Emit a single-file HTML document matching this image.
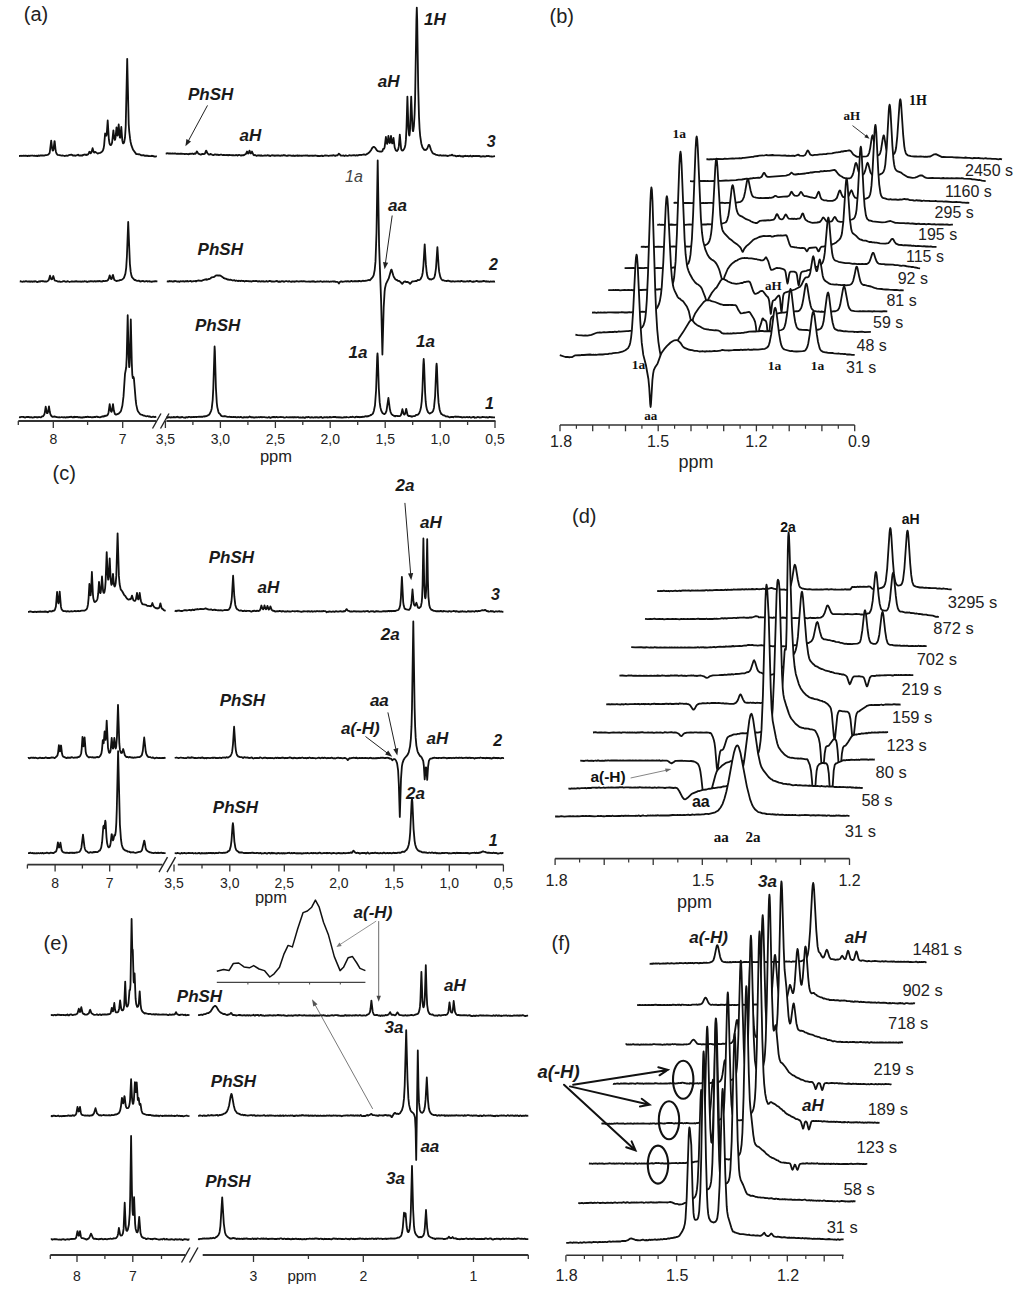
<!DOCTYPE html>
<html><head><meta charset="utf-8"><style>html,body{margin:0;padding:0;background:#fff;width:1024px;height:1292px;overflow:hidden}svg{display:block}</style></head>
<body><svg width="1024" height="1292" viewBox="0 0 1024 1292"><text x="23.8" y="20.5" font-family="Liberation Sans" font-size="20.0" font-weight="normal" font-style="normal" text-anchor="start" fill="#222">(a)</text>
<path d="M19.0,156.0L20.6,155.9 20.9,155.7 21.8,156.0 22.1,155.8 22.3,155.9 23.4,155.7 24.0,155.9 25.2,155.7 27.7,156.0 29.0,155.7 29.8,156.0 30.6,155.7 32.0,155.7 32.3,155.5 33.8,155.9 34.6,155.6 35.6,156.0 36.5,155.7 36.7,156.0 37.1,155.8 37.5,156.0 38.2,155.5 38.4,155.8 38.9,155.7 39.3,155.9 39.9,155.5 42.9,155.4 44.1,155.6 45.5,155.1 47.0,155.2 47.1,155.0 48.2,154.7 49.4,153.4 49.8,152.0 51.2,140.7 52.2,148.9 52.5,150.1 52.9,150.6 53.3,150.1 53.6,148.8 54.4,141.8 54.5,141.2 54.6,141.1 54.7,141.3 55.5,149.3 56.0,152.0 56.6,153.7 57.6,154.8 59.7,155.1 60.2,155.4 60.6,155.3 61.5,155.7 63.0,155.5 64.5,156.0 65.3,155.9 66.3,155.5 67.1,155.9 67.9,155.7 68.7,155.2 71.4,154.6 72.5,155.1 72.9,155.5 74.3,155.4 75.1,155.8 75.3,155.6 75.7,155.7 76.1,155.3 76.8,155.4 77.1,155.0 78.3,154.7 78.8,155.4 79.3,155.6 79.6,155.4 79.8,155.5 80.8,155.4 81.4,155.7 81.9,155.3 82.4,155.5 82.9,155.0 83.4,155.1 84.2,154.6 84.5,154.7 84.8,154.5 85.2,154.8 85.6,154.6 86.2,155.0 86.5,154.7 87.1,154.9 87.3,154.6 88.0,154.4 88.8,153.2 89.3,151.9 89.7,151.7 90.6,153.3 91.4,152.6 92.6,148.2 93.5,151.5 94.1,152.6 94.8,152.4 95.2,151.9 95.4,151.9 97.7,153.6 98.0,153.4 98.4,153.4 98.7,153.1 100.1,152.9 101.7,152.0 102.4,151.2 102.9,150.5 103.6,148.4 104.1,145.3 105.1,133.5 105.5,134.1 105.9,134.1 106.4,135.7 106.7,134.6 107.7,120.5 108.9,139.7 109.5,143.4 110.0,144.6 110.5,145.0 111.1,144.9 111.6,144.1 112.1,142.5 113.4,130.4 114.2,137.9 114.8,139.9 115.2,139.4 115.6,137.2 116.5,127.3 117.3,134.9 117.5,135.6 117.7,135.3 118.7,124.5 119.8,137.4 120.1,137.8 120.4,136.8 121.3,127.0 122.3,140.4 122.9,143.0 123.2,143.3 123.7,143.1 124.2,142.1 125.0,137.5 125.7,126.6 127.2,58.8 128.7,124.0 129.2,131.2 130.1,138.7 130.6,142.0 131.5,145.7 133.1,149.8 136.3,154.1 136.6,154.0 137.0,154.2 138.0,154.1 138.3,154.4 139.3,154.2 141.1,155.1 141.3,155.4 143.4,155.1 145.0,155.9 145.8,155.6 146.3,155.9 146.8,155.6 147.7,155.8 147.8,155.6 148.3,156.1 148.9,156.2 149.2,156.0 149.9,156.2 151.2,156.1 151.9,155.7 152.3,156.0 152.9,155.9 153.4,156.3 154.0,156.2 154.4,156.5 155.3,156.6 156.8,156.2" fill="none" stroke="#111" stroke-width="1.80" stroke-linejoin="round"/>
<path d="M165.7,153.3L166.8,153.5 167.9,153.2 168.4,153.5 170.2,153.4 171.3,153.7 172.6,153.3 173.2,153.7 175.0,153.4 176.7,153.9 177.9,153.6 179.9,153.8 180.3,153.6 180.9,153.8 181.4,153.6 183.0,153.9 184.0,153.8 184.8,154.1 186.1,153.8 186.9,153.9 187.2,154.2 188.0,154.0 188.4,154.3 189.0,153.9 189.5,154.1 189.8,153.6 191.2,153.9 192.2,153.5 193.2,154.1 193.9,153.7 194.5,153.8 194.7,153.5 195.2,153.8 195.5,153.7 196.3,152.6 196.7,151.5 197.0,151.5 198.3,153.6 200.8,154.7 202.3,153.9 203.8,154.2 204.9,153.7 206.1,150.7 206.4,150.8 207.5,153.4 209.1,154.7 210.7,153.9 211.4,154.4 211.9,154.4 212.2,154.9 213.4,155.1 215.0,154.4 216.2,154.6 216.8,154.9 217.4,154.6 218.1,154.8 218.2,154.7 218.9,155.1 220.6,154.7 221.8,154.7 222.8,155.2 223.7,154.9 226.1,155.1 227.1,154.8 227.5,155.2 228.2,155.4 229.1,154.8 230.2,155.2 231.5,155.1 231.9,155.4 232.4,155.2 233.0,155.4 233.3,155.1 234.3,155.4 235.1,155.4 235.9,154.9 236.5,155.2 236.9,155.1 237.4,155.6 239.1,154.8 240.6,155.5 241.3,155.5 241.7,155.2 242.4,155.4 242.8,155.1 243.2,155.4 243.9,155.0 244.1,155.1 244.8,154.5 245.8,154.2 247.0,151.5 248.0,153.5 248.3,153.6 248.7,153.0 249.5,150.6 250.6,153.4 250.9,153.5 251.4,152.9 252.0,151.5 253.5,155.0 254.3,155.3 255.1,154.9 256.7,155.9 257.8,155.3 258.4,155.5 258.8,155.3 259.6,155.6 260.0,155.4 260.2,155.7 260.6,155.4 260.7,155.6 261.3,155.5 261.6,155.7 261.8,155.5 262.8,155.8 263.7,155.7 264.0,155.5 265.0,155.6 265.2,155.3 266.7,155.6 267.8,155.2 268.4,155.6 269.0,155.5 269.3,155.8 270.1,155.7 270.4,156.0 271.9,155.2 272.7,155.5 274.2,155.5 274.6,155.8 276.0,155.5 276.4,155.7 276.7,155.4 278.2,155.5 278.6,155.3 280.2,155.9 281.5,155.4 282.5,155.6 283.5,155.2 283.8,155.4 284.0,155.1 284.8,155.5 285.3,155.3 287.0,156.0 287.8,155.5 289.1,155.5 289.8,155.3 292.0,155.9 292.6,155.6 293.0,155.8 293.4,155.5 293.9,155.9 294.3,155.7 294.8,156.0 295.5,155.6 295.6,155.8 296.6,155.5 297.3,155.8 297.6,155.5 298.1,155.9 298.7,155.6 299.1,155.9 299.4,155.5 299.7,155.7 300.5,155.6 300.9,155.9 301.5,155.7 302.0,155.9 302.8,155.6 303.2,155.7 303.6,155.5 304.4,155.7 305.4,155.5 305.7,155.7 307.2,155.4 308.2,155.8 309.2,155.6 309.9,155.9 310.3,155.7 311.6,155.6 312.1,155.9 312.8,155.6 313.1,155.8 315.5,155.5 316.9,155.9 317.1,155.7 317.6,156.1 318.3,155.9 318.7,156.1 319.1,155.9 319.2,156.1 320.3,156.0 321.3,155.7 322.1,155.9 322.3,155.7 322.5,156.1 323.0,156.2 324.5,155.5 324.8,155.7 325.8,155.5 326.8,155.7 327.6,155.6 328.7,156.0 329.7,155.7 332.9,155.5 333.4,155.2 335.2,155.9 335.6,155.9 336.0,155.4 336.2,155.6 336.7,155.3 337.5,155.3 338.9,153.7 340.8,155.5 342.6,155.7 343.6,155.5 344.4,156.0 345.8,155.3 346.3,155.7 347.3,155.8 348.6,155.6 349.2,155.2 350.2,155.3 351.1,155.7 352.1,155.4 354.1,155.2 355.6,155.6 356.4,155.2 357.9,155.5 358.9,154.9 359.9,154.8 360.1,155.0 360.5,154.9 361.4,155.0 363.9,154.3 365.7,154.8 366.3,154.5 366.6,154.1 367.0,154.1 367.2,153.7 368.2,153.4 368.5,152.9 369.0,152.7 369.7,151.9 371.0,150.2 372.2,148.0 373.4,146.8 374.1,146.9 375.3,147.9 376.8,150.3 378.0,151.2 380.0,151.7 380.3,151.5 380.6,151.6 381.8,151.5 382.4,151.1 383.2,148.9 384.1,148.7 384.6,147.3 385.9,136.9 386.7,142.9 387.2,143.9 387.6,142.6 388.4,135.9 389.2,141.7 389.7,143.0 390.0,142.7 390.2,141.7 391.0,135.9 391.8,142.0 392.2,143.4 392.5,143.4 392.6,143.2 393.5,137.9 394.7,147.5 395.8,150.3 396.4,150.8 397.1,151.0 398.1,149.6 398.8,146.4 399.8,134.7 401.1,148.6 401.4,149.7 402.0,150.5 403.0,150.3 404.1,149.0 404.8,147.4 405.4,144.7 405.9,139.9 406.5,127.9 407.4,96.6 408.4,126.9 409.0,134.8 409.3,135.5 409.5,135.2 410.0,130.7 411.2,96.6 412.5,128.5 412.8,130.7 413.0,131.1 413.2,131.0 413.9,126.2 414.6,114.2 415.1,98.8 416.4,20.0 416.8,7.6 417.2,20.4 418.2,86.8 419.0,116.8 419.6,129.0 420.2,136.2 421.3,143.4 422.5,147.5 424.3,149.9 425.3,150.0 425.8,149.7 426.3,149.8 427.3,148.5 428.7,144.8 429.1,144.8 429.6,145.5 431.1,150.1 432.5,152.9 433.5,153.7 435.4,154.4 436.0,154.9 436.8,154.8 438.9,155.5 440.8,155.2 441.6,155.7 443.6,155.4 444.7,155.6 445.0,155.4 448.0,156.0 449.6,155.4 451.1,155.4 451.6,154.8 452.1,154.7 453.1,155.6 454.8,155.7 456.3,156.3 457.7,155.8 458.6,156.0 459.9,155.7 461.0,156.4 461.7,156.2 462.3,156.6 462.9,156.2 463.2,156.5 463.5,156.5 464.1,156.0 464.4,156.2 465.3,155.7 466.0,156.1 468.0,155.9 468.8,156.4 470.2,155.7 470.6,155.7 471.2,156.3 472.0,156.5 472.7,156.0 473.3,156.0 473.6,155.8 475.1,156.2 475.9,155.8 477.4,156.2 477.7,155.9 478.0,156.1 479.0,155.8 480.5,156.6 481.0,156.4 481.4,156.6 482.5,156.4 482.9,156.1 484.6,156.5 485.3,156.3 485.7,156.5 486.9,155.8 487.6,156.2 489.0,156.0 489.6,156.4 490.8,156.4 491.3,156.6 491.6,156.4 492.3,156.6 495.0,156.2" fill="none" stroke="#111" stroke-width="1.80" stroke-linejoin="round"/>
<path d="M19.8,281.3L20.1,281.4 20.6,281.2 21.3,281.6 21.5,281.5 22.6,281.8 23.5,281.3 24.5,281.6 26.0,281.1 27.5,281.6 28.7,281.3 29.9,281.5 30.2,281.9 30.7,281.5 31.7,281.4 32.7,281.8 33.6,281.4 34.6,281.5 34.9,281.2 35.8,281.4 36.5,281.8 37.1,281.8 37.2,282.0 38.2,281.8 38.7,281.4 39.2,281.6 39.7,281.3 40.1,281.6 41.1,281.2 42.3,281.1 42.8,281.3 43.0,281.1 44.7,281.6 45.3,281.4 46.8,281.6 47.8,281.0 48.8,279.9 50.0,275.7 51.2,279.3 52.1,279.2 53.3,276.0 54.5,280.0 55.1,280.7 56.7,280.9 57.8,281.6 58.9,281.5 59.2,281.3 60.6,281.9 62.2,281.7 63.6,281.1 64.5,281.2 65.3,281.7 65.7,281.6 66.0,281.9 66.3,281.6 67.2,281.5 67.4,281.1 67.9,281.2 69.6,282.0 71.1,281.5 72.3,281.4 74.1,281.7 74.4,281.4 75.2,281.5 75.5,281.2 75.9,281.4 76.7,281.2 77.0,281.7 78.4,281.5 79.2,281.7 80.3,281.4 80.9,281.8 82.4,281.3 83.6,281.6 84.7,281.2 84.9,281.4 85.5,281.3 85.9,281.5 86.5,281.4 87.2,282.0 88.7,281.4 89.5,281.6 90.1,281.2 90.6,281.3 90.8,281.2 93.7,281.5 94.4,281.2 95.0,281.3 95.2,281.1 95.7,281.5 97.4,281.1 97.6,281.3 97.8,281.2 98.4,281.4 99.1,281.0 99.9,281.1 100.2,281.5 101.0,281.3 102.0,281.5 102.5,281.4 103.0,280.9 103.4,280.8 103.9,281.2 104.7,281.2 105.8,280.8 106.7,280.9 108.0,280.0 108.8,278.5 109.7,275.3 110.8,278.6 111.3,279.1 111.9,278.5 112.7,275.3 113.0,275.0 114.2,279.5 114.5,280.0 116.3,281.0 118.3,280.6 118.8,280.7 120.3,279.9 120.6,280.1 121.7,279.9 123.6,278.4 124.2,277.3 125.4,273.6 126.2,267.8 126.9,256.5 128.2,222.0 129.9,263.8 130.7,271.9 131.4,275.4 132.0,277.1 133.8,279.3 134.7,280.0 135.0,279.8 136.4,280.6 137.3,280.9 138.8,280.6 140.1,281.5 143.2,280.9 143.9,281.4 144.7,281.6 146.2,281.0 147.0,281.2 147.7,281.6 147.9,281.3 148.8,281.4 149.0,281.1 149.7,281.6 150.2,281.5 150.5,281.7 151.0,281.5 151.7,281.8 153.0,281.3 153.8,281.5 155.3,281.2 157.4,281.3" fill="none" stroke="#111" stroke-width="1.80" stroke-linejoin="round"/>
<path d="M166.8,281.3L168.5,281.5 169.3,281.0 169.7,281.3 170.0,281.1 170.9,281.4 171.7,281.2 172.3,281.5 173.2,281.6 174.1,281.1 174.8,281.3 175.2,281.0 175.6,281.2 176.2,281.2 176.8,281.6 178.3,281.4 179.5,281.9 179.9,281.5 180.9,281.1 181.3,281.4 183.2,281.2 184.3,281.6 185.6,281.1 186.0,281.3 187.5,281.0 188.5,281.5 190.0,281.0 191.2,281.2 191.5,281.5 192.9,281.4 193.5,281.1 194.6,281.2 195.2,281.0 195.5,281.3 196.3,281.0 196.5,281.2 197.0,280.8 198.0,280.5 201.6,280.9 202.5,280.3 204.7,279.7 205.0,279.4 205.8,279.6 206.2,279.3 206.5,279.7 206.8,279.4 207.7,279.6 208.7,279.0 209.4,279.0 210.4,278.5 211.5,277.4 213.6,277.2 214.8,276.5 215.5,275.7 215.9,275.7 216.3,275.3 217.0,275.5 217.5,275.3 217.9,275.6 218.6,275.5 219.0,275.7 219.3,275.4 220.6,275.7 223.5,277.7 223.7,278.1 223.9,277.9 224.2,278.3 224.4,278.1 225.0,278.7 225.7,278.6 227.4,279.5 227.9,279.3 229.2,279.8 230.5,279.6 232.7,280.5 234.2,280.1 235.5,280.9 236.4,280.5 238.1,281.2 238.7,280.7 240.6,281.1 241.1,280.7 241.6,280.9 242.1,280.8 242.6,281.0 243.9,281.0 244.6,281.5 246.0,280.8 247.8,281.1 248.1,281.0 249.0,281.4 250.2,281.1 250.6,281.4 251.7,281.6 252.1,281.2 254.2,281.0 255.0,281.2 255.5,280.9 256.2,280.9 257.7,281.5 257.9,281.2 258.4,281.5 259.3,281.2 260.4,281.6 261.9,281.2 262.2,281.5 263.0,281.3 263.4,281.5 263.7,281.1 264.1,281.5 265.1,281.6 266.6,281.0 267.3,281.5 268.1,281.6 268.7,281.1 269.3,281.2 269.8,280.8 270.5,281.2 270.9,281.2 271.3,281.6 272.1,281.4 272.6,281.7 272.8,281.5 274.3,281.7 276.2,281.2 276.3,281.0 276.6,280.9 277.1,281.3 277.7,281.2 278.1,281.8 278.6,281.6 279.2,281.8 279.6,281.5 280.1,281.9 282.0,281.1 283.3,281.3 283.9,281.8 286.1,281.0 288.1,281.6 288.8,281.2 289.6,281.2 290.2,281.6 291.4,281.8 291.7,281.5 292.2,281.7 292.7,281.6 292.9,281.3 293.4,281.7 294.0,281.5 294.5,281.8 294.8,281.5 295.1,281.7 296.6,281.2 298.9,281.7 299.5,281.4 301.8,281.2 302.5,281.5 303.7,281.1 306.0,281.7 307.3,281.6 307.8,281.7 309.3,281.5 310.1,281.8 310.3,281.6 311.6,281.3 312.1,281.6 312.8,281.3 313.0,281.5 313.4,281.2 314.3,281.6 314.5,281.5 314.9,281.9 315.6,281.9 317.7,281.3 318.2,281.6 319.3,281.7 320.1,281.2 322.6,281.8 324.0,281.3 324.5,281.6 325.5,281.7 326.4,281.4 326.8,281.6 328.6,281.5 329.4,281.8 330.5,281.5 330.8,281.7 331.9,281.6 332.3,281.3 333.1,281.5 334.1,281.3 335.0,281.5 335.4,281.9 337.0,281.8 338.0,282.3 338.9,283.5 339.6,282.3 340.7,281.5 341.9,281.5 342.3,281.8 345.1,281.3 345.4,281.4 346.1,281.2 346.6,281.5 348.0,281.2 349.1,281.6 350.2,281.5 351.1,280.9 351.7,280.9 352.6,281.5 354.2,281.1 354.8,281.3 355.1,281.0 355.7,281.3 356.2,281.2 356.5,281.4 357.2,281.1 357.7,281.4 358.0,281.2 358.6,281.3 359.2,280.8 361.0,281.4 363.2,280.7 363.7,281.0 364.1,280.8 364.7,281.0 365.3,280.7 365.5,280.9 365.9,280.9 366.2,280.6 367.7,280.4 368.2,280.0 369.0,280.2 369.2,280.0 369.8,280.3 372.7,277.1 373.7,275.1 374.7,270.0 375.5,261.4 376.5,232.6 377.7,160.4 379.1,245.6 381.1,300.7 382.4,354.6 383.7,307.1 384.6,291.6 385.0,288.2 386.0,283.9 388.7,278.4 391.0,270.2 391.4,269.6 391.7,269.9 393.3,275.6 394.2,277.6 395.3,279.3 396.5,280.1 397.0,280.0 397.9,280.8 399.3,281.0 399.7,281.2 400.1,281.8 400.7,282.0 401.0,282.7 402.2,283.9 403.7,282.1 404.5,281.6 405.3,281.4 406.0,282.0 406.3,281.9 407.0,282.1 407.5,281.9 408.4,282.4 408.6,282.3 410.1,283.9 412.3,281.4 413.8,281.4 415.3,281.0 416.3,281.2 417.8,280.0 418.8,280.2 419.6,280.0 420.7,278.8 421.4,277.5 422.0,276.0 422.7,272.7 423.4,265.8 424.7,244.4 425.9,264.4 426.7,272.5 427.2,275.4 428.1,278.1 429.5,279.3 430.2,279.1 431.4,279.6 432.9,278.7 433.6,278.6 434.4,277.1 435.0,275.1 436.0,268.1 437.4,247.1 438.6,265.8 439.2,271.9 440.3,276.9 441.1,278.7 442.1,280.0 442.8,280.3 443.5,280.2 444.6,280.8 446.1,280.8 446.7,281.1 447.5,280.7 448.2,280.6 450.2,281.4 450.4,281.2 451.1,281.6 451.4,281.4 452.2,281.5 452.7,281.2 454.6,281.7 455.6,281.3 457.2,281.4 458.0,281.2 459.4,281.3 459.9,281.6 461.4,280.9 462.9,281.5 464.0,281.3 465.5,281.7 467.3,281.2 468.9,281.5 469.6,281.0 470.4,281.0 471.1,281.4 472.5,281.8 473.0,281.6 473.5,281.8 473.9,281.5 474.5,281.7 474.8,281.3 475.4,281.4 476.8,280.9 478.4,281.7 478.6,281.5 479.1,281.8 479.7,281.5 480.6,281.4 481.2,281.7 481.5,281.5 482.2,281.4 482.5,281.1 483.0,281.4 483.7,280.8 486.0,281.7 486.3,281.3 486.7,281.7 488.0,281.3 489.5,281.8 490.1,281.7 490.5,281.3 491.8,281.6 493.3,281.3 494.1,281.7 495.0,281.5" fill="none" stroke="#111" stroke-width="1.80" stroke-linejoin="round"/>
<path d="M19.0,417.2L19.9,417.3 21.2,416.9 23.1,416.9 23.5,417.1 23.8,416.9 24.5,417.4 25.3,417.6 25.9,417.2 27.2,416.8 27.5,417.0 27.7,416.9 29.0,417.0 29.4,417.3 31.1,417.1 32.6,417.6 35.1,417.0 35.6,417.2 36.3,417.1 36.6,417.4 37.1,417.2 37.8,417.5 38.4,417.1 39.3,417.0 40.7,417.4 42.3,416.3 42.7,416.4 43.1,416.2 44.3,414.5 44.9,412.1 45.7,406.7 46.7,412.3 47.0,413.1 47.5,413.2 48.0,412.0 49.0,406.5 49.8,411.8 50.5,414.6 51.7,416.4 51.9,416.3 52.5,416.8 53.4,416.8 54.0,416.4 54.7,416.8 55.1,416.7 56.3,416.9 56.6,417.2 57.0,417.1 58.3,417.4 59.2,417.2 60.0,417.5 61.9,417.0 63.1,417.5 64.2,417.1 65.3,417.5 66.0,417.5 66.7,417.2 67.1,417.3 67.3,417.1 68.1,417.4 68.6,417.1 68.8,417.2 70.0,416.8 70.3,417.0 71.2,416.7 71.5,417.0 72.1,417.3 73.5,417.0 73.9,417.3 74.4,417.3 74.7,416.8 75.0,417.0 75.5,416.8 76.2,417.1 76.3,416.9 77.3,416.8 78.3,417.4 79.1,417.1 81.0,417.5 81.4,417.3 82.2,417.6 82.5,417.3 82.9,417.5 83.4,417.2 84.0,417.4 85.6,416.9 86.9,417.0 87.4,416.6 88.4,416.8 88.9,417.2 89.2,417.0 89.9,417.2 90.4,417.0 90.6,417.2 91.6,417.3 92.0,417.1 92.3,417.3 94.4,417.0 95.7,417.1 96.4,416.6 97.3,416.6 97.8,417.1 98.4,417.0 99.9,417.4 102.5,416.4 102.8,416.5 103.3,416.3 103.6,416.6 104.3,416.1 104.5,416.3 105.0,415.7 105.8,416.0 106.0,415.7 106.8,415.6 107.5,415.0 108.1,414.0 108.6,412.2 109.7,404.1 110.7,410.6 111.2,411.7 111.6,411.8 111.9,411.0 113.0,404.2 113.9,410.8 114.9,414.0 116.0,414.7 118.7,413.6 120.6,411.6 121.1,410.6 122.4,405.5 123.5,396.4 125.0,373.9 126.2,367.5 126.7,357.1 127.7,315.2 128.6,354.6 129.1,366.6 129.3,367.2 129.5,365.7 129.8,359.5 130.8,319.4 131.8,363.1 132.3,374.7 132.8,378.1 133.5,377.0 133.9,378.2 135.7,400.2 136.3,404.9 137.4,409.9 137.9,411.3 140.0,414.0 140.6,414.4 140.8,414.3 141.2,414.7 142.1,414.8 143.3,415.6 144.8,415.7 145.1,416.0 146.3,416.3 147.4,416.0 148.5,416.5 149.2,416.4 149.8,416.6 150.0,416.4 150.4,416.8 151.6,417.1 153.2,416.7 154.8,417.2 156.3,416.7" fill="none" stroke="#111" stroke-width="1.80" stroke-linejoin="round"/>
<path d="M166.4,417.5L167.3,417.4 167.6,417.7 168.2,417.2 168.6,417.4 169.1,417.2 170.9,417.5 171.3,417.2 172.8,417.3 173.5,417.0 176.0,417.3 176.5,416.8 177.1,416.9 177.5,416.7 178.1,417.3 178.6,417.1 179.6,417.3 179.8,417.5 182.4,417.0 184.0,417.7 184.3,417.5 185.3,417.8 186.3,417.1 187.8,417.5 188.4,416.8 189.7,416.9 190.6,417.3 192.1,417.0 192.8,417.2 193.5,416.9 194.5,417.1 194.8,416.8 195.2,417.0 195.9,416.8 196.3,417.2 197.0,416.9 198.5,416.9 199.1,416.6 200.2,416.9 200.5,416.7 201.1,416.8 201.7,416.6 202.5,416.9 204.0,416.2 204.7,416.6 205.2,416.3 205.6,416.4 205.9,416.0 206.7,416.2 207.1,415.7 207.9,415.5 208.2,415.0 208.9,414.8 209.7,413.9 211.0,411.1 211.7,408.7 212.7,399.8 213.3,388.1 214.6,346.5 214.9,351.2 215.9,387.6 216.8,403.0 217.3,407.1 218.4,411.8 219.1,413.3 219.8,413.8 221.1,415.6 222.0,416.1 222.9,416.3 224.4,416.1 224.6,416.3 225.0,416.2 227.5,416.8 228.9,416.8 229.1,416.7 229.8,416.9 230.3,416.8 230.7,417.1 231.1,416.9 232.3,417.2 233.8,416.9 234.6,417.2 235.1,417.0 236.8,417.3 238.3,417.0 239.3,417.3 240.7,416.9 241.6,417.1 242.2,417.7 243.1,417.7 243.7,417.2 244.6,417.1 245.1,417.3 246.6,417.1 247.5,417.5 247.8,417.1 248.1,417.4 249.6,416.5 251.3,417.4 252.0,417.1 253.9,417.5 254.3,417.3 254.6,417.6 256.0,417.2 257.4,417.4 258.9,417.0 259.3,417.4 260.4,417.1 260.7,416.8 262.0,417.4 262.5,417.1 264.8,417.1 265.2,417.4 266.1,417.4 267.4,417.7 268.9,417.0 269.7,417.6 269.9,417.5 270.5,417.9 271.5,417.3 271.7,417.4 272.4,417.0 273.0,417.3 273.3,417.0 274.5,417.0 274.9,417.4 275.6,417.3 276.4,416.8 277.8,417.4 279.2,417.1 281.2,417.0 281.3,417.2 283.1,417.2 284.2,417.6 286.0,417.3 286.4,417.0 287.9,417.4 290.2,417.1 290.8,417.3 291.9,417.1 292.7,417.4 292.9,417.2 293.6,417.5 294.1,417.2 294.6,417.4 295.1,417.1 296.6,417.4 297.3,417.1 298.2,417.1 299.1,417.7 300.4,417.3 301.9,417.7 302.7,417.2 303.2,417.5 303.7,417.3 304.6,417.9 305.2,417.8 306.2,417.0 307.2,417.3 308.3,416.9 309.7,417.5 310.6,417.4 311.0,417.6 311.5,417.2 312.0,417.2 312.6,417.3 313.0,417.7 313.8,417.7 314.1,417.4 315.1,417.2 315.6,417.5 316.2,417.1 316.3,417.3 317.3,417.2 318.1,417.7 319.0,417.4 319.3,417.5 320.2,417.1 320.5,417.3 321.2,416.9 321.7,417.5 322.7,417.9 323.2,417.5 323.6,417.6 324.2,417.1 325.3,417.3 326.3,417.1 327.2,417.4 327.5,417.2 327.8,417.5 328.0,417.3 329.0,417.3 329.2,417.1 329.8,417.0 331.5,417.4 332.9,417.0 334.4,417.0 334.7,416.8 335.0,417.0 335.8,417.0 336.2,417.3 338.1,417.1 338.9,417.5 340.2,417.2 341.0,417.6 341.5,417.5 341.7,417.7 342.8,417.7 344.3,417.1 344.5,417.2 344.8,417.1 345.1,417.4 346.0,417.1 346.3,417.3 346.6,417.0 348.6,417.5 350.0,417.1 350.2,416.9 351.8,417.1 352.8,416.7 354.1,417.3 355.2,417.1 355.3,417.2 355.8,416.8 356.4,416.9 356.9,416.6 357.3,417.0 359.3,417.0 360.0,417.3 360.5,417.0 360.8,417.2 361.5,416.8 361.9,417.1 362.6,416.7 364.3,416.8 365.0,416.4 365.9,416.2 366.6,416.5 368.9,416.0 370.1,415.5 370.6,415.0 371.1,415.1 372.9,413.6 373.9,410.8 375.0,405.3 376.1,390.0 377.2,356.9 377.5,353.4 377.8,357.1 378.8,388.0 379.7,402.4 380.4,407.4 381.2,410.5 382.4,412.9 384.0,414.0 384.6,414.0 385.4,413.4 386.5,410.8 388.4,397.9 389.8,408.6 390.5,411.8 391.7,414.5 392.3,414.7 392.7,415.2 393.4,415.3 393.9,415.9 394.2,415.8 394.9,416.3 395.3,415.9 395.6,416.2 395.9,415.9 397.1,415.9 397.4,416.2 397.9,415.9 398.4,416.2 399.8,416.2 400.7,415.3 401.4,413.7 402.4,409.2 403.6,413.7 404.1,414.5 404.6,414.5 405.3,413.1 406.2,408.8 407.5,414.8 407.8,415.3 408.6,416.0 409.6,415.9 410.8,416.1 411.2,416.6 411.6,416.5 411.8,416.7 412.0,416.5 412.5,416.5 413.0,416.1 414.4,416.2 415.0,416.0 416.4,414.8 417.9,414.8 418.6,413.9 419.3,413.0 420.3,410.3 421.0,407.3 421.7,401.6 422.4,390.5 423.3,364.9 423.7,359.0 424.1,364.5 425.1,392.4 425.7,401.7 426.2,406.0 426.9,409.4 428.0,412.1 428.8,413.0 429.9,413.6 432.1,412.3 433.1,410.9 434.0,407.7 435.1,396.1 436.3,366.6 436.6,363.6 436.9,366.6 437.9,392.7 438.6,402.9 439.6,409.5 440.5,412.4 441.3,414.0 441.6,414.2 441.9,414.1 443.3,415.4 444.4,415.3 445.6,416.4 447.9,416.5 449.3,417.3 449.9,417.4 451.2,416.8 452.9,417.0 453.3,417.3 453.8,416.9 455.1,416.5 455.7,416.9 456.5,416.6 456.7,416.8 457.6,416.6 457.9,416.9 459.0,416.7 460.1,417.2 461.2,417.0 461.6,417.1 461.9,417.5 462.8,417.4 463.4,417.1 464.3,417.1 465.2,417.4 466.7,417.0 468.8,417.3 469.6,416.9 470.6,417.6 471.1,417.6 472.5,417.2 473.0,416.9 474.0,417.0 474.5,417.8 475.0,417.5 475.3,417.7 476.0,417.5 476.3,417.6 477.6,417.0 478.8,417.1 479.5,417.5 481.4,417.3 482.5,416.9 483.9,417.2 484.9,417.1 485.5,417.4 486.4,417.3 486.7,417.1 487.9,417.6 489.7,416.9 491.4,417.3 491.6,417.1 493.2,417.4 495.0,417.3" fill="none" stroke="#111" stroke-width="1.80" stroke-linejoin="round"/>
<line x1="18.3" y1="421.0" x2="156.2" y2="421.0" stroke="#333" stroke-width="1.80"/>
<line x1="166.4" y1="421.0" x2="495.5" y2="421.0" stroke="#333" stroke-width="1.80"/>
<line x1="53.3" y1="421.0" x2="53.3" y2="428.0" stroke="#333" stroke-width="1.30"/>
<line x1="122.7" y1="421.0" x2="122.7" y2="428.0" stroke="#333" stroke-width="1.30"/>
<line x1="165.4" y1="421.0" x2="165.4" y2="428.0" stroke="#333" stroke-width="1.30"/>
<line x1="220.4" y1="421.0" x2="220.4" y2="428.0" stroke="#333" stroke-width="1.30"/>
<line x1="275.4" y1="421.0" x2="275.4" y2="428.0" stroke="#333" stroke-width="1.30"/>
<line x1="330.2" y1="421.0" x2="330.2" y2="428.0" stroke="#333" stroke-width="1.30"/>
<line x1="385.2" y1="421.0" x2="385.2" y2="428.0" stroke="#333" stroke-width="1.30"/>
<line x1="440.2" y1="421.0" x2="440.2" y2="428.0" stroke="#333" stroke-width="1.30"/>
<line x1="495.0" y1="421.0" x2="495.0" y2="428.0" stroke="#333" stroke-width="1.30"/>
<line x1="18.3" y1="421.0" x2="18.3" y2="425.0" stroke="#333" stroke-width="1.30"/>
<line x1="87.6" y1="421.0" x2="87.6" y2="425.0" stroke="#333" stroke-width="1.30"/>
<line x1="192.9" y1="421.0" x2="192.9" y2="425.0" stroke="#333" stroke-width="1.30"/>
<line x1="247.9" y1="421.0" x2="247.9" y2="425.0" stroke="#333" stroke-width="1.30"/>
<line x1="302.8" y1="421.0" x2="302.8" y2="425.0" stroke="#333" stroke-width="1.30"/>
<line x1="357.7" y1="421.0" x2="357.7" y2="425.0" stroke="#333" stroke-width="1.30"/>
<line x1="412.7" y1="421.0" x2="412.7" y2="425.0" stroke="#333" stroke-width="1.30"/>
<line x1="467.6" y1="421.0" x2="467.6" y2="425.0" stroke="#333" stroke-width="1.30"/>
<text x="53.3" y="444.0" font-family="Liberation Sans" font-size="14.0" font-weight="normal" font-style="normal" text-anchor="middle" fill="#222">8</text>
<text x="122.7" y="444.0" font-family="Liberation Sans" font-size="14.0" font-weight="normal" font-style="normal" text-anchor="middle" fill="#222">7</text>
<text x="165.4" y="444.0" font-family="Liberation Sans" font-size="14.0" font-weight="normal" font-style="normal" text-anchor="middle" fill="#222">3,5</text>
<text x="220.4" y="444.0" font-family="Liberation Sans" font-size="14.0" font-weight="normal" font-style="normal" text-anchor="middle" fill="#222">3,0</text>
<text x="275.4" y="444.0" font-family="Liberation Sans" font-size="14.0" font-weight="normal" font-style="normal" text-anchor="middle" fill="#222">2,5</text>
<text x="330.2" y="444.0" font-family="Liberation Sans" font-size="14.0" font-weight="normal" font-style="normal" text-anchor="middle" fill="#222">2,0</text>
<text x="385.2" y="444.0" font-family="Liberation Sans" font-size="14.0" font-weight="normal" font-style="normal" text-anchor="middle" fill="#222">1,5</text>
<text x="440.2" y="444.0" font-family="Liberation Sans" font-size="14.0" font-weight="normal" font-style="normal" text-anchor="middle" fill="#222">1,0</text>
<text x="495.0" y="444.0" font-family="Liberation Sans" font-size="14.0" font-weight="normal" font-style="normal" text-anchor="middle" fill="#222">0,5</text>
<line x1="152.5" y1="428.5" x2="161.0" y2="413.5" stroke="#222" stroke-width="1.40"/>
<line x1="160.5" y1="428.5" x2="169.0" y2="413.5" stroke="#222" stroke-width="1.40"/>
<text x="276.0" y="462.0" font-family="Liberation Sans" font-size="16.5" font-weight="normal" font-style="normal" text-anchor="middle" fill="#222">ppm</text>
<text x="424.0" y="25.0" font-family="Liberation Sans" font-size="17.0" font-weight="bold" font-style="italic" text-anchor="start" fill="#1a1a1a">1H</text>
<text x="377.7" y="86.5" font-family="Liberation Sans" font-size="17.0" font-weight="bold" font-style="italic" text-anchor="start" fill="#1a1a1a">aH</text>
<text x="188.0" y="100.0" font-family="Liberation Sans" font-size="17.0" font-weight="bold" font-style="italic" text-anchor="start" fill="#1a1a1a">PhSH</text>
<text x="239.5" y="141.0" font-family="Liberation Sans" font-size="17.0" font-weight="bold" font-style="italic" text-anchor="start" fill="#1a1a1a">aH</text>
<text x="486.7" y="146.5" font-family="Liberation Sans" font-size="16.0" font-weight="bold" font-style="italic" text-anchor="start" fill="#1a1a1a">3</text>
<line x1="207.5" y1="105.4" x2="188.3" y2="141.0" stroke="#222" stroke-width="1.00"/>
<path d="M185.4,146.3L186.4,138.9L191.0,141.4Z" fill="#222"/>
<text x="345.0" y="181.7" font-family="Liberation Sans" font-size="16.0" font-weight="normal" font-style="italic" text-anchor="start" fill="#444">1a</text>
<text x="388.0" y="211.0" font-family="Liberation Sans" font-size="17.0" font-weight="bold" font-style="italic" text-anchor="start" fill="#1a1a1a">aa</text>
<line x1="392.2" y1="215.5" x2="385.4" y2="263.4" stroke="#222" stroke-width="1.00"/>
<path d="M384.6,269.3L383.0,262.0L388.2,262.7Z" fill="#222"/>
<text x="197.6" y="255.4" font-family="Liberation Sans" font-size="17.0" font-weight="bold" font-style="italic" text-anchor="start" fill="#1a1a1a">PhSH</text>
<text x="489.0" y="269.5" font-family="Liberation Sans" font-size="16.0" font-weight="bold" font-style="italic" text-anchor="start" fill="#1a1a1a">2</text>
<text x="195.0" y="330.5" font-family="Liberation Sans" font-size="17.0" font-weight="bold" font-style="italic" text-anchor="start" fill="#1a1a1a">PhSH</text>
<text x="348.5" y="358.4" font-family="Liberation Sans" font-size="17.0" font-weight="bold" font-style="italic" text-anchor="start" fill="#1a1a1a">1a</text>
<text x="416.0" y="347.0" font-family="Liberation Sans" font-size="17.0" font-weight="bold" font-style="italic" text-anchor="start" fill="#1a1a1a">1a</text>
<text x="485.0" y="409.0" font-family="Liberation Sans" font-size="16.0" font-weight="bold" font-style="italic" text-anchor="start" fill="#1a1a1a">1</text>
<text x="52.5" y="480.2" font-family="Liberation Sans" font-size="20.0" font-weight="normal" font-style="normal" text-anchor="start" fill="#222">(c)</text>
<path d="M28.0,611.9L28.8,611.9 30.3,611.3 33.1,612.2 33.8,611.9 34.0,612.1 34.6,611.7 36.6,612.0 38.2,611.7 39.3,611.9 39.9,611.5 42.1,611.9 43.0,611.6 43.5,611.8 45.0,611.5 47.6,612.0 47.8,612.3 49.3,611.2 50.5,611.2 51.0,611.5 51.3,611.3 51.9,611.5 52.4,610.8 53.3,610.6 53.8,610.9 54.9,609.8 55.9,606.5 57.1,591.9 57.9,601.4 58.4,603.4 58.8,602.0 59.7,591.6 60.9,606.4 61.5,609.1 62.5,610.5 63.0,610.6 63.4,611.0 64.8,611.2 65.1,611.0 66.1,611.5 67.9,611.2 69.3,611.6 71.4,611.1 72.9,611.5 74.4,611.0 75.2,611.0 75.7,611.3 78.2,610.9 79.0,611.3 79.3,611.1 80.0,611.2 80.4,610.9 82.0,610.6 84.4,610.7 86.3,609.5 86.8,608.9 87.4,607.3 88.0,604.4 88.6,598.1 89.4,584.0 90.2,594.0 90.4,595.3 90.6,595.3 90.7,594.7 91.1,590.2 91.9,572.0 92.9,594.0 93.3,598.1 94.2,601.6 94.5,601.9 95.0,602.0 96.3,601.1 97.2,599.6 97.6,598.2 98.2,593.7 99.0,581.8 100.0,592.3 100.4,593.1 100.7,592.5 101.2,588.5 102.0,576.5 103.1,591.1 103.5,592.6 103.8,592.9 104.1,592.8 104.5,591.9 105.1,588.3 105.6,581.6 106.7,552.1 107.6,573.7 108.1,579.3 108.2,579.7 108.4,579.5 108.8,576.0 109.7,558.4 110.6,577.6 111.1,583.4 111.5,584.9 112.0,584.0 113.0,573.9 113.9,584.2 114.3,586.0 114.7,586.5 115.2,585.6 115.7,583.1 116.3,575.9 117.6,533.4 118.9,575.9 119.6,584.0 120.7,589.4 122.2,591.3 124.1,594.8 125.4,596.2 126.9,598.5 128.3,599.6 129.0,599.6 129.8,599.1 130.3,599.3 130.9,599.0 132.0,595.6 133.3,600.1 134.3,600.9 135.1,600.8 135.9,599.3 137.0,593.0 137.8,598.2 138.1,599.2 138.4,599.4 138.8,598.4 139.7,593.0 140.7,600.1 141.1,601.6 142.3,604.0 143.1,604.4 143.7,604.3 146.1,604.9 146.9,605.7 147.6,606.0 148.4,605.8 149.4,606.1 150.3,606.0 150.8,606.4 151.6,605.4 152.4,603.0 153.3,605.7 154.4,607.3 156.0,608.3 156.6,608.1 157.0,608.4 157.6,608.2 157.9,608.5 158.9,607.9 159.5,607.0 160.4,603.3 161.7,608.4 162.9,609.1 163.8,610.1 165.6,610.8" fill="none" stroke="#111" stroke-width="1.80" stroke-linejoin="round"/>
<path d="M174.7,610.6L176.1,611.3 177.2,610.6 177.7,610.8 178.4,610.5 178.7,610.7 179.2,610.4 179.8,610.9 181.6,611.0 181.9,610.8 182.4,611.0 184.1,610.2 184.7,610.4 185.5,610.2 187.1,610.5 189.4,609.9 190.3,610.3 190.7,610.1 191.3,610.3 191.8,609.8 192.2,609.9 192.8,609.5 193.3,610.1 193.8,609.9 194.3,610.1 194.8,609.5 197.0,609.3 197.2,609.0 197.5,609.3 198.4,609.4 200.5,608.9 203.6,609.2 205.1,608.5 206.0,608.4 206.4,608.8 206.8,608.8 207.6,609.3 208.4,609.3 208.8,609.6 209.6,609.6 211.1,609.3 212.7,610.2 214.4,609.6 215.2,610.0 215.4,609.8 216.0,610.2 216.6,610.0 217.8,610.4 218.2,610.2 220.0,610.4 220.8,610.2 222.3,610.6 224.6,610.0 226.1,610.2 226.5,610.0 227.5,610.1 228.7,609.6 229.5,608.7 230.3,607.0 231.4,601.8 231.9,596.5 233.1,575.7 234.3,596.2 235.3,604.9 236.3,608.1 237.3,609.3 237.6,609.3 238.6,610.2 239.5,610.6 240.9,610.3 242.3,611.0 242.9,610.9 243.3,611.2 244.7,610.7 245.1,610.7 245.4,611.1 246.7,611.0 246.9,610.7 247.3,610.9 249.4,610.9 251.4,611.7 252.9,610.9 253.5,611.0 253.7,610.7 254.1,610.9 254.8,610.7 255.3,611.2 256.1,611.2 256.8,610.7 258.5,611.0 259.5,610.6 260.3,609.5 261.4,605.5 262.3,608.3 263.2,609.3 263.8,608.3 264.5,605.4 265.4,608.6 265.9,609.3 266.6,608.7 267.4,605.9 268.8,609.6 269.7,608.7 270.4,606.3 271.6,609.6 272.1,610.2 273.3,610.9 273.7,610.7 274.5,611.3 275.0,611.2 275.2,611.5 276.5,611.4 277.2,611.1 278.3,611.3 279.5,610.9 280.6,611.1 281.4,611.5 281.9,611.3 282.1,611.5 283.0,611.0 284.5,611.6 285.6,611.3 286.6,611.6 287.6,611.2 289.1,611.6 289.8,611.4 290.7,611.6 292.8,611.0 294.4,611.5 295.1,611.2 295.5,611.4 297.0,611.0 297.7,611.4 298.0,611.2 299.3,611.3 301.5,611.8 302.0,611.6 302.6,611.7 303.0,611.3 303.3,611.5 304.1,611.1 304.3,611.4 305.1,611.4 307.0,611.3 307.7,611.6 308.1,611.1 308.4,611.4 309.2,611.2 309.6,611.5 310.8,611.6 311.5,611.1 312.3,611.3 312.9,611.8 314.1,611.2 315.1,611.5 316.2,611.4 317.0,610.9 317.3,611.2 318.5,611.4 319.2,611.1 320.4,611.4 321.9,611.1 322.4,611.3 323.7,611.0 324.1,611.2 325.4,611.1 326.7,612.2 327.2,611.8 327.4,611.9 328.4,611.6 328.6,611.8 329.7,611.4 331.4,611.8 333.1,611.4 334.4,611.8 334.8,611.8 335.2,611.4 335.7,611.4 335.9,611.2 337.4,611.7 338.0,611.5 338.6,611.7 340.4,611.1 341.4,611.5 341.6,611.4 343.3,611.6 344.0,611.0 344.6,611.3 345.2,611.1 346.6,609.1 347.9,610.7 349.4,611.1 350.3,611.6 351.5,611.5 351.7,611.3 352.2,611.6 353.4,611.3 353.5,611.1 356.4,611.5 358.1,611.3 358.6,611.5 359.4,611.5 359.6,611.7 361.3,611.5 361.7,611.7 364.0,611.2 364.7,611.6 366.2,611.1 366.8,611.2 367.2,611.0 367.9,611.3 368.2,611.2 368.6,611.6 369.7,611.8 370.8,611.2 372.6,611.3 372.8,611.1 374.3,611.9 374.6,611.9 374.8,611.6 375.6,611.5 376.1,611.1 376.7,611.4 377.0,611.2 377.3,611.5 378.2,611.2 379.1,611.7 381.6,611.7 383.3,611.2 383.5,611.3 383.8,611.1 384.4,611.3 385.0,611.1 385.7,611.5 386.4,611.1 386.8,611.4 387.3,611.1 387.8,611.3 388.3,611.0 389.2,611.0 389.6,611.3 390.8,610.9 391.6,611.3 391.9,611.0 392.9,611.2 393.2,610.9 393.5,611.1 394.1,610.8 394.6,611.1 395.0,610.8 395.5,611.0 396.0,610.6 398.3,610.0 399.4,608.2 400.2,605.3 400.9,597.8 401.9,576.8 403.2,602.1 403.7,605.6 404.6,608.5 405.3,609.1 405.6,609.0 406.3,609.4 408.8,609.9 409.4,609.6 410.4,608.0 411.4,603.4 412.5,589.5 413.4,600.4 414.0,604.6 414.9,605.8 416.4,602.8 417.8,607.1 418.4,607.9 419.2,608.0 420.6,606.8 421.0,605.8 421.7,602.4 422.1,597.6 422.6,584.5 423.4,538.4 424.2,582.7 424.9,596.8 425.3,598.3 425.6,597.7 426.2,589.5 427.2,539.2 427.9,580.2 428.4,596.3 429.3,605.3 430.0,607.8 431.3,609.9 431.6,609.7 432.3,609.8 432.5,610.3 432.8,610.1 433.1,610.5 433.8,610.8 434.8,610.8 436.4,611.4 436.9,611.1 437.5,611.3 437.9,611.1 438.4,611.3 439.0,611.1 439.8,611.4 440.4,611.0 440.9,610.9 441.6,611.1 442.1,611.5 442.7,611.3 443.0,611.5 443.6,611.0 444.5,611.1 445.5,611.4 447.0,611.3 447.5,611.7 447.9,611.7 448.4,611.6 448.8,611.1 449.9,611.2 450.5,611.5 451.8,611.5 453.3,611.0 454.2,611.0 455.2,611.5 455.5,611.4 455.7,611.6 456.6,611.1 458.1,611.8 458.7,611.6 459.3,611.9 459.8,611.9 460.2,611.4 461.0,611.3 461.7,611.6 462.7,611.2 463.6,611.6 465.2,611.5 466.2,611.9 467.2,611.6 467.7,611.2 468.7,611.2 469.1,611.6 469.7,611.3 469.9,611.5 471.4,611.3 471.6,611.5 472.0,611.3 473.1,611.2 474.4,611.8 475.7,611.0 476.3,611.0 477.2,611.5 478.5,610.9 479.2,611.1 480.0,611.0 482.3,610.1 483.8,610.4 484.3,610.3 484.7,610.0 485.4,610.0 486.6,611.0 487.2,611.0 487.8,611.4 488.4,611.2 488.7,611.6 490.4,611.3 490.8,611.0 491.3,611.3 491.9,611.2 492.2,611.5 493.0,611.1 494.2,612.0 495.6,611.4 496.6,611.3 497.4,611.6 499.2,611.1 500.1,611.6 501.6,611.5 502.2,611.8 503.4,611.6" fill="none" stroke="#111" stroke-width="1.80" stroke-linejoin="round"/>
<path d="M28.0,758.0L28.3,757.8 29.8,758.3 30.7,757.7 31.8,757.7 32.0,757.9 33.0,757.7 33.4,757.8 33.5,757.7 33.7,757.9 34.3,758.0 35.1,757.7 37.8,758.4 40.0,757.7 41.4,758.2 42.5,757.9 44.0,758.2 44.4,757.9 45.2,757.9 45.4,757.5 46.6,757.6 46.9,758.0 48.7,757.9 49.7,758.1 50.1,757.8 50.8,757.8 51.2,757.4 52.2,757.7 53.2,757.4 54.3,758.1 54.7,758.1 56.8,756.3 57.5,755.2 58.1,752.5 58.9,745.2 59.7,750.7 60.0,751.4 60.3,750.5 60.9,745.7 61.0,745.5 61.1,745.7 62.0,753.6 62.6,755.7 63.3,756.6 66.6,758.1 68.1,757.4 68.5,757.8 69.3,757.9 70.0,757.5 70.3,757.8 71.8,757.2 72.6,757.3 73.0,757.7 73.8,757.8 74.7,757.5 76.2,757.6 76.9,757.3 77.4,757.5 77.9,757.1 78.5,757.2 79.0,756.6 79.5,756.8 80.3,755.8 81.2,753.2 81.7,748.8 82.5,736.9 83.5,746.3 83.9,744.9 84.6,737.3 85.7,751.6 86.2,754.1 87.1,755.8 88.7,757.3 89.2,757.4 89.5,757.4 90.0,757.0 91.5,757.4 92.3,757.2 93.4,757.6 94.1,757.3 95.3,757.6 96.4,757.1 97.6,757.0 98.0,757.3 99.0,757.1 100.4,755.6 101.4,753.4 102.0,749.6 102.8,740.2 103.4,743.1 103.5,743.3 103.7,743.1 104.6,731.5 105.3,739.1 105.6,739.8 106.0,735.5 106.7,720.6 108.0,747.8 108.9,752.3 109.2,752.7 109.7,752.9 110.2,752.0 110.7,749.7 111.7,737.8 112.5,746.7 112.9,748.6 113.1,748.6 113.4,747.5 114.3,738.0 115.3,747.5 115.7,748.5 116.2,746.8 117.0,736.1 118.0,704.9 119.3,743.2 119.9,749.4 120.4,751.5 121.0,752.8 121.7,753.0 122.0,752.7 123.2,749.0 124.8,755.1 126.2,757.0 126.8,757.0 127.0,757.2 127.7,756.9 128.7,757.5 128.9,757.2 130.1,757.0 130.4,757.4 131.0,757.3 131.3,757.5 132.2,757.4 133.2,757.8 134.7,757.4 135.3,757.7 137.8,757.1 139.3,757.2 140.7,756.4 141.8,755.2 142.8,751.0 144.2,737.5 145.8,752.0 146.5,754.4 147.1,755.6 148.2,756.9 149.0,757.2 149.1,757.1 150.3,757.1 150.9,757.5 152.1,757.9 152.4,757.5 153.1,757.4 154.6,758.4 156.6,757.7 157.5,757.8 158.2,758.1 158.4,758.0 159.0,758.2 159.6,757.9 160.8,758.2 162.5,757.8 162.8,758.1 163.1,757.8 164.0,758.0 164.3,757.7 164.6,757.9 165.6,757.8" fill="none" stroke="#111" stroke-width="1.80" stroke-linejoin="round"/>
<path d="M174.7,758.0L176.5,757.5 178.6,758.1 180.9,757.5 182.1,757.8 183.6,757.9 183.9,758.2 185.2,758.2 185.7,758.0 186.0,758.2 186.6,758.1 187.5,757.4 188.4,757.5 188.9,757.9 189.4,757.7 190.0,757.9 190.4,757.6 190.9,757.8 191.5,757.2 192.0,757.5 193.5,757.7 194.4,758.2 195.2,757.8 196.8,758.2 198.2,757.9 198.6,757.6 200.1,758.0 202.6,757.5 203.5,758.1 203.7,758.0 204.4,758.3 205.0,757.9 205.4,758.2 205.8,758.0 206.5,758.3 206.9,757.9 207.3,758.0 207.9,757.8 210.1,758.2 212.8,757.7 213.1,758.0 213.5,757.7 214.6,757.6 214.9,757.9 215.2,757.7 215.6,758.0 216.4,757.9 216.8,758.2 217.1,758.0 218.1,758.2 219.8,757.7 221.3,758.1 222.6,757.5 223.1,757.7 224.5,757.5 225.6,757.8 226.4,757.2 227.8,757.6 229.0,757.0 229.2,756.7 230.3,756.1 230.8,755.5 231.7,753.5 232.2,751.4 233.0,744.1 234.1,726.7 235.4,746.3 235.9,750.6 236.5,753.5 237.1,755.2 238.1,756.4 240.1,757.2 241.6,757.1 243.0,758.0 243.6,757.5 244.4,757.1 245.9,757.7 247.4,757.5 247.9,757.8 248.1,757.6 248.9,758.0 250.5,757.9 251.2,757.5 251.7,757.5 252.2,757.7 252.4,758.1 253.5,758.5 255.0,757.9 255.7,758.1 256.9,757.8 258.9,758.2 260.1,757.3 262.2,758.3 263.0,758.2 263.2,757.9 264.5,757.7 264.7,757.9 265.1,757.6 265.3,757.8 265.9,757.7 266.1,758.0 266.9,757.9 267.4,758.3 267.9,758.0 269.6,758.1 270.1,757.8 271.4,758.2 271.9,757.9 273.9,758.3 275.9,757.7 276.4,758.1 276.7,757.8 277.9,757.6 278.3,758.0 279.7,757.8 280.7,758.2 282.0,757.7 282.5,757.6 282.7,757.8 282.9,757.5 284.4,758.3 285.3,757.9 286.4,758.1 287.1,757.8 287.4,758.1 287.6,757.8 288.7,757.9 288.9,757.6 289.1,757.7 289.7,757.3 290.9,757.7 291.3,758.0 291.7,757.8 292.5,758.3 293.2,758.3 294.0,757.7 295.2,758.2 296.1,758.0 297.0,758.4 297.9,758.0 298.3,758.2 298.8,757.8 299.4,758.0 299.8,757.7 300.3,758.0 301.4,757.9 302.3,757.5 303.8,758.1 304.8,758.1 305.2,757.8 306.7,758.3 307.4,757.9 307.6,758.1 308.5,758.0 309.4,757.5 311.1,758.2 312.8,757.8 313.7,758.2 315.0,758.2 315.8,758.5 318.8,757.7 320.6,758.3 322.2,757.6 323.3,758.2 324.5,757.7 327.0,758.3 327.6,757.9 330.1,758.1 331.6,757.6 333.5,758.3 334.9,758.1 335.2,758.5 336.3,758.2 336.7,757.8 337.4,757.9 338.1,757.6 339.8,758.2 340.7,757.8 342.7,758.3 344.6,757.9 345.6,758.2 346.7,758.7 347.8,760.1 349.3,758.3 349.8,758.1 350.4,758.3 352.2,757.8 352.8,758.0 353.4,757.7 355.5,758.2 356.0,757.8 356.2,758.0 356.3,757.7 357.8,758.3 359.6,757.9 360.7,758.2 362.2,757.8 363.7,758.2 365.3,757.9 366.4,758.1 367.3,758.0 368.3,758.3 369.8,757.8 370.3,758.0 370.8,757.7 372.2,758.4 373.5,758.1 375.2,758.4 375.6,758.4 376.0,758.0 376.3,758.3 378.0,758.0 379.8,758.2 381.0,757.7 382.0,757.9 382.9,757.6 384.4,758.1 385.4,757.8 385.7,758.1 385.9,757.8 386.9,757.8 387.1,757.6 387.4,757.9 387.9,757.8 388.6,758.2 388.9,758.0 389.5,758.6 391.0,758.6 392.3,760.3 393.3,759.4 393.9,759.2 394.8,759.2 396.0,760.5 397.1,763.3 398.1,770.3 398.8,783.8 399.8,816.9 401.0,778.7 401.9,766.3 402.5,763.1 403.6,759.9 404.8,758.0 406.5,756.2 407.8,754.4 408.8,752.1 410.1,746.1 410.9,738.3 411.5,726.4 412.0,707.8 413.3,621.4 414.6,707.3 415.1,725.8 415.7,737.9 416.4,745.6 417.5,751.2 418.1,752.8 420.0,756.0 420.4,756.3 420.7,756.2 421.2,757.1 421.5,757.1 423.2,760.9 423.8,765.3 424.7,779.4 425.8,767.4 426.1,767.4 426.4,769.3 427.2,779.9 428.1,766.5 428.9,760.9 429.7,759.3 430.7,758.6 431.2,758.7 432.0,758.3 432.2,758.4 433.1,757.8 433.4,758.0 434.3,757.6 435.0,757.9 435.6,757.8 436.0,758.0 436.4,757.8 437.9,758.1 438.4,758.0 438.6,758.2 438.8,757.9 439.5,757.8 441.5,758.1 441.9,757.9 443.9,757.6 444.7,757.9 445.5,757.8 446.4,758.3 446.7,758.1 446.9,758.4 448.4,757.8 449.8,758.0 450.8,757.8 451.9,758.3 453.1,757.7 454.2,758.2 456.3,757.6 457.8,758.0 458.4,758.0 459.2,757.6 460.7,757.9 461.6,757.7 462.7,758.1 466.2,757.6 467.9,758.0 469.8,757.6 470.4,758.0 472.9,757.8 474.7,758.6 474.9,758.3 476.1,757.9 476.5,758.2 477.3,758.1 477.5,757.8 478.5,757.8 479.0,758.1 479.3,757.8 479.8,757.9 480.5,757.5 482.0,758.0 484.0,757.9 485.6,758.3 485.8,758.0 486.6,758.0 486.8,757.8 487.2,758.1 487.5,757.9 488.3,758.2 488.7,757.9 489.5,758.3 490.1,758.0 490.5,758.4 491.0,758.1 491.3,758.5 492.4,758.3 492.8,758.0 493.0,758.1 493.9,757.6 494.7,758.0 495.2,757.9 495.6,758.1 496.3,757.8 496.7,758.1 497.3,758.0 497.4,758.2 498.3,757.8 500.6,758.3 501.9,757.8 502.8,757.8 503.4,758.2 504.0,758.1" fill="none" stroke="#111" stroke-width="1.80" stroke-linejoin="round"/>
<path d="M28.0,853.2L29.3,853.2 30.5,852.7 31.5,853.2 32.2,853.0 33.7,853.3 34.2,853.1 34.8,853.4 35.7,853.4 36.5,853.1 37.6,853.3 38.2,853.0 39.3,853.3 40.2,853.2 40.5,853.0 41.1,853.3 42.7,852.8 43.1,853.3 43.7,853.5 44.6,853.1 45.6,853.1 46.9,852.7 49.0,853.3 50.8,852.6 51.7,852.9 52.1,852.8 53.3,853.2 54.7,852.2 55.4,852.0 56.2,851.2 56.9,848.8 57.9,842.4 59.0,847.5 59.4,847.2 59.7,846.3 60.4,842.6 61.6,850.0 62.4,851.5 63.4,852.4 64.3,852.6 64.6,852.5 65.4,852.9 66.9,852.7 69.1,853.1 70.0,852.6 71.5,852.9 71.7,852.6 72.5,852.7 72.9,853.0 74.4,852.7 74.8,853.0 76.4,852.3 77.3,852.5 79.0,852.0 79.7,851.6 80.4,850.6 81.4,847.7 83.0,834.6 84.4,846.4 84.9,848.7 85.7,850.8 87.4,851.8 88.1,852.5 88.9,852.8 90.4,852.2 91.9,852.6 92.2,852.3 92.7,852.5 93.4,852.0 93.7,852.4 94.2,852.0 94.4,852.3 95.2,851.9 97.6,852.1 99.0,850.9 100.0,850.4 101.2,847.7 102.1,842.2 103.3,826.5 103.6,825.8 104.2,828.4 104.4,828.2 105.3,820.6 105.6,822.1 106.5,837.3 107.1,843.1 107.9,846.4 108.7,847.4 109.7,846.8 110.2,845.4 110.7,842.7 111.6,834.3 111.8,834.2 112.5,838.9 113.0,840.4 113.5,839.4 114.3,835.2 114.5,835.0 114.9,835.5 115.2,835.2 115.8,831.0 116.3,823.4 116.8,809.1 118.1,751.2 119.9,824.6 121.0,839.7 121.7,844.4 122.7,847.7 123.6,849.4 124.1,849.5 125.6,850.7 126.0,850.6 126.7,850.8 127.8,851.7 129.4,851.7 129.7,852.0 130.3,852.1 130.6,852.5 131.0,852.2 131.2,852.4 133.6,852.2 134.4,852.7 135.6,852.8 139.1,851.9 140.0,851.9 141.2,851.3 142.0,850.1 144.2,840.6 144.6,841.6 145.5,847.2 146.1,849.4 146.6,850.3 147.9,851.4 148.7,851.6 149.1,852.0 149.2,851.9 149.7,852.3 150.5,852.3 152.0,852.9 152.6,852.8 153.4,853.2 155.5,852.6 155.7,852.9 156.3,852.8 157.0,853.1 157.7,852.7 158.3,852.9 158.4,852.7 158.8,853.1 161.4,852.7 162.6,853.1 163.4,852.9 163.5,853.2 165.6,853.1" fill="none" stroke="#111" stroke-width="1.80" stroke-linejoin="round"/>
<path d="M174.7,853.2L176.8,853.3 177.5,852.9 178.4,853.2 179.4,853.3 180.2,853.7 181.8,852.9 182.4,853.4 184.5,852.9 186.1,853.5 187.1,853.1 188.0,853.2 188.8,852.9 190.0,853.2 190.8,853.0 191.3,853.2 192.7,852.9 193.7,853.5 195.3,853.0 195.6,853.3 197.4,853.4 199.1,852.8 199.8,853.4 200.8,853.5 201.2,853.2 201.5,853.3 201.9,853.1 202.1,853.3 202.6,853.1 202.9,853.4 204.2,853.2 205.0,853.5 205.5,853.2 206.2,853.3 206.6,853.0 207.1,853.3 208.8,852.9 209.7,853.2 210.6,852.9 211.4,853.0 211.9,853.3 213.1,852.8 214.6,853.4 216.0,852.9 218.3,853.1 219.1,852.5 220.5,852.9 221.4,852.8 222.4,853.0 224.0,852.6 224.8,852.8 227.4,852.1 228.2,851.2 229.0,850.9 229.7,850.1 230.8,846.0 231.5,840.6 232.5,826.2 232.9,823.2 233.3,826.1 234.4,841.6 235.4,847.8 236.1,849.7 236.6,850.4 238.1,851.4 238.8,852.4 239.2,852.2 239.6,852.6 239.8,852.3 240.7,852.6 241.0,852.3 241.3,852.6 242.0,852.4 243.6,853.0 244.0,852.9 244.7,853.2 245.3,853.0 245.5,853.2 246.2,852.9 246.9,853.2 247.9,852.9 248.2,853.1 249.0,852.9 249.4,853.0 249.8,852.8 250.4,853.0 252.7,852.7 254.0,853.2 254.6,853.0 254.8,853.2 256.1,853.2 256.7,852.9 257.6,852.8 259.1,853.3 259.8,853.2 260.0,853.0 260.7,853.0 261.5,853.6 262.1,853.4 263.6,853.3 264.8,852.8 267.0,853.7 268.2,852.9 269.2,852.8 270.0,853.1 270.4,853.5 271.2,853.0 271.5,853.2 271.9,852.8 272.6,853.4 273.2,853.2 273.4,853.3 273.9,853.0 274.2,853.2 274.9,853.1 275.1,853.4 275.7,853.3 276.1,853.6 276.7,853.5 277.0,853.6 277.4,853.2 278.4,853.0 279.0,853.3 279.3,853.2 279.5,853.5 281.1,853.1 281.3,853.3 281.7,853.2 282.3,853.5 282.8,853.1 283.4,853.3 283.8,853.1 284.3,853.5 284.9,853.1 286.0,853.4 287.4,853.0 287.7,853.2 288.3,852.8 289.0,852.9 289.2,852.7 289.7,853.1 290.9,853.3 291.4,852.9 292.9,853.3 293.5,852.9 294.1,853.1 294.6,852.9 295.0,853.2 296.1,853.5 296.9,853.1 297.5,853.3 297.7,853.2 298.1,853.5 298.8,853.2 299.1,853.4 299.9,853.2 300.3,853.4 301.0,853.1 301.4,853.5 301.9,853.5 302.6,853.5 303.2,853.2 303.7,853.1 303.9,853.4 305.4,853.0 306.1,853.3 306.6,853.1 306.9,853.2 307.5,852.9 309.1,853.5 311.4,852.8 312.9,853.4 313.9,852.9 314.3,853.2 315.0,853.0 316.8,853.3 317.3,853.2 317.7,853.4 319.5,852.7 320.5,852.9 321.0,853.4 321.1,853.3 322.1,853.4 323.4,853.2 323.8,853.0 324.2,853.2 324.6,853.0 325.8,853.2 326.2,853.0 326.6,853.3 327.2,853.0 327.8,853.3 328.2,853.0 328.8,853.2 329.6,852.8 331.1,853.5 333.7,852.9 336.0,853.5 338.9,852.9 340.1,853.4 340.9,853.2 342.6,853.4 343.7,852.8 345.2,853.3 345.8,853.1 347.0,853.2 348.1,852.7 348.9,853.2 350.4,852.5 350.9,852.9 351.1,852.7 351.8,852.9 353.5,850.6 354.9,852.3 355.6,852.8 356.9,853.0 357.8,852.7 358.3,853.0 358.8,853.0 359.5,853.5 359.8,853.2 360.3,853.5 361.0,853.1 361.5,853.2 361.8,852.9 362.5,853.1 363.1,852.9 363.9,853.1 364.2,852.9 365.0,853.0 365.7,853.5 365.9,853.3 366.2,853.5 367.2,852.7 367.4,852.8 367.7,852.5 369.1,853.6 369.9,853.5 370.5,853.1 370.8,853.2 372.3,852.9 373.8,853.2 375.2,852.7 376.6,853.2 377.4,853.0 379.0,853.3 380.7,853.0 382.2,853.4 383.8,852.6 385.6,853.3 387.5,852.8 388.5,853.3 389.8,852.8 391.7,853.4 393.2,852.7 394.2,853.1 395.1,852.9 396.6,853.2 398.0,852.6 398.8,852.6 399.1,852.8 400.0,852.6 400.3,852.8 401.2,852.5 401.9,851.8 402.7,851.6 404.4,851.8 405.8,850.3 406.5,850.0 407.8,847.8 408.8,844.5 409.6,839.3 410.2,832.5 411.6,802.1 412.0,798.0 412.4,802.0 413.6,829.3 414.6,840.8 415.2,844.4 416.2,847.8 417.5,849.9 418.3,850.6 418.6,850.5 419.4,851.3 420.5,851.4 422.4,852.4 423.3,852.5 423.9,852.2 425.1,852.7 426.0,852.4 427.2,853.0 427.9,852.8 428.4,852.9 429.3,852.5 430.8,853.0 431.6,852.5 432.0,852.7 432.5,852.5 433.1,852.9 433.3,852.8 433.7,853.1 435.2,852.7 436.7,853.3 437.2,853.0 437.7,853.3 439.1,853.1 440.8,853.4 441.6,853.0 441.8,853.2 442.7,852.9 444.4,853.2 444.7,852.9 445.9,852.8 447.2,852.9 448.7,853.5 449.4,853.1 450.4,853.4 451.4,853.4 453.3,852.9 454.0,853.1 454.6,852.9 455.6,853.3 457.1,852.7 457.5,853.0 458.0,852.8 458.3,853.0 459.1,852.9 459.5,853.1 459.9,852.8 460.4,853.1 460.8,852.9 462.3,853.2 463.5,853.0 463.9,853.1 466.0,852.9 466.9,853.2 467.2,853.0 469.8,853.5 470.7,853.1 472.8,852.8 474.0,852.9 474.5,852.7 475.2,853.0 476.0,853.0 476.4,852.6 477.8,853.1 478.4,853.0 479.1,852.6 479.5,852.8 479.9,852.5 480.6,852.6 480.9,852.2 481.6,852.2 482.2,851.6 483.1,851.3 483.6,851.7 484.9,851.8 485.5,852.2 485.8,852.1 486.0,852.4 487.7,852.9 488.3,852.6 488.7,852.8 489.2,852.7 490.0,853.0 490.2,852.8 491.0,852.8 491.9,853.2 492.6,853.2 492.9,852.8 493.3,852.7 494.9,853.2 496.0,852.9 497.3,853.5 498.1,853.4 498.4,853.6 500.4,853.0 501.9,853.3 502.5,852.9 503.4,853.0" fill="none" stroke="#111" stroke-width="1.80" stroke-linejoin="round"/>
<line x1="27.4" y1="864.6" x2="162.5" y2="864.6" stroke="#333" stroke-width="1.80"/>
<line x1="177.8" y1="864.6" x2="503.4" y2="864.6" stroke="#333" stroke-width="1.80"/>
<line x1="55.1" y1="864.6" x2="55.1" y2="871.6" stroke="#333" stroke-width="1.30"/>
<line x1="109.7" y1="864.6" x2="109.7" y2="871.6" stroke="#333" stroke-width="1.30"/>
<line x1="174.0" y1="864.6" x2="174.0" y2="871.6" stroke="#333" stroke-width="1.30"/>
<line x1="229.8" y1="864.6" x2="229.8" y2="871.6" stroke="#333" stroke-width="1.30"/>
<line x1="284.3" y1="864.6" x2="284.3" y2="871.6" stroke="#333" stroke-width="1.30"/>
<line x1="338.9" y1="864.6" x2="338.9" y2="871.6" stroke="#333" stroke-width="1.30"/>
<line x1="394.0" y1="864.6" x2="394.0" y2="871.6" stroke="#333" stroke-width="1.30"/>
<line x1="449.3" y1="864.6" x2="449.3" y2="871.6" stroke="#333" stroke-width="1.30"/>
<line x1="503.4" y1="864.6" x2="503.4" y2="871.6" stroke="#333" stroke-width="1.30"/>
<line x1="27.4" y1="864.6" x2="27.4" y2="868.6" stroke="#333" stroke-width="1.30"/>
<line x1="82.4" y1="864.6" x2="82.4" y2="868.6" stroke="#333" stroke-width="1.30"/>
<line x1="137.0" y1="864.6" x2="137.0" y2="868.6" stroke="#333" stroke-width="1.30"/>
<line x1="202.0" y1="864.6" x2="202.0" y2="868.6" stroke="#333" stroke-width="1.30"/>
<line x1="257.0" y1="864.6" x2="257.0" y2="868.6" stroke="#333" stroke-width="1.30"/>
<line x1="311.6" y1="864.6" x2="311.6" y2="868.6" stroke="#333" stroke-width="1.30"/>
<line x1="366.4" y1="864.6" x2="366.4" y2="868.6" stroke="#333" stroke-width="1.30"/>
<line x1="421.6" y1="864.6" x2="421.6" y2="868.6" stroke="#333" stroke-width="1.30"/>
<line x1="476.4" y1="864.6" x2="476.4" y2="868.6" stroke="#333" stroke-width="1.30"/>
<text x="55.1" y="888.0" font-family="Liberation Sans" font-size="14.0" font-weight="normal" font-style="normal" text-anchor="middle" fill="#222">8</text>
<text x="109.7" y="888.0" font-family="Liberation Sans" font-size="14.0" font-weight="normal" font-style="normal" text-anchor="middle" fill="#222">7</text>
<text x="174.0" y="888.0" font-family="Liberation Sans" font-size="14.0" font-weight="normal" font-style="normal" text-anchor="middle" fill="#222">3,5</text>
<text x="229.8" y="888.0" font-family="Liberation Sans" font-size="14.0" font-weight="normal" font-style="normal" text-anchor="middle" fill="#222">3,0</text>
<text x="284.3" y="888.0" font-family="Liberation Sans" font-size="14.0" font-weight="normal" font-style="normal" text-anchor="middle" fill="#222">2,5</text>
<text x="338.9" y="888.0" font-family="Liberation Sans" font-size="14.0" font-weight="normal" font-style="normal" text-anchor="middle" fill="#222">2,0</text>
<text x="394.0" y="888.0" font-family="Liberation Sans" font-size="14.0" font-weight="normal" font-style="normal" text-anchor="middle" fill="#222">1,5</text>
<text x="449.3" y="888.0" font-family="Liberation Sans" font-size="14.0" font-weight="normal" font-style="normal" text-anchor="middle" fill="#222">1,0</text>
<text x="503.4" y="888.0" font-family="Liberation Sans" font-size="14.0" font-weight="normal" font-style="normal" text-anchor="middle" fill="#222">0,5</text>
<line x1="159.0" y1="872.1" x2="167.5" y2="857.1" stroke="#222" stroke-width="1.40"/>
<line x1="167.0" y1="872.1" x2="175.5" y2="857.1" stroke="#222" stroke-width="1.40"/>
<text x="271.0" y="902.5" font-family="Liberation Sans" font-size="16.5" font-weight="normal" font-style="normal" text-anchor="middle" fill="#222">ppm</text>
<text x="208.7" y="562.5" font-family="Liberation Sans" font-size="17.0" font-weight="bold" font-style="italic" text-anchor="start" fill="#1a1a1a">PhSH</text>
<text x="257.6" y="593.0" font-family="Liberation Sans" font-size="17.0" font-weight="bold" font-style="italic" text-anchor="start" fill="#1a1a1a">aH</text>
<text x="395.5" y="491.4" font-family="Liberation Sans" font-size="17.0" font-weight="bold" font-style="italic" text-anchor="start" fill="#1a1a1a">2a</text>
<line x1="404.9" y1="502.9" x2="410.7" y2="574.3" stroke="#222" stroke-width="1.00"/>
<path d="M411.2,580.3L408.0,573.5L413.2,573.1Z" fill="#222"/>
<text x="420.0" y="528.2" font-family="Liberation Sans" font-size="17.0" font-weight="bold" font-style="italic" text-anchor="start" fill="#1a1a1a">aH</text>
<text x="491.0" y="599.5" font-family="Liberation Sans" font-size="16.0" font-weight="bold" font-style="italic" text-anchor="start" fill="#1a1a1a">3</text>
<text x="380.8" y="640.0" font-family="Liberation Sans" font-size="17.0" font-weight="bold" font-style="italic" text-anchor="start" fill="#1a1a1a">2a</text>
<text x="219.7" y="706.0" font-family="Liberation Sans" font-size="17.0" font-weight="bold" font-style="italic" text-anchor="start" fill="#1a1a1a">PhSH</text>
<text x="369.9" y="705.5" font-family="Liberation Sans" font-size="17.0" font-weight="bold" font-style="italic" text-anchor="start" fill="#1a1a1a">aa</text>
<line x1="387.9" y1="712.4" x2="396.0" y2="749.6" stroke="#222" stroke-width="1.00"/>
<path d="M397.3,755.5L393.3,749.2L398.3,748.1Z" fill="#222"/>
<text x="341.0" y="734.0" font-family="Liberation Sans" font-size="17.0" font-weight="bold" font-style="italic" text-anchor="start" fill="#1a1a1a">a(-H)</text>
<line x1="365.5" y1="736.5" x2="387.4" y2="753.2" stroke="#222" stroke-width="1.00"/>
<path d="M392.2,756.8L385.1,754.6L388.2,750.5Z" fill="#222"/>
<text x="426.5" y="744.0" font-family="Liberation Sans" font-size="17.0" font-weight="bold" font-style="italic" text-anchor="start" fill="#1a1a1a">aH</text>
<text x="493.3" y="745.5" font-family="Liberation Sans" font-size="16.0" font-weight="bold" font-style="italic" text-anchor="start" fill="#1a1a1a">2</text>
<text x="212.8" y="813.3" font-family="Liberation Sans" font-size="17.0" font-weight="bold" font-style="italic" text-anchor="start" fill="#1a1a1a">PhSH</text>
<text x="406.0" y="798.7" font-family="Liberation Sans" font-size="17.0" font-weight="bold" font-style="italic" text-anchor="start" fill="#1a1a1a">2a</text>
<text x="488.7" y="845.5" font-family="Liberation Sans" font-size="16.0" font-weight="bold" font-style="italic" text-anchor="start" fill="#1a1a1a">1</text>
<text x="43.6" y="950.3" font-family="Liberation Sans" font-size="20.0" font-weight="normal" font-style="normal" text-anchor="start" fill="#222">(e)</text>
<path d="M50.8,1015.1L52.2,1015.0 53.3,1015.4 54.3,1014.8 55.3,1014.9 55.8,1015.3 56.7,1015.2 57.2,1014.7 57.9,1014.8 58.2,1014.6 58.6,1014.9 58.9,1014.7 60.2,1015.1 61.1,1014.8 61.5,1015.0 61.7,1014.8 62.5,1015.0 63.1,1014.8 63.3,1015.1 64.1,1014.9 64.6,1015.2 65.2,1015.1 66.0,1015.3 66.3,1014.9 67.1,1014.9 67.5,1014.5 68.2,1015.3 68.5,1015.1 69.1,1015.3 69.8,1014.6 70.0,1014.8 71.0,1014.3 72.5,1015.1 73.7,1014.9 74.0,1014.6 75.3,1014.6 76.1,1014.3 76.3,1014.0 77.1,1013.8 77.5,1013.3 78.8,1008.7 79.6,1011.6 79.9,1012.0 80.3,1011.6 81.3,1007.1 82.5,1012.7 83.2,1013.6 84.1,1014.1 84.4,1014.0 84.9,1014.6 86.8,1014.7 88.2,1013.6 88.4,1013.7 89.2,1012.6 89.9,1010.1 90.2,1009.8 91.5,1013.2 93.9,1014.8 96.6,1014.6 96.9,1014.2 97.9,1014.9 98.4,1015.0 99.4,1014.5 100.4,1014.5 100.6,1014.9 100.9,1014.8 101.4,1015.1 102.1,1014.5 102.9,1014.3 103.8,1014.6 104.6,1014.4 104.7,1014.6 105.4,1014.3 106.9,1014.6 108.1,1014.1 108.5,1014.3 109.3,1014.1 109.5,1014.2 110.5,1013.4 110.8,1012.7 111.8,1007.8 112.6,1011.0 112.9,1011.4 113.2,1011.0 114.3,1003.0 115.0,1009.3 115.6,1011.8 116.1,1012.3 117.4,1012.4 118.3,1011.7 119.2,1008.4 120.1,1000.4 121.2,1008.6 121.8,1010.1 122.5,1010.4 123.1,1010.0 123.5,1009.3 124.2,1005.6 125.2,981.6 126.1,1003.2 126.4,1005.4 126.8,1006.4 127.2,1006.6 127.5,1006.3 128.1,1004.9 128.5,1003.0 129.5,990.4 129.6,990.0 129.9,990.2 130.1,989.8 130.5,984.3 131.6,918.9 132.2,947.1 132.4,950.5 132.7,949.5 132.8,950.6 133.6,980.3 133.8,982.5 134.0,982.0 134.6,973.5 135.6,998.7 136.2,1004.0 137.0,1006.6 137.2,1006.9 137.8,1006.8 138.2,1006.3 138.5,1005.1 138.9,1002.3 139.7,991.3 140.6,1004.5 141.2,1008.8 141.8,1010.5 142.6,1011.9 143.3,1012.2 143.8,1012.9 144.2,1012.9 144.8,1013.5 145.3,1013.1 148.2,1014.0 150.2,1013.8 151.3,1014.3 152.5,1014.4 153.7,1014.1 154.5,1014.5 155.3,1014.6 156.0,1014.1 157.7,1014.6 158.0,1014.3 158.5,1014.6 159.2,1014.4 159.5,1014.6 160.9,1014.7 163.0,1014.4 165.4,1014.7 165.9,1014.4 168.2,1015.2 169.0,1014.7 169.2,1014.9 169.7,1014.4 170.9,1014.8 172.8,1014.5 173.1,1014.7 174.3,1014.5 175.1,1014.0 176.0,1012.1 177.3,1014.4 178.6,1014.7 179.2,1015.2 180.1,1015.0 180.3,1014.7 181.8,1014.7 182.3,1014.5 183.4,1014.8 183.8,1015.2 185.4,1014.7 185.9,1015.3 187.1,1015.2 187.4,1014.9 188.0,1015.1 189.5,1014.9" fill="none" stroke="#111" stroke-width="1.80" stroke-linejoin="round"/>
<path d="M198.1,1014.8L199.2,1015.1 201.2,1014.7 202.0,1014.7 202.3,1015.0 204.2,1014.1 205.6,1014.1 207.0,1013.2 208.2,1013.2 210.6,1011.5 213.4,1007.1 214.5,1006.1 214.6,1006.3 215.4,1005.9 215.8,1006.4 216.2,1006.4 218.6,1010.5 219.9,1012.0 220.6,1012.3 221.1,1012.9 222.6,1013.5 223.3,1014.1 224.8,1013.9 225.5,1014.5 226.6,1014.8 227.0,1014.7 227.3,1015.0 228.1,1014.6 228.2,1014.8 228.9,1014.3 229.2,1014.4 230.0,1014.0 231.0,1012.9 231.4,1013.0 232.0,1014.1 233.0,1015.0 233.5,1014.9 236.8,1015.5 238.5,1015.0 239.5,1015.0 240.0,1015.4 240.7,1015.0 242.3,1015.6 242.6,1015.4 244.3,1015.1 245.9,1015.7 247.1,1015.2 248.5,1015.5 249.0,1015.1 249.9,1015.4 250.1,1015.3 250.7,1015.7 251.5,1015.3 252.0,1015.4 253.1,1015.0 253.6,1015.0 253.7,1014.8 254.4,1015.5 255.3,1015.5 255.9,1015.0 256.0,1015.2 258.1,1015.0 258.9,1015.7 259.6,1015.6 260.4,1014.9 260.8,1014.9 262.2,1015.6 263.0,1015.4 264.5,1015.9 265.5,1015.7 266.0,1015.3 266.6,1015.7 267.2,1015.5 267.5,1015.7 268.1,1015.3 268.5,1015.6 269.8,1015.2 272.3,1015.6 273.0,1015.3 273.5,1015.5 273.8,1015.1 275.6,1015.6 276.1,1015.3 276.8,1015.4 277.5,1014.9 278.1,1014.9 279.0,1015.4 279.9,1015.1 281.7,1015.5 282.2,1015.3 282.9,1015.4 283.2,1015.2 284.0,1015.5 284.4,1015.3 286.3,1015.9 287.1,1015.8 288.3,1015.3 290.0,1015.7 290.3,1015.5 290.9,1015.7 291.5,1015.3 292.7,1015.8 293.9,1015.3 295.8,1015.2 297.2,1015.7 297.5,1015.5 298.1,1015.5 298.7,1015.1 299.1,1015.4 299.7,1015.0 301.2,1015.5 301.8,1015.3 302.9,1015.6 304.2,1015.2 305.8,1015.7 306.4,1015.5 307.7,1015.6 309.3,1015.3 309.9,1015.6 310.5,1015.4 311.1,1015.7 311.6,1015.5 312.2,1015.8 312.6,1015.4 313.9,1015.5 314.3,1015.9 314.9,1015.9 315.3,1015.5 315.4,1015.7 316.4,1015.4 316.8,1015.6 317.2,1015.3 319.3,1015.7 319.9,1015.3 320.8,1015.2 322.0,1015.7 323.5,1015.2 324.8,1015.6 325.3,1015.5 326.2,1015.8 327.1,1015.9 327.7,1015.5 328.6,1015.6 328.9,1015.9 332.1,1015.2 333.4,1015.6 335.1,1015.1 335.8,1015.2 337.7,1015.1 338.1,1015.6 339.0,1015.4 339.3,1015.7 340.4,1015.8 341.1,1015.6 342.1,1015.9 342.9,1015.6 343.4,1015.8 344.7,1015.5 345.2,1015.0 346.6,1015.7 346.9,1015.3 347.2,1015.5 348.1,1015.3 348.6,1015.6 349.2,1015.4 349.6,1015.6 349.8,1015.4 351.1,1015.4 351.5,1015.7 352.3,1015.6 352.7,1015.3 353.1,1015.5 353.9,1015.3 354.8,1015.5 355.1,1015.2 355.5,1015.3 356.0,1015.1 358.1,1015.7 359.9,1015.0 360.3,1015.4 361.5,1015.6 361.8,1015.5 362.9,1015.7 363.6,1015.3 364.3,1015.3 365.6,1015.7 366.7,1015.2 367.1,1014.6 367.6,1014.6 367.9,1014.3 368.8,1014.1 369.9,1012.3 370.5,1009.0 371.4,1000.6 372.7,1011.7 373.7,1014.3 374.2,1014.8 375.0,1015.1 376.5,1014.9 377.3,1015.0 378.3,1015.6 379.8,1015.5 380.4,1016.0 381.5,1015.4 382.5,1015.8 382.8,1015.4 384.4,1015.7 385.5,1014.9 387.0,1015.3 388.7,1014.4 390.1,1012.1 391.4,1014.6 391.9,1014.9 392.2,1014.7 392.9,1014.7 395.1,1015.4 395.9,1014.8 397.2,1012.6 397.6,1012.4 398.8,1014.4 399.4,1015.0 400.1,1015.2 401.0,1015.1 402.5,1015.5 402.9,1015.3 404.4,1015.6 405.0,1015.2 405.6,1015.4 405.8,1015.2 406.7,1015.7 407.1,1015.4 407.7,1015.6 408.2,1015.3 408.6,1015.5 409.2,1015.3 409.5,1015.4 411.3,1014.9 412.0,1015.2 412.6,1015.1 413.3,1015.4 414.6,1015.0 415.0,1014.6 415.5,1014.7 416.1,1014.3 417.9,1013.8 418.7,1012.5 419.5,1009.8 420.0,1006.4 420.4,1000.7 421.4,971.9 422.5,1001.7 423.1,1006.5 423.5,1007.3 423.8,1006.8 424.3,1004.3 424.8,997.6 425.8,965.2 426.6,993.3 427.2,1005.1 428.0,1010.7 428.8,1012.6 429.9,1014.1 430.6,1014.2 431.5,1014.7 432.7,1014.5 433.6,1015.3 434.3,1015.5 435.4,1015.7 435.8,1015.5 436.3,1015.6 436.6,1015.5 437.2,1015.8 438.2,1015.4 438.4,1015.1 439.7,1015.2 439.9,1015.5 440.1,1015.3 440.9,1015.6 441.7,1015.2 443.5,1015.1 443.8,1014.9 445.0,1014.8 445.9,1015.0 447.0,1014.5 448.0,1013.0 448.4,1011.7 449.5,1002.3 450.7,1011.2 451.2,1012.5 452.0,1012.7 452.8,1010.3 453.7,1001.0 455.0,1011.9 456.1,1014.2 457.2,1015.2 458.7,1014.9 459.5,1015.3 459.8,1015.1 460.2,1015.4 460.8,1015.2 461.3,1015.4 464.2,1015.1 465.7,1015.3 465.9,1015.2 467.6,1015.6 469.3,1015.1 470.8,1015.9 470.9,1015.7 471.4,1016.0 471.6,1015.8 472.4,1016.2 473.5,1015.6 475.2,1016.0 475.6,1015.7 476.2,1015.8 476.8,1015.4 477.0,1015.7 478.3,1015.9 478.5,1015.6 479.0,1015.7 479.7,1015.3 480.3,1015.5 480.9,1015.2 481.6,1015.6 482.9,1015.3 483.3,1015.5 483.6,1015.3 484.0,1015.6 485.3,1015.6 486.6,1015.3 492.2,1015.9 493.7,1015.2 494.1,1015.6 495.2,1015.9 495.5,1015.5 496.3,1015.2 497.8,1015.9 498.7,1015.4 499.5,1015.5 500.2,1015.9 501.5,1015.7 501.8,1016.0 504.1,1015.3 504.5,1015.7 505.2,1015.7 505.9,1015.3 506.7,1015.4 507.4,1015.9 508.8,1015.5 509.7,1015.9 510.5,1015.6 510.9,1015.8 512.5,1015.8 514.1,1015.3 515.6,1015.7 517.2,1015.3 517.7,1015.6 518.0,1015.5 518.2,1015.7 519.0,1015.8 519.3,1015.5 520.5,1015.3 521.3,1015.7 522.8,1015.1 524.8,1016.0 526.0,1016.0 527.2,1015.6 528.1,1015.6" fill="none" stroke="#111" stroke-width="1.80" stroke-linejoin="round"/>
<path d="M50.8,1115.9L51.5,1116.0 51.9,1116.3 53.3,1115.7 53.8,1115.9 54.2,1115.7 55.1,1116.0 55.4,1115.9 55.7,1116.2 56.2,1116.1 56.8,1116.2 57.2,1115.8 57.7,1115.9 58.3,1115.6 59.3,1116.3 60.5,1116.2 60.9,1115.9 61.5,1116.3 63.1,1115.8 64.0,1116.1 64.8,1115.8 65.3,1116.0 65.8,1115.8 67.3,1115.8 68.3,1115.4 69.6,1115.9 70.3,1115.6 70.6,1115.9 71.1,1115.6 71.8,1115.9 72.7,1115.2 73.5,1115.4 74.2,1115.9 75.6,1114.8 76.3,1113.6 77.5,1107.0 78.6,1111.5 79.0,1111.4 80.0,1107.0 80.8,1112.2 81.5,1114.4 82.3,1115.1 82.7,1115.0 84.8,1115.7 85.2,1115.4 86.7,1115.7 87.8,1115.4 89.3,1115.9 90.0,1115.5 90.4,1115.7 90.8,1115.3 91.5,1115.5 91.9,1115.2 92.1,1115.3 92.6,1115.1 93.9,1113.4 95.5,1108.2 97.0,1113.4 99.2,1115.4 100.3,1115.1 100.5,1115.2 100.7,1115.1 101.0,1115.5 101.6,1115.3 101.8,1115.5 103.3,1115.0 105.4,1115.4 106.3,1115.2 106.7,1115.4 108.3,1115.4 108.9,1115.1 109.8,1115.2 110.2,1115.5 111.0,1115.3 111.6,1114.9 112.3,1115.2 113.6,1115.2 115.3,1114.4 115.9,1114.6 117.1,1114.2 119.2,1112.7 120.1,1110.7 120.9,1106.8 121.9,1098.0 122.1,1098.2 122.8,1102.6 123.2,1103.4 123.6,1102.0 124.4,1096.2 124.7,1096.9 125.6,1105.0 126.2,1107.3 126.9,1108.2 127.8,1108.2 128.5,1107.6 129.1,1106.4 129.7,1103.5 130.1,1099.6 131.1,1079.2 132.0,1097.5 132.3,1101.1 132.8,1103.7 133.0,1103.9 133.3,1103.6 133.9,1099.9 134.9,1082.2 135.8,1092.0 136.7,1082.3 137.8,1099.8 138.1,1100.2 138.7,1098.0 139.5,1104.3 139.9,1105.0 140.3,1103.9 140.5,1103.9 141.5,1110.5 142.3,1112.8 143.2,1113.7 146.9,1115.0 147.3,1114.8 147.8,1114.9 148.4,1114.8 148.6,1115.0 150.6,1115.0 151.6,1115.5 152.9,1115.4 153.6,1115.8 156.5,1115.5 157.1,1115.9 157.5,1115.6 158.0,1115.9 158.6,1115.7 159.0,1116.2 159.4,1115.8 160.5,1115.5 162.4,1116.1 162.6,1115.8 163.0,1116.0 164.5,1115.6 165.0,1115.9 165.7,1115.6 165.9,1115.8 166.4,1115.6 167.2,1115.9 168.6,1115.6 168.9,1115.9 169.2,1115.6 170.1,1115.8 171.0,1115.6 171.3,1115.8 171.6,1115.5 172.4,1115.9 173.7,1115.8 174.3,1116.1 174.5,1115.8 174.6,1116.0 176.2,1115.8 177.1,1115.4 178.4,1116.0 179.0,1115.7 180.6,1116.1 180.8,1115.8 181.7,1116.0 182.2,1115.9 183.3,1116.3 186.6,1115.5 187.4,1115.9 189.5,1116.1" fill="none" stroke="#111" stroke-width="1.80" stroke-linejoin="round"/>
<path d="M198.1,1115.8L199.0,1115.8 199.5,1115.4 200.0,1115.6 200.8,1115.5 202.5,1116.0 202.8,1115.7 204.1,1115.5 204.8,1115.9 204.9,1115.6 207.0,1115.8 208.2,1115.1 209.1,1115.7 209.5,1115.7 210.3,1115.3 210.6,1115.4 211.2,1115.0 211.9,1115.3 212.1,1115.1 212.9,1115.5 213.9,1115.3 215.3,1115.4 215.9,1115.1 217.2,1115.0 217.8,1115.6 218.7,1115.5 219.8,1114.9 220.1,1115.1 222.6,1114.5 223.9,1113.7 224.9,1113.4 226.0,1112.6 227.0,1111.4 228.1,1108.8 229.1,1105.4 230.6,1096.5 231.3,1093.9 231.6,1094.0 231.9,1095.0 233.7,1105.2 234.9,1109.9 237.2,1113.2 238.7,1113.6 240.7,1114.6 241.5,1114.8 242.4,1114.6 243.1,1114.8 243.3,1115.2 243.8,1115.3 244.2,1114.9 244.6,1115.0 244.8,1114.9 246.0,1115.5 246.8,1115.3 247.7,1115.7 250.9,1115.1 252.0,1115.2 252.4,1115.5 254.2,1115.1 255.6,1115.9 257.8,1115.5 259.0,1115.7 259.7,1115.6 259.9,1115.8 260.5,1115.6 262.6,1115.6 264.0,1115.2 264.7,1115.4 265.0,1115.8 265.8,1115.9 267.1,1115.5 268.6,1115.8 269.3,1115.4 270.8,1115.5 271.1,1115.3 272.3,1115.7 273.4,1115.6 274.8,1115.9 275.2,1115.7 275.8,1115.9 277.4,1115.5 278.3,1115.9 280.3,1115.5 281.8,1115.8 283.0,1115.4 283.3,1115.4 283.9,1116.0 285.8,1115.3 286.2,1115.6 287.3,1115.8 288.3,1115.5 289.5,1115.8 290.1,1115.5 292.1,1115.6 292.3,1115.4 293.8,1116.1 294.6,1115.7 295.0,1116.0 295.3,1115.7 296.0,1115.7 296.5,1115.4 297.8,1115.9 299.7,1115.5 300.6,1115.7 300.9,1115.5 301.4,1115.6 302.1,1115.1 302.4,1115.3 303.0,1115.2 304.1,1115.6 304.7,1115.6 305.0,1115.3 305.9,1115.5 307.0,1115.3 307.9,1115.7 308.2,1115.5 308.5,1115.8 308.8,1115.4 309.5,1115.9 309.9,1115.6 310.2,1115.8 311.0,1115.4 311.6,1115.8 312.3,1115.6 312.5,1115.8 312.8,1115.5 313.9,1115.8 315.1,1115.4 316.6,1116.0 317.2,1115.6 317.8,1115.9 318.5,1115.7 320.0,1115.9 320.6,1115.5 321.9,1116.0 323.1,1115.7 323.8,1115.9 324.3,1115.7 325.6,1115.8 327.1,1115.5 327.3,1115.7 328.3,1115.6 328.7,1115.8 329.4,1115.4 330.9,1115.8 331.4,1115.6 331.9,1115.9 333.6,1115.4 334.3,1115.7 335.4,1115.7 335.7,1115.5 336.5,1115.6 336.7,1115.8 337.5,1115.7 337.7,1115.9 338.1,1115.6 338.4,1115.7 339.3,1115.6 339.6,1115.8 340.7,1115.7 341.8,1116.3 343.4,1115.6 344.0,1115.7 344.6,1115.5 345.2,1115.7 346.2,1115.3 346.8,1115.3 347.4,1115.6 347.9,1115.4 349.7,1115.6 351.0,1115.2 351.6,1115.5 352.3,1115.4 352.5,1115.5 353.1,1115.2 353.7,1115.7 354.0,1115.6 354.2,1115.8 355.1,1115.5 356.2,1115.4 356.8,1115.7 357.2,1115.5 357.3,1115.7 357.9,1115.3 358.6,1115.7 359.4,1115.8 359.9,1115.6 360.4,1115.0 360.9,1115.3 361.1,1115.2 361.7,1116.0 362.4,1116.1 364.0,1115.8 364.2,1116.0 364.4,1115.8 365.5,1116.0 366.9,1115.1 367.4,1115.4 367.6,1115.2 367.8,1115.5 367.9,1115.3 368.4,1115.5 368.9,1115.1 369.1,1115.2 371.4,1113.9 373.0,1115.2 374.3,1115.1 375.7,1115.5 376.3,1115.3 377.9,1115.9 378.4,1115.4 378.6,1115.7 379.6,1115.1 379.9,1115.4 382.1,1115.4 382.5,1115.6 383.4,1115.4 383.6,1115.6 384.0,1115.2 384.2,1115.4 384.8,1115.1 385.9,1115.0 386.6,1115.2 387.0,1115.6 387.3,1115.4 387.9,1115.6 388.6,1115.2 389.8,1115.7 390.5,1115.5 391.6,1117.2 391.8,1117.2 393.7,1114.0 394.7,1113.0 395.3,1113.0 396.3,1113.9 397.8,1113.7 398.0,1113.9 398.7,1114.0 400.0,1113.2 402.0,1110.1 403.1,1106.0 404.0,1098.4 404.7,1085.6 406.2,1030.2 407.5,1079.4 408.4,1098.4 409.1,1104.9 410.1,1109.1 410.7,1110.7 411.5,1111.8 413.2,1113.1 414.1,1114.4 415.0,1117.5 415.6,1128.9 416.2,1159.9 417.8,1050.4 418.5,1088.1 419.0,1102.4 419.8,1109.7 420.5,1111.7 421.3,1112.5 422.2,1112.8 423.3,1111.8 424.2,1109.8 424.9,1106.5 425.6,1099.4 426.8,1077.5 428.0,1100.3 428.8,1108.3 429.6,1111.3 430.7,1113.2 431.6,1114.1 433.5,1115.0 434.9,1115.1 435.2,1114.9 436.3,1115.2 436.7,1115.5 437.3,1115.5 437.4,1115.7 438.5,1115.2 438.8,1115.4 438.9,1115.1 440.0,1115.8 441.5,1115.1 442.4,1115.4 443.7,1115.4 444.0,1115.2 444.6,1115.7 444.8,1115.5 445.0,1115.7 445.2,1115.4 445.8,1115.8 446.5,1115.3 447.0,1115.6 447.7,1115.5 448.3,1115.9 449.3,1115.4 450.1,1115.4 450.8,1115.8 451.6,1115.4 451.9,1115.6 452.3,1115.4 453.1,1115.7 454.2,1115.3 455.6,1115.5 456.2,1115.2 458.1,1115.7 458.8,1115.4 460.6,1115.6 461.1,1115.4 462.2,1115.4 463.1,1115.8 463.9,1115.5 464.1,1115.7 464.5,1115.2 465.0,1115.3 465.3,1115.6 465.6,1115.5 466.0,1115.8 467.2,1115.2 468.4,1115.1 470.5,1115.7 471.8,1115.5 472.6,1115.9 474.0,1115.3 474.8,1115.6 475.2,1115.5 475.5,1115.7 476.3,1115.4 476.7,1115.6 477.2,1115.6 477.5,1115.9 478.9,1116.0 479.1,1115.7 479.3,1116.0 479.6,1115.6 480.6,1115.6 480.8,1115.4 481.4,1116.1 481.8,1116.0 482.0,1116.2 483.3,1115.7 483.5,1115.3 483.8,1115.5 484.3,1115.3 485.1,1115.9 486.8,1115.6 487.5,1115.7 488.0,1115.4 489.5,1115.7 490.5,1115.4 492.0,1115.9 492.2,1115.7 493.1,1115.9 493.3,1116.1 493.6,1115.9 493.8,1116.2 494.6,1115.9 495.1,1116.2 495.3,1115.8 495.8,1116.0 496.6,1115.6 497.5,1115.7 497.9,1116.1 499.4,1115.6 500.3,1115.7 501.4,1115.4 502.7,1115.7 503.9,1115.3 506.1,1116.0 507.6,1115.2 509.4,1115.9 510.9,1115.4 511.5,1115.7 512.6,1115.4 514.0,1116.0 515.0,1115.5 515.2,1115.7 515.5,1115.5 516.1,1115.8 517.3,1115.4 518.5,1116.0 519.1,1115.9 519.2,1116.1 519.9,1115.6 520.7,1115.5 521.5,1116.0 522.1,1116.0 523.0,1115.6 524.0,1115.9 524.3,1115.6 524.7,1115.9 525.5,1115.4 526.0,1115.4 526.6,1115.9 528.3,1115.6" fill="none" stroke="#111" stroke-width="1.80" stroke-linejoin="round"/>
<path d="M50.8,1239.3L51.6,1239.1 52.8,1239.7 53.0,1239.3 53.7,1239.2 54.3,1239.1 54.6,1239.4 54.8,1239.1 55.6,1239.1 55.7,1239.3 56.0,1239.1 58.4,1239.6 59.4,1239.6 59.7,1239.4 61.3,1239.8 62.1,1239.3 63.1,1239.2 64.1,1239.4 64.9,1239.8 65.6,1239.8 66.4,1239.3 67.3,1239.4 67.6,1239.1 69.2,1239.7 69.5,1239.4 70.7,1239.0 75.0,1238.8 75.8,1238.2 76.3,1237.1 77.4,1231.3 77.6,1231.2 78.4,1235.3 78.8,1235.8 79.1,1235.3 80.0,1231.2 80.9,1236.5 81.4,1237.8 82.0,1238.2 82.8,1238.1 84.4,1238.8 84.9,1238.7 86.5,1239.6 88.8,1238.4 89.8,1236.6 90.9,1233.7 91.3,1234.0 92.9,1237.8 93.9,1238.9 95.5,1238.7 96.0,1239.0 98.1,1239.1 98.4,1239.4 99.1,1239.1 99.3,1239.3 99.9,1239.0 100.2,1239.2 100.8,1238.8 101.4,1238.9 101.7,1238.6 101.9,1238.9 103.1,1239.4 105.1,1238.9 107.0,1239.3 108.4,1238.9 109.8,1238.9 110.4,1238.5 111.9,1239.0 113.6,1238.4 113.8,1238.6 114.3,1238.3 115.1,1238.4 116.0,1238.1 116.9,1237.2 117.6,1235.8 118.1,1233.7 118.9,1227.8 120.1,1234.6 120.7,1235.6 122.0,1235.4 122.9,1233.4 123.6,1228.9 124.7,1202.7 125.7,1226.1 126.3,1230.2 126.7,1230.9 127.2,1230.8 127.9,1229.3 128.9,1224.5 129.7,1213.7 130.2,1196.3 131.1,1135.9 131.9,1189.5 132.5,1210.6 132.9,1214.8 133.1,1215.1 133.3,1213.9 134.1,1197.1 135.1,1223.6 135.6,1228.7 136.6,1232.1 137.4,1232.3 138.0,1230.8 139.2,1216.9 140.5,1233.0 141.5,1236.3 141.9,1236.9 142.8,1237.4 143.2,1237.9 144.1,1238.2 144.9,1238.1 146.0,1239.0 146.6,1238.8 146.8,1239.0 147.5,1238.5 148.1,1238.7 148.4,1238.5 150.2,1239.0 151.0,1238.9 152.5,1239.3 152.8,1239.0 153.8,1238.9 154.0,1238.6 155.0,1238.6 156.4,1239.2 156.8,1239.0 158.2,1239.5 158.6,1239.6 158.8,1239.4 159.8,1239.7 160.7,1239.2 161.6,1239.2 162.2,1239.5 162.8,1239.0 164.0,1238.7 164.9,1239.5 165.3,1239.3 165.9,1239.4 166.4,1239.0 166.8,1239.4 167.4,1239.2 168.0,1239.6 170.6,1239.5 171.1,1239.2 172.8,1239.4 173.2,1239.7 174.1,1239.6 174.3,1239.9 175.2,1239.2 176.7,1239.5 177.3,1239.3 178.0,1239.6 179.8,1239.2 180.5,1239.6 180.8,1239.4 181.2,1239.6 181.6,1239.4 182.0,1239.5 182.4,1240.1 184.5,1239.2 186.7,1239.4 187.6,1239.9 188.0,1239.7 188.4,1239.8 189.0,1239.3 189.5,1239.4" fill="none" stroke="#111" stroke-width="1.80" stroke-linejoin="round"/>
<path d="M198.1,1238.9L199.2,1239.3 199.8,1238.9 201.9,1238.9 202.7,1238.5 202.9,1238.7 204.4,1238.3 205.2,1238.6 207.0,1238.5 208.5,1238.7 208.7,1238.5 208.9,1238.7 210.4,1238.2 210.6,1238.4 211.1,1238.2 211.7,1238.4 212.6,1238.2 213.3,1237.7 214.5,1238.3 215.1,1238.0 216.0,1237.0 216.1,1237.2 217.4,1236.2 218.5,1235.0 219.3,1233.2 219.7,1231.4 220.4,1226.2 222.2,1197.4 223.8,1223.5 225.0,1232.5 225.9,1235.0 227.2,1236.5 228.9,1237.9 229.3,1237.9 230.0,1238.5 230.6,1238.4 231.1,1238.8 231.4,1238.4 232.4,1238.4 232.7,1238.0 232.9,1238.2 234.0,1238.0 234.3,1238.3 235.9,1238.5 236.3,1239.0 237.2,1238.9 237.9,1238.5 238.6,1238.8 239.6,1238.7 240.0,1239.0 240.1,1238.8 240.9,1238.9 241.3,1238.7 242.9,1239.0 243.5,1238.9 243.9,1238.5 245.3,1238.8 245.9,1238.4 246.4,1238.4 247.4,1238.9 247.7,1238.7 248.9,1239.0 249.4,1238.8 249.9,1239.0 250.4,1238.8 250.8,1239.1 251.9,1238.9 252.3,1238.5 253.4,1238.7 253.7,1239.1 255.0,1238.5 255.8,1239.1 256.5,1239.0 257.4,1238.3 260.1,1239.0 261.4,1238.4 261.9,1238.8 263.3,1238.5 263.7,1238.8 264.1,1238.7 264.6,1238.9 266.4,1238.5 267.9,1239.1 268.1,1238.9 268.9,1239.0 269.2,1238.7 269.6,1238.9 271.6,1238.7 271.9,1238.9 272.8,1238.6 274.3,1239.0 275.9,1238.8 276.5,1239.1 278.0,1238.7 279.1,1239.0 280.0,1238.4 280.6,1238.4 281.2,1238.4 283.0,1239.2 283.8,1238.7 284.9,1238.7 285.6,1239.1 285.8,1238.9 286.4,1239.1 287.1,1238.8 287.3,1239.0 287.6,1238.7 288.1,1238.9 288.4,1238.7 288.6,1239.0 289.6,1238.9 291.0,1239.4 292.7,1238.7 293.0,1239.1 293.8,1239.0 294.2,1239.2 294.6,1238.8 296.0,1238.6 297.2,1239.2 298.4,1238.8 299.5,1239.3 300.5,1238.8 302.0,1239.3 302.8,1239.1 303.1,1239.4 303.5,1239.1 304.5,1239.0 305.2,1239.4 306.3,1239.0 306.5,1239.2 306.8,1238.8 307.2,1238.8 308.8,1238.9 309.8,1238.5 310.9,1238.9 312.1,1238.8 312.4,1238.6 314.4,1238.8 314.9,1238.4 315.6,1238.6 315.9,1238.3 319.2,1239.0 320.0,1238.9 320.4,1238.6 321.3,1238.6 321.8,1239.0 322.2,1238.9 323.1,1239.3 323.2,1239.1 323.9,1239.2 324.6,1238.7 325.0,1239.0 326.1,1239.0 326.4,1238.8 327.8,1239.1 328.3,1238.9 328.8,1239.0 329.5,1238.9 331.3,1239.4 332.4,1238.9 332.6,1238.6 333.9,1238.4 334.8,1238.8 335.1,1238.6 335.8,1238.8 336.3,1238.6 337.2,1239.0 338.1,1238.8 338.5,1238.9 338.7,1238.7 339.7,1238.9 340.1,1238.6 340.3,1238.9 340.8,1238.8 341.6,1239.1 342.2,1238.8 344.4,1239.2 345.9,1238.5 347.4,1239.2 348.2,1238.9 348.5,1239.2 349.0,1239.0 349.1,1239.3 349.6,1239.4 351.2,1238.5 352.9,1239.2 353.4,1238.8 353.9,1239.2 354.3,1239.0 354.9,1239.3 355.6,1238.9 356.2,1238.8 356.3,1239.0 356.9,1238.8 357.2,1239.0 357.9,1238.7 358.4,1238.9 358.7,1238.7 359.3,1238.8 360.0,1238.3 361.5,1238.8 362.7,1238.6 363.9,1238.8 364.3,1239.1 365.2,1239.0 365.6,1238.7 366.5,1238.9 366.7,1238.7 367.1,1239.0 368.0,1238.8 368.9,1238.9 369.1,1238.7 370.9,1238.9 372.2,1238.4 372.4,1238.6 373.1,1238.6 373.8,1239.1 375.3,1238.6 375.5,1238.9 375.8,1238.6 376.4,1239.0 377.0,1238.6 377.3,1238.7 377.9,1238.4 379.8,1238.8 381.0,1238.5 381.9,1238.8 382.5,1239.2 383.2,1238.9 384.6,1238.9 384.8,1238.7 385.3,1238.9 385.6,1238.6 386.4,1239.1 386.8,1238.7 387.1,1238.9 387.5,1238.7 388.3,1238.8 388.6,1238.6 390.1,1238.7 390.3,1238.5 391.2,1238.4 393.7,1238.6 394.3,1238.3 394.6,1238.6 396.8,1238.1 397.4,1237.7 397.7,1237.9 397.9,1237.7 398.9,1237.7 400.9,1236.1 401.5,1234.8 402.1,1232.6 402.8,1227.6 404.0,1212.7 404.8,1216.4 405.4,1213.5 405.5,1213.3 405.6,1213.4 406.7,1227.0 407.6,1231.5 408.0,1232.1 408.5,1232.1 409.1,1230.8 409.6,1228.7 410.3,1221.8 410.8,1211.9 412.0,1166.0 413.1,1209.0 414.0,1226.2 414.5,1230.2 415.2,1233.0 416.2,1234.9 418.4,1237.2 419.0,1237.4 419.8,1236.9 420.4,1236.8 421.0,1237.3 421.7,1237.2 423.1,1235.9 423.7,1234.8 424.3,1232.4 424.8,1228.2 426.0,1210.0 427.2,1228.2 428.2,1234.7 428.8,1236.0 430.6,1237.4 431.7,1237.7 432.3,1238.1 432.6,1238.0 432.9,1238.4 434.3,1238.5 435.0,1239.1 435.5,1239.0 436.1,1238.5 437.2,1238.7 438.1,1238.4 439.4,1238.7 439.8,1238.5 440.1,1238.7 440.9,1238.5 441.3,1238.7 442.1,1238.5 443.7,1239.1 444.4,1238.8 445.3,1239.0 446.9,1238.4 447.5,1238.5 449.0,1236.6 449.3,1237.3 449.7,1237.5 450.2,1238.3 450.8,1238.0 451.2,1238.2 452.1,1237.7 452.6,1237.0 453.8,1238.4 455.3,1238.3 455.7,1238.6 455.9,1238.3 456.9,1239.0 457.1,1238.8 458.6,1239.2 459.1,1239.0 459.6,1239.3 460.6,1239.1 461.1,1238.7 462.1,1239.1 463.0,1238.8 464.4,1239.0 466.4,1238.4 467.7,1239.0 468.3,1238.9 468.6,1239.1 470.2,1238.6 471.2,1239.0 472.0,1239.0 473.5,1238.7 473.9,1238.8 474.6,1238.5 476.0,1239.1 477.3,1238.9 477.9,1239.2 478.4,1239.0 478.6,1239.2 479.1,1238.9 479.2,1239.1 479.4,1238.9 479.9,1239.0 480.1,1238.8 480.7,1239.0 481.2,1238.7 481.6,1239.1 482.2,1238.9 483.5,1239.2 483.6,1239.0 484.4,1239.0 485.0,1238.5 486.1,1238.4 487.6,1239.0 488.7,1238.9 490.1,1238.4 491.5,1238.7 491.7,1239.1 493.0,1239.6 494.7,1238.8 495.3,1239.1 495.8,1238.8 496.2,1238.9 496.4,1238.6 497.0,1238.6 498.3,1239.0 499.0,1238.7 499.6,1239.1 499.8,1238.9 500.2,1239.3 500.5,1239.3 500.9,1239.0 501.3,1239.1 501.7,1238.8 502.0,1238.9 502.8,1238.4 503.1,1238.7 503.4,1238.6 504.3,1239.1 506.1,1238.5 506.6,1238.8 507.7,1238.9 508.8,1238.6 510.2,1238.9 511.5,1238.9 511.8,1239.2 512.9,1238.9 513.3,1239.1 513.8,1238.7 514.5,1238.8 514.8,1238.6 515.3,1239.0 516.5,1238.7 516.7,1238.9 517.4,1238.4 518.2,1238.4 520.6,1238.9 521.8,1238.6 523.2,1239.0 524.5,1238.6 525.9,1239.1 528.3,1239.1" fill="none" stroke="#111" stroke-width="1.80" stroke-linejoin="round"/>
<line x1="50.3" y1="1255.0" x2="185.4" y2="1255.0" stroke="#333" stroke-width="1.80"/>
<line x1="202.7" y1="1255.0" x2="528.3" y2="1255.0" stroke="#333" stroke-width="1.80"/>
<line x1="77.0" y1="1255.0" x2="77.0" y2="1262.0" stroke="#333" stroke-width="1.30"/>
<line x1="132.8" y1="1255.0" x2="132.8" y2="1262.0" stroke="#333" stroke-width="1.30"/>
<line x1="253.5" y1="1255.0" x2="253.5" y2="1262.0" stroke="#333" stroke-width="1.30"/>
<line x1="363.3" y1="1255.0" x2="363.3" y2="1262.0" stroke="#333" stroke-width="1.30"/>
<line x1="473.5" y1="1255.0" x2="473.5" y2="1262.0" stroke="#333" stroke-width="1.30"/>
<line x1="50.3" y1="1255.0" x2="50.3" y2="1259.0" stroke="#333" stroke-width="1.30"/>
<line x1="104.9" y1="1255.0" x2="104.9" y2="1259.0" stroke="#333" stroke-width="1.30"/>
<line x1="161.5" y1="1255.0" x2="161.5" y2="1259.0" stroke="#333" stroke-width="1.30"/>
<line x1="308.4" y1="1255.0" x2="308.4" y2="1259.0" stroke="#333" stroke-width="1.30"/>
<line x1="417.9" y1="1255.0" x2="417.9" y2="1259.0" stroke="#333" stroke-width="1.30"/>
<line x1="528.3" y1="1255.0" x2="528.3" y2="1259.0" stroke="#333" stroke-width="1.30"/>
<text x="77.0" y="1281.0" font-family="Liberation Sans" font-size="14.0" font-weight="normal" font-style="normal" text-anchor="middle" fill="#222">8</text>
<text x="132.8" y="1281.0" font-family="Liberation Sans" font-size="14.0" font-weight="normal" font-style="normal" text-anchor="middle" fill="#222">7</text>
<text x="253.5" y="1281.0" font-family="Liberation Sans" font-size="14.0" font-weight="normal" font-style="normal" text-anchor="middle" fill="#222">3</text>
<text x="363.3" y="1281.0" font-family="Liberation Sans" font-size="14.0" font-weight="normal" font-style="normal" text-anchor="middle" fill="#222">2</text>
<text x="473.5" y="1281.0" font-family="Liberation Sans" font-size="14.0" font-weight="normal" font-style="normal" text-anchor="middle" fill="#222">1</text>
<line x1="181.5" y1="1262.5" x2="190.0" y2="1247.5" stroke="#222" stroke-width="1.40"/>
<line x1="189.5" y1="1262.5" x2="198.0" y2="1247.5" stroke="#222" stroke-width="1.40"/>
<text x="302.0" y="1281.0" font-family="Liberation Sans" font-size="15.0" font-weight="normal" font-style="normal" text-anchor="middle" fill="#222">ppm</text>
<path d="M216.8,971.2 L223.6,969.5 L229.0,970.6 L233.3,963.5 L238.7,963.0 L244.0,966.9 L249.4,967.8 L253.7,965.6 L259.1,969.0 L264.4,970.6 L269.8,977.0 L274.1,973.8 L279.5,967.3 L283.8,954.4 L288.1,945.4 L292.4,946.9 L297.7,928.7 L303.1,912.6 L307.4,911.0 L311.7,907.2 L315.4,900.1 L319.2,907.2 L323.5,922.2 L328.5,935.1 L334.3,956.6 L340.1,970.6 L343.5,967.3 L348.2,957.7 L352.5,956.6 L356.8,963.0 L360.0,968.4 L365.4,970.6" fill="none" stroke="#111" stroke-width="1.5" stroke-linejoin="round"/>
<line x1="216.8" y1="982.4" x2="365.4" y2="982.4" stroke="#444" stroke-width="1.10"/>
<line x1="247.9" y1="982.4" x2="247.9" y2="984.5" stroke="#444" stroke-width="1.00"/>
<line x1="278.9" y1="982.4" x2="278.9" y2="984.5" stroke="#444" stroke-width="1.00"/>
<line x1="309.6" y1="982.4" x2="309.6" y2="984.5" stroke="#444" stroke-width="1.00"/>
<line x1="340.3" y1="982.4" x2="340.3" y2="984.5" stroke="#444" stroke-width="1.00"/>
<text x="176.8" y="1001.6" font-family="Liberation Sans" font-size="17.0" font-weight="bold" font-style="italic" text-anchor="start" fill="#1a1a1a">PhSH</text>
<text x="353.6" y="918.0" font-family="Liberation Sans" font-size="17.0" font-weight="bold" font-style="italic" text-anchor="start" fill="#1a1a1a">a(-H)</text>
<text x="444.0" y="990.6" font-family="Liberation Sans" font-size="17.0" font-weight="bold" font-style="italic" text-anchor="start" fill="#1a1a1a">aH</text>
<line x1="376.2" y1="921.1" x2="339.8" y2="944.7" stroke="#777" stroke-width="0.80"/>
<path d="M336.4,946.9L339.5,942.5L341.7,945.9Z" fill="#777"/>
<line x1="378.7" y1="921.1" x2="378.7" y2="996.7" stroke="#444" stroke-width="0.80"/>
<path d="M378.7,1001.7L376.5,995.7L380.9,995.7Z" fill="#444"/>
<line x1="372.7" y1="1108.9" x2="314.9" y2="1004.5" stroke="#555" stroke-width="0.80"/>
<path d="M312.0,999.3L317.5,1004.3L313.3,1006.6Z" fill="#555"/>
<text x="210.8" y="1086.7" font-family="Liberation Sans" font-size="17.0" font-weight="bold" font-style="italic" text-anchor="start" fill="#1a1a1a">PhSH</text>
<text x="384.6" y="1032.7" font-family="Liberation Sans" font-size="17.0" font-weight="bold" font-style="italic" text-anchor="start" fill="#1a1a1a">3a</text>
<text x="420.4" y="1152.0" font-family="Liberation Sans" font-size="17.0" font-weight="bold" font-style="italic" text-anchor="start" fill="#1a1a1a">aa</text>
<text x="205.2" y="1186.5" font-family="Liberation Sans" font-size="17.0" font-weight="bold" font-style="italic" text-anchor="start" fill="#1a1a1a">PhSH</text>
<text x="386.1" y="1183.8" font-family="Liberation Sans" font-size="17.0" font-weight="bold" font-style="italic" text-anchor="start" fill="#1a1a1a">3a</text>
<text x="549.5" y="22.8" font-family="Liberation Sans" font-size="20.0" font-weight="normal" font-style="normal" text-anchor="start" fill="#222">(b)</text>
<path d="M706.4,159.3L712.6,159.4 739.5,158.1 741.2,158.3 742.7,157.8 766.1,155.0 794.7,156.0 798.1,154.6 799.8,155.6 803.6,155.8 805.4,154.6 807.8,150.4 810.2,154.5 811.5,155.2 832.0,153.3 848.9,150.3 851.0,151.2 853.3,154.5 856.3,156.5 857.7,156.8 866.2,156.3 867.9,155.5 869.2,152.8 872.5,135.3 873.2,137.0 875.5,151.3 877.1,154.9 877.8,155.4 878.7,155.1 880.2,153.0 883.6,135.3 884.3,136.8 886.2,148.8 887.3,153.0 888.5,154.9 891.7,155.4 893.3,154.7 894.6,153.2 896.1,147.8 897.3,136.3 899.5,104.0 900.3,99.3 901.1,104.0 904.3,146.3 905.7,152.8 906.5,154.3 907.8,155.3 910.9,156.1 917.7,156.7 927.2,156.8 930.3,156.5 934.2,154.3 935.9,154.1 942.1,157.1 952.2,157.1 964.1,157.8 965.4,157.5 972.4,158.3 978.4,158.0 983.5,158.6 985.8,158.2 987.1,158.6 995.6,158.8 998.6,159.3 1000.1,158.9 1002.0,159.4L1002.0,422.0L706.4,422.0Z" fill="#fff" stroke="none"/>
<path d="M706.4,159.3L707.4,159.1 708.8,159.5 711.1,159.2 712.6,159.4 713.1,159.2 716.2,159.2 717.7,159.0 723.0,159.1 724.6,158.7 727.2,158.9 732.8,158.4 734.3,158.6 735.4,158.4 738.4,158.4 739.5,158.1 741.2,158.3 742.7,157.8 744.2,157.9 751.8,156.8 753.2,156.8 754.4,156.4 758.1,156.0 759.1,155.7 764.6,155.4 766.1,155.0 768.1,155.3 772.6,155.0 774.5,155.3 779.3,155.3 782.0,155.7 785.2,155.5 786.9,155.8 788.4,155.6 790.2,155.9 793.1,155.7 794.7,156.0 798.1,154.6 799.8,155.6 803.6,155.8 804.7,155.3 805.4,154.6 807.3,150.8 807.8,150.4 808.5,151.1 810.2,154.5 811.5,155.2 812.6,155.3 814.6,154.8 817.0,154.9 819.9,154.4 822.0,154.4 823.5,154.1 826.0,154.1 827.5,153.6 832.0,153.3 833.8,152.8 836.5,152.4 838.0,152.4 838.4,152.1 839.9,152.1 841.6,151.4 842.8,151.5 845.3,150.9 846.4,151.0 848.9,150.3 849.8,150.5 851.0,151.2 853.3,154.5 856.3,156.5 857.7,156.8 866.2,156.3 867.3,156.0 867.9,155.5 869.2,152.8 870.2,148.1 871.7,138.0 872.1,136.1 872.5,135.3 872.8,135.6 873.2,137.0 875.5,151.3 876.4,153.8 877.1,154.9 877.8,155.4 878.7,155.1 879.7,154.1 880.2,153.0 881.0,150.0 882.8,138.4 883.6,135.3 883.9,135.5 884.3,136.8 886.2,148.8 887.3,153.0 888.5,154.9 889.8,155.4 890.2,155.2 891.7,155.4 893.3,154.7 894.6,153.2 895.4,151.2 896.1,147.8 897.3,136.3 899.5,104.0 899.9,100.4 900.3,99.3 900.7,100.5 901.1,104.0 903.2,135.2 904.3,146.3 904.8,149.4 905.7,152.8 906.5,154.3 907.8,155.3 910.9,156.1 914.5,156.5 916.2,156.4 917.7,156.7 920.8,156.5 922.1,156.7 923.5,156.6 924.0,156.8 925.8,156.6 927.2,156.8 927.7,156.6 930.3,156.5 934.2,154.3 935.9,154.1 942.1,157.1 943.2,156.9 946.7,157.2 952.2,157.1 953.8,157.4 954.3,157.3 956.2,157.5 957.3,157.3 964.1,157.8 965.4,157.5 967.7,157.9 969.5,157.8 972.4,158.3 973.9,158.0 977.1,158.2 978.4,158.0 980.9,158.4 982.3,158.3 983.5,158.6 985.8,158.2 987.1,158.6 990.4,158.6 992.0,158.9 995.6,158.8 998.6,159.3 1000.1,158.9 1002.0,159.4" fill="none" stroke="#111" stroke-width="1.80" stroke-linejoin="round"/>
<path d="M690.0,181.2L728.3,180.7 746.7,178.7 748.7,178.9 753.1,178.0 759.9,177.8 761.8,176.5 764.1,172.8 766.6,176.3 769.4,176.9 785.9,175.6 789.1,174.7 791.6,172.6 793.7,174.4 795.6,174.5 805.3,173.5 810.6,172.4 819.3,171.8 820.9,171.2 829.5,170.9 834.4,169.9 835.6,170.6 838.4,174.3 843.2,177.6 846.0,178.4 849.7,178.3 851.0,177.7 852.4,175.6 855.2,164.4 856.0,162.9 856.8,164.3 858.5,171.4 859.6,173.8 860.7,174.7 862.4,175.1 864.2,173.3 867.5,162.8 868.3,164.0 870.5,172.4 871.9,174.6 873.1,175.2 875.6,175.3 879.6,174.6 882.3,173.2 883.5,171.7 884.5,169.0 885.3,164.6 886.7,148.5 888.8,110.4 889.6,104.7 890.5,111.4 893.4,158.9 894.7,167.3 896.4,170.5 901.2,172.7 907.6,177.0 912.5,177.8 915.0,177.6 919.9,175.5 921.6,175.4 924.4,177.1 928.2,178.1 961.8,178.2 964.0,178.7 970.7,178.9 978.8,180.2 979.8,180.0 985.7,181.1L985.7,422.0L690.0,422.0Z" fill="#fff" stroke="none"/>
<path d="M690.0,181.2L692.3,181.3 694.7,181.0 696.2,181.3 698.1,181.4 700.9,180.9 702.4,181.1 702.9,180.9 705.1,181.0 706.3,181.2 707.4,180.9 709.0,181.2 714.4,180.8 715.9,181.0 717.5,180.7 720.8,180.8 726.0,180.5 728.3,180.7 731.1,180.3 736.0,180.2 738.6,179.6 741.9,179.5 746.7,178.7 748.7,178.9 750.5,178.5 752.3,178.4 753.1,178.0 754.6,178.1 758.5,177.7 759.9,177.8 760.9,177.3 761.8,176.5 763.5,173.2 764.1,172.8 764.5,173.0 765.8,175.4 766.6,176.3 767.8,176.8 769.4,176.9 785.9,175.6 789.1,174.7 790.3,173.8 791.2,172.7 791.6,172.6 793.7,174.4 795.6,174.5 798.6,174.0 799.2,174.1 805.3,173.5 806.5,173.2 808.9,173.0 810.6,172.4 812.0,172.5 815.3,171.9 819.3,171.8 820.9,171.2 822.4,171.4 824.6,171.0 826.0,171.2 827.7,170.8 829.5,170.9 834.4,169.9 835.6,170.6 838.4,174.3 840.2,175.8 841.7,176.5 843.2,177.6 846.0,178.4 849.7,178.3 851.0,177.7 852.4,175.6 853.5,172.2 855.2,164.4 855.6,163.2 856.0,162.9 856.5,163.5 856.8,164.3 858.5,171.4 859.6,173.8 860.7,174.7 861.7,175.1 862.4,175.1 863.5,174.3 864.2,173.3 865.3,170.4 866.9,164.0 867.5,162.8 867.9,163.1 868.3,164.0 870.5,172.4 871.9,174.6 873.1,175.2 875.6,175.3 879.6,174.6 882.3,173.2 883.5,171.7 884.5,169.0 885.3,164.6 886.7,148.5 888.8,110.4 889.2,106.2 889.6,104.7 890.0,106.1 890.5,111.4 892.4,145.6 893.4,158.9 894.1,164.4 894.7,167.3 895.3,169.0 896.4,170.5 897.8,171.4 901.2,172.7 902.7,173.9 907.6,177.0 912.5,177.8 915.0,177.6 917.1,176.9 919.9,175.5 921.6,175.4 922.2,175.5 924.4,177.1 926.4,177.8 928.2,178.1 932.7,177.9 934.0,178.2 939.4,178.1 940.9,178.3 943.3,178.0 944.9,178.3 947.0,178.1 950.5,178.3 951.2,178.1 954.3,178.3 956.5,178.1 960.6,178.4 961.8,178.2 964.0,178.7 970.7,178.9 972.2,179.4 974.2,179.4 978.8,180.2 979.8,180.0 982.0,180.7 985.7,181.1" fill="none" stroke="#111" stroke-width="1.80" stroke-linejoin="round"/>
<path d="M673.6,203.0L734.9,202.9 740.6,201.8 742.6,200.0 744.0,196.8 746.9,181.5 747.8,179.2 748.7,181.1 751.9,194.9 753.6,197.0 756.1,197.7 768.7,198.0 772.8,197.4 775.2,195.8 778.7,197.1 787.5,196.5 789.1,195.7 791.1,192.0 791.7,191.7 793.4,194.5 794.8,195.7 798.1,195.5 801.0,191.9 803.3,195.2 804.5,196.1 814.5,198.1 816.3,197.0 818.6,191.7 820.6,197.5 821.7,199.3 824.5,200.4 832.5,200.8 835.0,199.8 836.9,197.9 839.7,190.5 840.3,190.9 842.8,196.7 845.7,197.5 847.5,197.3 848.3,196.5 851.4,190.3 852.1,191.2 853.6,195.5 855.1,197.7 857.8,198.5 863.2,199.0 867.9,197.9 869.1,196.9 870.1,194.5 871.5,185.4 874.5,132.4 875.4,124.8 876.3,132.5 879.2,184.3 880.5,193.6 882.3,197.5 887.1,199.2 890.4,199.2 891.9,199.7 901.6,199.7 904.5,198.8 906.0,199.4 908.2,199.4 910.0,200.2 914.0,200.5 916.5,200.2 922.2,201.0 923.8,200.5 935.5,200.9 943.6,201.7 945.8,201.5 969.3,202.8L969.3,422.0L673.6,422.0Z" fill="#fff" stroke="none"/>
<path d="M673.6,203.0L675.2,202.7 678.6,203.0 682.1,202.8 683.0,203.0 686.3,202.8 687.4,203.0 688.9,202.8 692.1,203.1 693.1,202.9 695.1,203.1 698.7,202.8 701.4,203.1 703.3,202.8 704.8,203.1 705.9,202.8 707.2,203.1 707.9,202.9 711.6,202.8 713.1,203.1 715.5,202.7 716.2,203.0 717.7,202.8 719.0,203.1 722.0,202.7 724.9,203.1 726.5,202.8 734.9,202.9 740.6,201.8 742.0,200.8 742.6,200.0 744.0,196.8 745.1,191.9 746.9,181.5 747.4,179.7 747.8,179.2 748.2,179.5 748.7,181.1 750.6,190.4 751.9,194.9 752.7,196.3 753.6,197.0 756.1,197.7 759.2,198.1 760.6,197.8 762.3,198.1 766.0,197.8 768.7,198.0 769.4,197.7 770.9,197.8 772.8,197.4 775.2,195.8 775.6,195.8 777.3,196.8 778.7,197.1 783.5,196.6 787.5,196.5 789.1,195.7 789.9,194.6 791.1,192.0 791.7,191.7 793.4,194.5 794.8,195.7 797.0,195.8 798.1,195.5 799.0,194.8 800.7,191.9 801.0,191.9 801.8,192.6 803.3,195.2 804.5,196.1 806.2,196.2 810.7,197.4 812.2,197.5 814.5,198.1 815.4,197.9 816.3,197.0 817.9,192.7 818.6,191.7 819.1,192.3 820.6,197.5 821.7,199.3 823.8,200.3 824.5,200.4 826.2,200.4 827.7,200.8 832.5,200.8 835.0,199.8 836.9,197.9 839.0,191.6 839.7,190.5 840.0,190.5 840.3,190.9 841.8,195.0 842.8,196.7 843.6,197.2 845.7,197.5 846.0,197.3 847.5,197.3 848.3,196.5 849.3,194.7 850.7,191.2 851.4,190.3 852.1,191.2 853.6,195.5 855.1,197.7 857.8,198.5 861.3,198.7 863.2,199.0 865.3,198.8 867.9,197.9 869.1,196.9 870.1,194.5 870.8,191.1 871.5,185.4 872.6,169.9 874.5,132.4 874.9,127.2 875.4,124.8 875.8,126.5 876.3,132.5 878.3,171.7 879.2,184.3 880.5,193.6 881.2,195.8 882.3,197.5 883.5,198.2 884.9,198.4 887.1,199.2 889.3,199.5 890.4,199.2 891.9,199.7 895.8,199.5 898.0,199.9 900.1,199.5 901.6,199.7 904.5,198.8 906.0,199.4 907.1,199.2 908.2,199.4 910.0,200.2 912.2,200.1 914.0,200.5 915.1,200.6 916.5,200.2 917.8,200.5 919.7,200.5 922.2,201.0 923.8,200.5 925.0,200.8 928.6,200.8 930.0,201.0 935.0,201.1 935.5,200.9 937.3,201.3 942.3,201.4 943.6,201.7 945.8,201.5 952.8,202.1 957.1,202.0 957.7,202.2 960.0,202.2 962.5,202.6 964.4,202.6 966.4,202.9 967.1,202.7 969.3,202.8" fill="none" stroke="#111" stroke-width="1.80" stroke-linejoin="round"/>
<path d="M657.2,224.6L711.6,224.4 713.3,223.9 722.4,223.5 725.5,222.5 727.3,219.6 728.4,215.5 731.6,189.0 732.6,185.1 733.7,189.2 736.2,207.7 737.9,213.5 739.8,215.6 746.2,219.2 749.8,220.5 753.3,222.4 757.0,223.0 760.0,220.8 764.6,220.3 769.7,220.3 773.7,219.6 775.0,218.2 776.9,214.1 777.5,214.5 779.4,218.4 780.4,219.1 781.8,219.3 783.3,218.6 785.8,214.4 788.8,218.6 796.2,219.1 800.0,218.3 802.7,213.4 805.6,219.8 808.1,221.5 812.6,222.8 819.7,222.0 823.3,217.4 826.2,221.1 827.8,221.6 831.5,221.4 834.8,216.9 837.6,220.9 840.4,221.8 845.2,221.6 851.9,219.5 853.9,218.4 854.9,217.0 856.6,209.3 857.9,193.0 859.9,154.1 860.8,146.7 861.7,154.4 864.6,206.1 865.9,215.3 867.8,219.4 869.1,220.5 872.6,221.4 882.0,222.3 885.5,222.1 890.5,221.0 895.4,222.9 900.2,223.2 907.9,223.2 910.3,223.7 919.0,223.7 926.1,224.3 928.5,223.9 935.8,224.6 938.0,224.3 952.9,224.7L952.9,422.0L657.2,422.0Z" fill="#fff" stroke="none"/>
<path d="M657.2,224.6L658.1,224.8 659.2,224.5 660.7,224.8 661.9,224.6 663.0,224.8 665.8,224.6 667.7,224.9 671.2,224.5 675.0,224.8 678.3,224.4 682.3,224.8 683.5,224.5 685.0,224.8 689.6,224.4 692.1,224.7 693.5,224.4 698.9,224.6 700.0,224.3 701.0,224.6 704.4,224.3 706.2,224.5 707.7,224.2 711.6,224.4 713.3,223.9 716.9,224.0 718.5,223.6 720.0,223.7 722.4,223.5 725.5,222.5 726.4,221.6 727.3,219.6 728.4,215.5 729.4,208.8 731.6,189.0 732.1,186.1 732.6,185.1 733.1,186.0 733.7,189.2 736.2,207.7 737.0,211.2 737.9,213.5 738.7,214.6 739.8,215.6 742.7,216.9 746.2,219.2 749.8,220.5 750.7,221.2 753.3,222.4 755.3,223.0 757.0,223.0 760.0,220.8 764.6,220.3 765.6,220.5 768.4,220.1 769.7,220.3 773.7,219.6 775.0,218.2 776.3,214.9 776.9,214.1 777.5,214.5 779.4,218.4 780.4,219.1 781.8,219.3 782.6,219.1 783.3,218.6 785.2,215.0 785.8,214.4 786.5,215.1 787.8,217.7 788.8,218.6 790.9,218.9 791.9,218.7 793.4,219.0 794.1,218.7 796.2,219.1 797.6,218.6 799.0,218.6 800.0,218.3 800.7,217.4 802.2,213.8 802.7,213.4 803.3,214.0 804.4,217.5 805.6,219.8 808.1,221.5 810.7,222.4 812.6,222.8 817.0,222.5 819.7,222.0 821.3,220.4 822.8,217.8 823.3,217.4 823.8,217.7 826.2,221.1 826.7,221.4 827.8,221.6 830.0,221.7 831.5,221.4 832.3,220.7 833.8,217.9 834.8,216.9 835.5,217.5 836.7,219.8 837.6,220.9 838.2,221.3 840.4,221.8 845.2,221.6 851.9,219.5 852.9,219.1 853.9,218.4 854.9,217.0 855.9,213.8 856.6,209.3 857.9,193.0 859.9,154.1 860.4,148.2 860.8,146.7 861.2,148.3 861.7,154.4 863.6,192.0 864.6,206.1 865.9,215.3 866.6,217.5 867.2,218.8 867.8,219.4 869.1,220.5 870.5,220.6 872.6,221.4 882.0,222.3 885.5,222.1 888.3,221.3 890.5,221.0 895.4,222.9 897.0,222.8 900.2,223.2 904.1,223.1 905.6,223.4 907.9,223.2 910.3,223.7 912.3,223.5 916.4,224.0 919.0,223.7 920.2,224.1 924.4,223.9 926.1,224.3 928.5,223.9 931.8,224.4 934.5,224.2 935.8,224.6 938.0,224.3 938.6,224.5 943.0,224.4 944.5,224.7 947.1,224.5 949.3,224.8 951.5,224.6 952.9,224.7" fill="none" stroke="#111" stroke-width="1.80" stroke-linejoin="round"/>
<path d="M640.8,246.7L646.0,247.0 647.2,246.6 648.6,246.9 653.2,246.5 654.9,246.9 694.7,246.3 705.2,245.2 708.3,243.0 710.3,237.9 711.8,227.7 715.3,167.1 716.4,158.6 717.4,166.6 720.3,215.2 721.2,223.8 722.3,229.5 724.2,233.1 729.2,238.4 739.6,246.6 742.7,251.9 744.2,248.9 746.4,246.1 753.0,240.1 759.2,237.0 763.8,235.9 766.1,236.2 770.1,235.8 772.7,236.7 774.9,235.8 786.0,235.1 787.3,237.2 789.6,244.4 790.8,246.7 800.6,248.1 804.5,248.2 806.9,251.3 809.2,248.0 815.5,247.3 816.6,247.9 818.6,251.4 821.3,246.8 831.9,244.7 836.2,242.4 840.4,238.1 842.0,233.0 843.4,220.8 845.7,184.9 846.6,178.5 847.6,185.4 849.9,219.3 851.2,229.1 852.8,233.2 858.3,238.2 860.2,239.5 864.3,240.7 865.8,240.7 869.2,242.0 870.9,241.8 872.3,242.4 885.3,243.7 888.4,243.1 891.6,239.1 892.5,238.8 896.0,243.6 898.8,244.8 910.5,245.3 915.1,246.0 917.9,245.8 936.5,246.8L936.5,422.0L640.8,422.0Z" fill="#fff" stroke="none"/>
<path d="M640.8,246.7L641.9,246.9 643.1,246.7 646.0,247.0 647.2,246.6 648.6,246.9 653.2,246.5 654.9,246.9 658.1,246.6 662.2,246.8 664.6,246.6 666.1,246.8 667.5,246.8 669.0,246.5 670.5,246.7 673.7,246.5 675.4,246.7 676.3,246.5 677.8,246.7 679.4,246.5 681.5,246.7 682.3,246.5 683.8,246.6 684.6,246.4 689.3,246.6 690.7,246.3 694.7,246.3 695.2,246.1 696.7,246.2 697.5,245.9 701.2,245.8 705.2,245.2 707.4,243.9 708.3,243.0 709.4,241.0 710.3,237.9 711.1,233.6 711.8,227.7 713.0,211.2 715.3,167.1 715.8,161.0 716.1,159.1 716.4,158.6 716.9,160.9 717.4,166.6 720.3,215.2 721.2,223.8 722.3,229.5 723.0,231.3 724.2,233.1 729.2,238.4 731.8,240.3 733.3,241.7 736.9,244.2 739.6,246.6 740.9,248.3 742.3,251.5 742.7,251.9 743.1,251.5 744.2,248.9 746.4,246.1 748.1,244.8 753.0,240.1 754.8,238.9 755.8,238.7 759.2,237.0 763.8,235.9 766.1,236.2 769.5,236.0 770.1,235.8 771.6,236.6 772.7,236.7 774.9,235.8 775.5,235.9 778.2,235.5 779.1,235.6 780.6,235.3 782.5,235.6 786.0,235.1 786.5,235.5 787.3,237.2 789.6,244.4 790.8,246.7 793.9,247.1 795.0,247.4 796.4,247.4 796.9,247.6 799.1,247.8 800.6,248.1 802.1,247.9 804.5,248.2 805.1,248.7 806.4,250.9 806.9,251.3 807.4,250.9 808.4,248.9 809.2,248.0 815.5,247.3 816.0,247.4 816.6,247.9 818.1,251.0 818.6,251.4 819.1,250.8 820.1,248.3 821.3,246.8 822.0,246.6 823.3,246.6 827.3,245.5 828.7,245.4 831.9,244.7 833.3,243.8 834.3,243.6 836.2,242.4 839.3,239.6 840.4,238.1 841.4,235.7 842.0,233.0 843.4,220.8 845.7,184.9 846.2,179.9 846.6,178.5 847.1,180.3 847.6,185.4 849.9,219.3 851.2,229.1 851.9,231.6 852.8,233.2 855.9,235.6 858.3,238.2 860.2,239.5 861.2,239.6 862.7,240.4 864.3,240.7 865.8,240.7 869.2,242.0 870.9,241.8 872.3,242.4 873.8,242.3 875.0,242.7 876.5,242.7 880.1,243.3 885.3,243.7 888.4,243.1 889.6,241.9 891.6,239.1 892.5,238.8 893.2,239.3 894.7,242.0 896.0,243.6 898.8,244.8 902.1,245.0 903.1,245.3 904.6,245.2 909.1,245.5 910.5,245.3 912.0,245.8 913.6,245.6 915.1,246.0 916.8,246.1 917.9,245.8 922.8,246.3 923.9,246.1 925.9,246.5 927.4,246.3 929.2,246.6 930.8,246.3 932.4,246.8 936.5,246.8" fill="none" stroke="#111" stroke-width="1.80" stroke-linejoin="round"/>
<path d="M624.6,268.2L634.2,268.0 635.8,268.4 646.4,267.9 650.6,268.3 657.3,267.9 663.9,268.2 665.5,267.8 671.8,267.8 682.7,266.6 686.7,265.1 688.4,263.4 689.6,259.9 690.5,254.7 691.9,239.0 695.5,150.2 696.7,136.5 697.8,148.1 700.9,218.6 703.1,240.9 705.2,249.1 707.4,254.5 709.3,257.5 715.2,262.1 717.8,266.3 719.8,271.5 722.6,281.9 727.7,269.0 731.5,264.2 735.8,260.8 740.5,258.7 744.7,257.9 751.5,258.4 763.0,260.3 765.9,257.3 768.2,261.1 771.1,269.8 772.9,269.6 776.9,267.8 782.5,268.8 784.6,269.9 785.7,272.8 787.5,283.6 789.8,272.3 790.8,271.6 794.1,271.7 795.8,272.4 797.0,275.2 798.7,285.6 800.5,274.7 801.7,272.0 808.9,270.1 817.3,266.7 821.1,264.5 822.9,261.9 824.8,252.7 827.3,223.4 828.3,217.5 829.2,221.9 832.2,253.3 833.5,258.4 835.3,260.6 838.5,261.8 845.4,263.2 849.2,263.2 857.5,264.2 866.9,264.0 869.3,262.0 872.0,254.4 873.1,252.8 874.2,254.4 876.7,261.6 878.6,263.6 884.9,264.5 893.0,264.6 901.4,265.8 903.7,265.7 920.1,268.3L920.1,422.0L624.6,422.0Z" fill="#fff" stroke="none"/>
<path d="M624.6,268.2L634.2,268.0 635.8,268.4 638.1,268.0 644.0,268.2 645.1,267.9 646.4,267.9 650.6,268.3 652.5,268.0 655.9,268.2 657.3,267.9 661.9,268.1 662.4,267.9 663.9,268.2 665.5,267.8 671.8,267.8 673.4,267.5 676.2,267.4 682.7,266.6 684.7,265.7 685.6,265.6 686.7,265.1 688.4,263.4 689.6,259.9 690.5,254.7 691.9,239.0 693.1,214.8 695.5,150.2 696.1,140.0 696.4,137.3 696.7,136.5 697.2,139.1 697.8,148.1 700.9,218.6 702.0,232.7 703.1,240.9 705.2,249.1 707.4,254.5 709.3,257.5 711.5,259.5 713.6,260.6 715.2,262.1 716.5,263.9 717.8,266.3 719.0,269.0 719.8,271.5 722.6,281.9 722.9,281.7 724.4,276.9 727.7,269.0 729.5,266.4 731.5,264.2 733.2,262.7 735.8,260.8 736.9,260.6 738.4,259.5 740.5,258.7 742.4,258.1 743.6,258.2 744.7,257.9 745.6,258.1 747.4,258.0 748.5,258.3 751.5,258.4 755.4,259.2 756.8,259.2 757.9,259.7 759.8,259.8 761.0,260.3 763.0,260.3 764.2,259.5 765.3,257.9 765.9,257.3 766.5,257.8 768.2,261.1 770.2,267.9 771.1,269.8 771.5,269.9 772.9,269.6 776.9,267.8 778.2,268.1 779.7,268.1 782.5,268.8 784.6,269.9 785.2,270.9 785.7,272.8 787.0,281.7 787.5,283.6 788.0,282.0 789.1,274.7 789.8,272.3 790.3,271.8 790.8,271.6 794.1,271.7 795.8,272.4 796.4,273.1 797.0,275.2 798.2,283.8 798.7,285.6 799.1,284.3 800.5,274.7 801.1,272.8 801.7,272.0 802.4,271.7 806.3,270.9 808.0,270.2 808.9,270.1 814.3,267.7 817.3,266.7 821.1,264.5 822.0,263.5 822.9,261.9 823.9,258.5 824.8,252.7 827.3,223.4 827.8,219.1 828.3,217.5 828.7,218.3 829.2,221.9 831.1,244.1 832.2,253.3 832.8,256.3 833.5,258.4 834.2,259.6 835.3,260.6 836.7,261.0 838.5,261.8 845.4,263.2 849.2,263.2 852.7,263.8 854.2,263.6 857.5,264.2 859.0,263.9 859.4,264.1 862.4,263.9 864.0,264.2 865.7,263.8 866.9,264.0 868.1,263.3 869.3,262.0 870.1,260.2 872.0,254.4 872.6,253.1 873.1,252.8 873.6,253.1 874.2,254.4 875.6,258.9 876.7,261.6 877.5,262.8 878.6,263.6 881.4,264.1 884.2,264.2 884.9,264.5 893.0,264.6 895.1,265.1 897.8,265.1 899.2,265.5 901.4,265.8 902.6,265.6 903.7,265.7 906.0,266.0 906.5,266.3 907.7,266.3 908.7,266.7 909.8,266.6 911.3,267.0 913.3,267.0 914.8,267.5 916.3,267.6 918.0,268.2 920.1,268.3" fill="none" stroke="#111" stroke-width="1.80" stroke-linejoin="round"/>
<path d="M608.2,290.1L614.4,290.2 615.8,289.8 620.1,290.3 628.4,289.9 633.3,290.3 634.1,289.9 638.5,290.2 640.0,289.8 651.5,289.9 660.9,289.4 662.4,288.9 663.5,289.1 669.6,287.3 672.3,284.7 673.5,281.2 674.2,277.0 675.6,261.4 679.3,166.1 680.5,151.7 681.6,164.7 684.6,239.2 685.6,254.2 686.8,264.2 688.4,270.6 692.6,279.0 695.2,282.5 698.5,284.8 701.8,288.5 705.1,296.8 706.8,303.0 708.5,298.8 711.9,292.7 716.6,287.5 720.6,280.7 722.5,278.9 724.3,279.3 727.9,281.5 731.9,283.1 736.3,283.9 742.5,283.0 744.1,282.0 748.9,281.4 749.8,282.0 750.5,283.4 753.1,291.0 754.5,293.6 756.2,293.7 760.6,291.1 762.0,290.8 763.2,291.5 767.8,297.0 769.2,301.2 770.7,313.9 772.8,301.1 774.9,299.9 777.7,296.3 778.9,295.4 779.3,295.7 780.0,298.3 781.5,312.1 783.0,297.3 783.9,293.6 785.8,292.3 794.8,289.5 800.1,286.7 804.9,278.2 805.9,277.4 807.7,277.3 808.6,276.7 810.2,273.0 812.5,258.7 813.3,256.2 816.4,271.1 817.0,270.9 817.4,270.0 819.1,261.1 819.8,259.5 820.5,261.7 822.7,275.7 823.7,278.9 825.4,281.0 828.4,283.1 830.6,284.1 834.7,284.7 837.0,284.5 845.8,285.3 850.0,284.8 851.0,284.3 852.1,283.2 853.1,281.0 855.9,268.2 856.7,266.6 857.5,268.2 860.5,281.7 861.5,283.6 862.7,284.7 871.0,286.5 876.9,288.6 883.4,289.4 903.7,290.3L903.7,422.0L608.2,422.0Z" fill="#fff" stroke="none"/>
<path d="M608.2,290.1L612.2,290.2 613.8,290.0 614.4,290.2 615.8,289.8 616.6,290.1 618.1,289.9 620.1,290.3 624.8,289.9 626.3,290.2 628.4,289.9 630.8,290.2 631.8,290.0 633.3,290.3 634.1,289.9 638.5,290.2 640.0,289.8 641.0,290.0 648.7,289.7 651.5,289.9 655.2,289.6 656.0,289.4 657.9,289.5 659.4,289.2 660.9,289.4 662.4,288.9 663.5,289.1 665.0,288.6 667.3,288.2 667.9,287.8 669.6,287.3 670.8,286.5 672.3,284.7 673.5,281.2 674.2,277.0 675.6,261.4 676.9,234.3 679.3,166.1 679.9,155.4 680.5,151.7 681.0,154.7 681.6,164.7 684.6,239.2 685.6,254.2 686.8,264.2 687.5,267.7 688.4,270.6 689.7,273.7 692.6,279.0 695.2,282.5 697.0,284.0 698.5,284.8 700.6,286.7 701.8,288.5 705.1,296.8 706.8,303.0 707.0,303.0 707.2,302.6 708.5,298.8 711.9,292.7 715.1,288.8 716.6,287.5 720.6,280.7 722.5,278.9 724.3,279.3 725.7,280.2 726.3,280.3 727.9,281.5 731.9,283.1 736.3,283.9 739.5,283.4 740.9,283.0 742.5,283.0 744.1,282.0 745.1,282.2 746.7,281.7 748.9,281.4 749.8,282.0 750.5,283.4 753.1,291.0 754.5,293.6 755.5,293.9 756.2,293.7 758.0,292.9 760.6,291.1 762.0,290.8 763.2,291.5 766.3,295.6 767.8,297.0 768.7,298.9 769.2,301.2 770.7,313.9 771.1,312.5 772.2,303.2 772.8,301.1 773.2,300.5 774.9,299.9 777.7,296.3 778.9,295.4 779.3,295.7 780.0,298.3 781.1,310.1 781.5,312.1 781.9,309.7 783.0,297.3 783.3,295.4 783.9,293.6 784.5,293.0 785.8,292.3 794.8,289.5 800.1,286.7 801.5,284.8 803.5,280.5 804.9,278.2 805.9,277.4 807.7,277.3 808.6,276.7 809.3,275.6 810.2,273.0 812.5,258.7 812.9,256.9 813.3,256.2 813.9,257.8 815.5,268.1 816.4,271.1 816.8,271.2 817.0,270.9 817.4,270.0 819.1,261.1 819.5,259.8 819.8,259.5 820.5,261.7 822.7,275.7 823.7,278.9 824.1,279.7 825.4,281.0 828.4,283.1 830.6,284.1 834.7,284.7 837.0,284.5 838.5,284.9 840.0,284.8 841.1,285.1 844.4,285.0 845.8,285.3 850.0,284.8 851.0,284.3 852.1,283.2 853.1,281.0 854.4,275.8 855.9,268.2 856.2,267.1 856.7,266.6 857.1,267.1 857.5,268.2 859.3,277.1 860.5,281.7 861.5,283.6 862.7,284.7 863.4,285.0 864.9,285.0 866.9,285.7 871.0,286.5 874.4,287.9 876.3,288.3 876.9,288.6 881.7,289.0 883.4,289.4 885.8,289.5 886.7,289.3 889.4,289.7 892.9,289.8 893.6,290.0 896.5,289.9 899.6,290.3 901.0,290.1 903.7,290.3" fill="none" stroke="#111" stroke-width="1.80" stroke-linejoin="round"/>
<path d="M592.0,312.5L596.6,312.9 598.1,312.4 602.4,312.7 604.5,312.3 606.4,312.7 619.0,312.5 621.7,312.1 624.7,312.5 634.6,312.3 637.4,311.7 638.9,312.1 644.6,311.8 646.1,311.3 648.6,311.5 655.3,310.0 657.1,308.0 659.0,304.0 659.9,300.8 661.8,286.3 663.3,262.3 665.7,207.5 666.3,198.9 666.9,196.2 668.0,206.8 671.0,266.8 673.0,285.6 674.7,290.9 677.7,297.0 683.1,301.3 687.0,306.8 688.8,311.1 691.6,323.0 695.3,313.2 703.7,302.0 706.2,300.1 709.9,300.3 723.2,305.0 732.2,304.8 735.2,305.1 736.8,306.6 738.4,310.1 740.4,313.1 742.8,313.2 748.9,311.9 750.6,313.5 753.9,318.9 755.1,321.9 757.5,340.2 759.4,328.2 762.3,318.9 762.9,318.4 764.2,320.1 765.6,320.7 766.8,324.7 768.5,340.1 770.3,322.0 771.5,317.2 775.0,314.7 778.0,313.3 782.6,312.5 797.0,311.3 799.5,310.5 801.2,308.1 802.2,304.8 805.3,286.3 806.2,283.7 807.2,285.9 810.6,305.5 812.0,309.2 813.8,310.8 817.4,311.6 827.8,311.7 835.3,311.3 837.7,310.2 839.1,308.2 840.2,304.8 843.0,289.2 844.0,286.4 845.1,288.8 848.2,305.4 849.2,308.1 850.8,310.3 854.6,311.1 858.5,311.3 887.3,311.4L887.3,422.0L592.0,422.0Z" fill="#fff" stroke="none"/>
<path d="M592.0,312.5L592.9,312.6 594.2,312.4 596.6,312.9 598.1,312.4 599.4,312.7 600.1,312.5 602.4,312.7 604.5,312.3 606.4,312.7 607.7,312.4 610.7,312.4 615.2,312.5 617.5,312.3 619.0,312.5 619.7,312.3 621.1,312.4 621.7,312.1 624.7,312.5 627.1,312.5 629.4,312.1 630.7,312.4 632.7,312.1 634.6,312.3 635.9,312.2 637.4,311.7 638.9,312.1 642.6,311.7 644.6,311.8 646.1,311.3 648.6,311.5 651.1,310.7 652.6,310.8 655.3,310.0 657.1,308.0 659.0,304.0 659.9,300.8 661.0,294.1 661.8,286.3 663.3,262.3 665.7,207.5 666.3,198.9 666.6,196.8 666.9,196.2 667.4,198.6 668.0,206.8 671.0,266.8 671.9,277.8 673.0,285.6 673.7,288.3 674.7,290.9 677.7,297.0 678.7,298.1 679.6,298.5 681.1,299.9 683.1,301.3 687.0,306.8 688.8,311.1 691.1,321.8 691.6,323.0 692.0,322.4 693.3,317.7 695.3,313.2 698.7,308.3 703.7,302.0 706.2,300.1 709.9,300.3 711.4,301.1 715.0,302.0 720.8,304.4 721.6,304.4 723.2,305.0 727.1,304.8 728.6,305.0 730.0,304.8 730.5,305.0 732.2,304.8 733.7,305.2 735.2,305.1 736.0,305.6 736.8,306.6 738.4,310.1 740.4,313.1 740.9,313.3 742.8,313.2 744.3,312.7 744.6,312.8 748.9,311.9 749.8,312.3 750.6,313.5 753.9,318.9 755.1,321.9 755.9,326.4 757.0,337.4 757.5,340.2 758.0,338.5 759.4,328.2 760.9,323.9 762.3,318.9 762.6,318.4 762.9,318.4 764.2,320.1 765.6,320.7 766.3,322.1 766.8,324.7 768.0,337.6 768.5,340.1 768.9,337.9 770.3,322.0 770.8,319.1 771.5,317.2 775.0,314.7 778.0,313.3 780.2,312.8 781.1,312.9 782.6,312.5 783.9,312.6 786.5,312.1 790.2,312.0 792.4,311.5 793.6,311.7 796.4,311.2 797.0,311.3 798.6,311.0 799.5,310.5 801.2,308.1 802.2,304.8 803.4,298.6 805.3,286.3 805.8,284.4 806.2,283.7 806.7,284.2 807.2,285.9 809.3,299.2 810.6,305.5 811.3,307.8 812.0,309.2 813.8,310.8 817.4,311.6 818.7,311.4 820.2,311.8 821.6,311.5 823.3,311.8 825.5,311.5 827.8,311.7 829.3,311.4 832.6,311.5 834.1,311.1 835.3,311.3 837.7,310.2 839.1,308.2 840.2,304.8 843.0,289.2 843.5,287.3 844.0,286.4 844.4,286.7 845.1,288.8 848.2,305.4 849.2,308.1 850.8,310.3 851.7,310.7 854.6,311.1 858.5,311.3 860.0,311.2 861.4,311.4 863.0,311.1 866.9,311.4 868.4,311.1 872.6,311.5 874.1,311.2 875.5,311.4 878.4,311.3 881.9,311.5 884.0,311.2 887.3,311.4" fill="none" stroke="#111" stroke-width="1.80" stroke-linejoin="round"/>
<path d="M575.4,334.6L577.5,335.2 587.4,335.6 591.4,334.8 597.5,332.6 611.4,332.2 614.6,331.7 617.0,332.0 618.7,331.3 620.3,331.7 634.2,330.5 639.7,328.8 642.2,327.2 643.5,325.2 645.3,317.8 646.8,300.3 650.3,203.0 651.4,187.3 652.5,201.1 655.3,291.8 657.2,329.3 659.8,351.1 664.4,374.0 665.9,378.0 666.7,377.8 667.8,375.5 671.5,360.8 677.7,340.8 678.9,338.2 689.7,321.3 691.1,320.0 692.3,320.1 694.7,323.2 696.9,324.9 704.3,328.8 710.0,330.0 718.7,330.7 723.0,333.5 731.8,333.7 733.3,333.2 740.2,333.1 753.7,331.3 762.7,331.0 764.5,331.4 768.5,331.0 771.8,331.3 775.7,330.7 777.4,331.0 781.4,330.0 783.8,328.3 785.5,323.6 789.4,293.2 790.5,288.9 791.6,293.0 795.2,321.9 796.5,326.6 798.5,329.2 808.6,330.3 815.0,330.2 819.0,329.5 821.3,328.0 822.6,325.4 823.6,321.3 826.8,296.8 827.6,293.1 828.1,292.5 829.1,296.3 832.6,322.5 833.7,326.6 835.1,329.1 838.3,330.6 844.1,331.4 852.8,331.6 854.8,332.0 861.9,331.6 864.8,332.1 870.9,331.9L870.9,422.0L575.4,422.0Z" fill="#fff" stroke="none"/>
<path d="M575.4,334.6L577.5,335.2 581.6,335.4 583.5,335.7 585.3,335.4 587.4,335.6 591.4,334.8 596.1,333.0 597.5,332.6 598.4,332.7 599.9,332.4 601.2,332.6 604.1,332.2 605.9,332.4 610.0,332.0 611.4,332.2 612.2,331.9 613.7,332.0 614.6,331.7 617.0,332.0 618.7,331.3 620.3,331.7 626.7,331.1 628.5,331.2 629.5,330.9 634.2,330.5 638.1,329.5 639.7,328.8 642.2,327.2 643.5,325.2 644.6,321.8 645.3,317.8 646.0,311.6 646.8,300.3 648.0,273.5 650.3,203.0 650.9,191.2 651.4,187.3 651.9,190.0 652.5,201.1 655.3,291.8 656.1,311.1 657.2,329.3 658.4,341.8 659.8,351.1 664.4,374.0 665.5,377.6 665.9,378.0 666.7,377.8 667.8,375.5 671.5,360.8 676.3,344.4 677.7,340.8 678.9,338.2 683.1,332.1 689.7,321.3 691.1,320.0 691.8,319.9 692.3,320.1 694.7,323.2 696.9,324.9 699.1,326.2 699.5,326.2 702.4,328.0 704.3,328.8 707.0,329.4 708.5,329.5 710.0,330.0 710.6,329.8 714.6,330.3 715.5,330.2 718.7,330.7 719.9,331.3 722.1,333.2 723.0,333.5 725.7,333.6 727.7,333.3 729.1,333.6 730.6,333.5 731.8,333.7 733.3,333.2 735.6,333.4 737.3,333.1 740.2,333.1 741.7,332.8 743.3,332.8 745.1,332.3 746.1,332.3 749.2,331.6 753.7,331.3 756.2,331.5 756.8,331.3 758.3,331.4 760.6,331.0 762.7,331.0 764.5,331.4 765.6,331.1 767.0,331.3 768.5,331.0 771.8,331.3 772.8,331.0 774.3,331.0 775.7,330.7 777.4,331.0 781.4,330.0 782.9,329.3 783.8,328.3 784.7,326.3 785.5,323.6 786.9,315.0 789.4,293.2 789.9,290.3 790.5,288.9 791.0,289.7 791.6,293.0 794.1,315.0 795.2,321.9 796.5,326.6 797.2,327.8 798.5,329.2 799.1,329.5 802.5,329.9 807.4,330.0 808.6,330.3 810.4,330.3 811.3,330.1 815.0,330.2 819.0,329.5 820.6,328.7 821.3,328.0 822.6,325.4 823.6,321.3 826.8,296.8 827.6,293.1 828.1,292.5 828.6,293.6 829.1,296.3 831.6,316.5 832.6,322.5 833.7,326.6 834.3,328.1 835.1,329.1 838.3,330.6 839.8,330.5 844.1,331.4 845.3,331.2 848.7,331.6 852.8,331.6 854.8,332.0 855.6,331.8 857.5,332.0 861.9,331.6 864.8,332.1 870.9,331.9" fill="none" stroke="#111" stroke-width="1.80" stroke-linejoin="round"/>
<path d="M559.8,355.2L565.4,357.0 567.8,356.8 569.3,357.3 571.9,357.1 574.9,355.4 590.0,354.5 596.4,354.8 599.3,354.3 607.8,354.2 622.3,351.7 625.4,350.2 628.1,348.1 629.5,345.4 630.3,342.4 631.9,329.9 635.4,265.1 636.5,254.6 637.1,257.2 637.7,265.4 640.2,319.9 641.7,342.4 643.3,354.9 645.9,365.0 648.4,379.0 650.6,407.0 652.4,380.1 653.8,370.2 657.5,363.7 661.8,352.5 666.8,346.2 670.6,342.5 674.4,340.3 676.9,340.2 679.2,341.6 682.5,346.0 684.6,347.9 689.4,349.8 699.3,351.5 702.6,351.1 704.1,351.5 711.4,351.3 714.4,350.8 716.7,351.2 720.4,350.7 722.3,349.8 728.7,350.5 734.4,349.9 746.2,349.9 748.3,349.4 749.8,349.8 758.0,349.7 764.9,348.8 768.1,346.5 769.6,342.6 771.2,334.2 774.1,311.1 775.2,307.8 776.4,311.9 780.5,342.1 782.3,347.5 784.4,349.5 790.4,351.1 796.5,351.5 802.7,351.2 805.4,350.3 807.3,346.9 808.3,343.2 812.0,316.2 813.3,311.6 814.5,315.6 818.0,341.7 819.6,348.1 821.2,350.8 823.1,351.9 828.0,352.9 854.7,354.9L854.7,422.0L559.8,422.0Z" fill="#fff" stroke="none"/>
<path d="M559.8,355.2L565.4,357.0 567.8,356.8 569.3,357.3 569.8,357.1 571.9,357.1 573.0,356.6 574.9,355.4 579.5,355.2 580.0,355.3 581.7,354.9 583.9,355.0 590.0,354.5 592.3,354.8 593.3,354.6 594.5,354.8 595.6,354.7 596.4,354.8 599.3,354.3 602.7,354.5 605.3,354.2 607.8,354.2 609.3,353.7 611.5,353.7 613.2,353.2 618.5,352.6 622.3,351.7 625.4,350.2 628.1,348.1 629.5,345.4 630.3,342.4 631.1,337.6 631.9,329.9 633.2,310.0 635.4,265.1 636.0,257.3 636.5,254.6 636.8,255.2 637.1,257.2 637.7,265.4 640.2,319.9 641.7,342.4 643.3,354.9 645.9,365.0 648.4,379.0 649.2,387.3 650.2,403.9 650.6,407.0 651.0,403.8 652.4,380.1 653.1,373.9 653.8,370.2 655.3,366.9 657.5,363.7 660.7,354.9 661.8,352.5 664.2,349.2 666.8,346.2 670.6,342.5 672.6,341.2 674.4,340.3 676.2,340.1 676.9,340.2 678.2,340.8 679.2,341.6 680.6,343.0 682.5,346.0 683.5,347.1 684.6,347.9 689.4,349.8 689.9,349.7 690.5,350.0 692.1,350.1 694.5,350.8 697.0,350.9 699.3,351.5 701.5,351.4 702.6,351.1 704.1,351.5 705.6,351.5 707.1,351.2 707.4,351.4 708.6,351.3 709.4,351.1 711.4,351.3 714.4,350.8 715.9,351.2 716.7,351.2 720.4,350.7 722.3,349.8 724.9,350.4 727.6,350.3 728.7,350.5 732.8,350.2 734.4,349.9 736.1,350.0 737.8,349.8 739.6,350.0 741.1,349.7 742.3,350.0 745.2,349.6 746.2,349.9 748.3,349.4 749.8,349.8 751.5,349.7 752.0,349.8 753.4,349.5 758.0,349.7 764.9,348.8 766.9,347.7 768.1,346.5 768.8,345.1 769.6,342.6 771.2,334.2 774.1,311.1 774.6,308.8 775.2,307.8 775.8,308.9 776.4,311.9 779.0,333.2 780.5,342.1 781.4,345.4 782.3,347.5 783.1,348.5 784.4,349.5 790.4,351.1 791.9,350.9 793.5,351.3 796.5,351.5 802.7,351.2 804.4,350.9 805.4,350.3 806.4,348.8 807.3,346.9 808.3,343.2 809.7,334.6 812.0,316.2 812.7,312.7 813.3,311.6 813.9,312.6 814.5,315.6 816.9,334.7 818.0,341.7 819.6,348.1 820.2,349.5 821.2,350.8 823.1,351.9 825.3,352.4 827.0,352.5 828.0,352.9 832.8,353.0 834.0,353.4 837.4,353.7 838.9,353.5 840.5,353.9 842.5,353.8 844.0,354.2 844.9,353.9 846.7,354.5 849.6,354.4 852.0,354.8 854.7,354.9" fill="none" stroke="#111" stroke-width="1.80" stroke-linejoin="round"/>
<line x1="560.0" y1="425.0" x2="854.7" y2="425.0" stroke="#333" stroke-width="1.60"/>
<line x1="560.0" y1="425.0" x2="560.0" y2="431.3" stroke="#333" stroke-width="1.30"/>
<line x1="592.7" y1="425.0" x2="592.7" y2="431.3" stroke="#333" stroke-width="1.30"/>
<line x1="625.5" y1="425.0" x2="625.5" y2="431.3" stroke="#333" stroke-width="1.30"/>
<line x1="658.2" y1="425.0" x2="658.2" y2="431.3" stroke="#333" stroke-width="1.30"/>
<line x1="691.0" y1="425.0" x2="691.0" y2="431.3" stroke="#333" stroke-width="1.30"/>
<line x1="723.7" y1="425.0" x2="723.7" y2="431.3" stroke="#333" stroke-width="1.30"/>
<line x1="756.4" y1="425.0" x2="756.4" y2="431.3" stroke="#333" stroke-width="1.30"/>
<line x1="789.2" y1="425.0" x2="789.2" y2="431.3" stroke="#333" stroke-width="1.30"/>
<line x1="821.9" y1="425.0" x2="821.9" y2="431.3" stroke="#333" stroke-width="1.30"/>
<line x1="854.7" y1="425.0" x2="854.7" y2="431.3" stroke="#333" stroke-width="1.30"/>
<line x1="576.4" y1="425.0" x2="576.4" y2="428.8" stroke="#333" stroke-width="1.20"/>
<line x1="609.1" y1="425.0" x2="609.1" y2="428.8" stroke="#333" stroke-width="1.20"/>
<line x1="641.9" y1="425.0" x2="641.9" y2="428.8" stroke="#333" stroke-width="1.20"/>
<line x1="674.6" y1="425.0" x2="674.6" y2="428.8" stroke="#333" stroke-width="1.20"/>
<line x1="707.3" y1="425.0" x2="707.3" y2="428.8" stroke="#333" stroke-width="1.20"/>
<line x1="740.1" y1="425.0" x2="740.1" y2="428.8" stroke="#333" stroke-width="1.20"/>
<line x1="772.8" y1="425.0" x2="772.8" y2="428.8" stroke="#333" stroke-width="1.20"/>
<line x1="805.5" y1="425.0" x2="805.5" y2="428.8" stroke="#333" stroke-width="1.20"/>
<line x1="838.3" y1="425.0" x2="838.3" y2="428.8" stroke="#333" stroke-width="1.20"/>
<text x="561.0" y="446.5" font-family="Liberation Sans" font-size="16.0" font-weight="normal" font-style="normal" text-anchor="middle" fill="#222">1.8</text>
<text x="658.0" y="446.5" font-family="Liberation Sans" font-size="16.0" font-weight="normal" font-style="normal" text-anchor="middle" fill="#222">1.5</text>
<text x="756.3" y="446.5" font-family="Liberation Sans" font-size="16.0" font-weight="normal" font-style="normal" text-anchor="middle" fill="#222">1.2</text>
<text x="859.0" y="446.5" font-family="Liberation Sans" font-size="16.0" font-weight="normal" font-style="normal" text-anchor="middle" fill="#222">0.9</text>
<text x="696.0" y="467.5" font-family="Liberation Sans" font-size="18.0" font-weight="normal" font-style="normal" text-anchor="middle" fill="#222">ppm</text>
<text x="846.0" y="373.0" font-family="Liberation Sans" font-size="16.0" font-weight="normal" font-style="normal" text-anchor="start" fill="#222">31 s</text>
<text x="856.6" y="350.5" font-family="Liberation Sans" font-size="16.0" font-weight="normal" font-style="normal" text-anchor="start" fill="#222">48 s</text>
<text x="873.0" y="328.0" font-family="Liberation Sans" font-size="16.0" font-weight="normal" font-style="normal" text-anchor="start" fill="#222">59 s</text>
<text x="886.4" y="305.5" font-family="Liberation Sans" font-size="16.0" font-weight="normal" font-style="normal" text-anchor="start" fill="#222">81 s</text>
<text x="897.7" y="284.0" font-family="Liberation Sans" font-size="16.0" font-weight="normal" font-style="normal" text-anchor="start" fill="#222">92 s</text>
<text x="906.0" y="262.0" font-family="Liberation Sans" font-size="16.0" font-weight="normal" font-style="normal" text-anchor="start" fill="#222">115 s</text>
<text x="918.0" y="240.0" font-family="Liberation Sans" font-size="16.0" font-weight="normal" font-style="normal" text-anchor="start" fill="#222">195 s</text>
<text x="934.6" y="218.0" font-family="Liberation Sans" font-size="16.0" font-weight="normal" font-style="normal" text-anchor="start" fill="#222">295 s</text>
<text x="945.0" y="197.0" font-family="Liberation Sans" font-size="16.0" font-weight="normal" font-style="normal" text-anchor="start" fill="#222">1160 s</text>
<text x="965.0" y="175.5" font-family="Liberation Sans" font-size="16.0" font-weight="normal" font-style="normal" text-anchor="start" fill="#222">2450 s</text>
<text x="672.5" y="138.0" font-family="Liberation Serif" font-size="13.5" font-weight="bold" font-style="normal" text-anchor="start" fill="#111">1a</text>
<text x="843.5" y="119.5" font-family="Liberation Serif" font-size="13.0" font-weight="bold" font-style="normal" text-anchor="start" fill="#111">aH</text>
<text x="909.0" y="104.8" font-family="Liberation Serif" font-size="14.0" font-weight="bold" font-style="normal" text-anchor="start" fill="#111">1H</text>
<text x="765.0" y="289.5" font-family="Liberation Serif" font-size="13.0" font-weight="bold" font-style="normal" text-anchor="start" fill="#111">aH</text>
<text x="767.8" y="370.0" font-family="Liberation Serif" font-size="13.5" font-weight="bold" font-style="normal" text-anchor="start" fill="#111">1a</text>
<text x="810.8" y="370.0" font-family="Liberation Serif" font-size="13.5" font-weight="bold" font-style="normal" text-anchor="start" fill="#111">1a</text>
<text x="631.7" y="368.5" font-family="Liberation Serif" font-size="13.5" font-weight="bold" font-style="normal" text-anchor="start" fill="#111">1a</text>
<text x="644.3" y="419.5" font-family="Liberation Serif" font-size="13.0" font-weight="bold" font-style="normal" text-anchor="start" fill="#111">aa</text>
<line x1="852.5" y1="125.6" x2="866.3" y2="136.3" stroke="#222" stroke-width="0.90"/>
<path d="M869.5,138.8L864.3,137.3L866.8,134.2Z" fill="#222"/>
<text x="572.0" y="522.5" font-family="Liberation Sans" font-size="20.0" font-weight="normal" font-style="normal" text-anchor="start" fill="#222">(d)</text>
<path d="M657.2,591.0L662.1,591.2 663.8,590.7 665.5,591.2 668.5,590.8 669.8,591.3 670.9,590.8 675.5,590.7 677.0,591.1 679.7,590.7 680.5,591.0 683.1,590.4 699.1,590.7 706.2,590.1 707.7,590.6 716.9,589.9 724.0,590.1 725.4,589.7 726.6,590.1 727.5,589.6 732.1,589.9 733.2,589.5 746.3,589.1 747.3,589.5 752.1,589.0 755.1,589.4 756.6,588.8 759.5,589.3 763.1,588.7 767.9,588.8 771.4,587.8 776.3,589.2 786.4,589.9 789.2,588.2 790.9,585.0 794.0,567.1 794.8,564.8 795.8,567.2 799.1,585.3 800.4,587.5 802.7,588.7 812.2,589.6 816.8,589.3 822.9,589.6 827.1,589.2 828.6,589.7 831.3,589.2 834.1,589.6 850.1,589.5 852.5,586.8 853.5,587.2 857.7,586.7 866.7,586.9 868.6,586.5 870.1,586.6 872.1,588.7 873.4,589.1 879.5,588.5 883.9,586.5 885.0,584.2 885.8,580.9 887.2,568.3 889.5,533.1 890.3,528.0 891.3,535.3 893.9,573.4 895.1,581.1 896.5,584.4 898.3,585.7 900.7,585.2 901.8,583.9 903.1,579.5 904.4,568.5 906.7,535.2 907.5,530.6 908.4,536.4 911.2,574.9 912.3,582.0 913.6,585.3 916.1,586.6 919.9,587.5 922.4,587.3 924.2,587.8 925.8,587.6 951.7,589.3L951.7,856.0L657.2,856.0Z" fill="#fff" stroke="none"/>
<path d="M657.2,591.0L659.6,591.2 660.9,591.0 662.1,591.2 663.8,590.7 665.5,591.2 666.1,591.0 667.6,591.1 668.5,590.8 669.8,591.3 670.9,590.8 672.7,591.1 675.5,590.7 677.0,591.1 679.7,590.7 680.5,591.0 683.1,590.4 684.1,590.7 685.1,590.5 686.9,590.7 688.4,590.5 689.4,590.5 690.2,590.8 691.7,590.5 694.9,590.7 695.4,590.5 696.9,590.7 697.6,590.4 699.1,590.7 702.6,590.3 704.4,590.5 706.2,590.1 707.1,590.2 707.7,590.6 709.4,590.2 712.8,590.4 713.3,590.1 716.9,589.9 719.2,590.1 721.1,589.8 724.0,590.1 725.4,589.7 726.6,590.1 727.5,589.6 730.0,589.9 731.4,589.7 732.1,589.9 733.2,589.5 736.5,589.6 737.7,589.3 741.0,589.5 742.6,589.2 743.0,589.4 744.1,589.5 746.3,589.1 747.3,589.5 748.8,589.1 750.3,589.3 752.1,589.0 755.1,589.4 756.6,588.8 759.5,589.3 759.9,589.1 761.3,589.1 763.1,588.7 764.3,588.8 764.6,589.0 767.9,588.8 771.4,587.8 774.3,588.8 774.9,588.8 775.3,589.1 776.3,589.2 778.4,589.2 779.3,589.5 780.3,589.4 781.9,589.7 784.5,589.5 785.3,589.9 786.4,589.9 787.5,589.4 789.2,588.2 790.1,587.0 790.9,585.0 792.1,579.2 794.0,567.1 794.4,565.5 794.8,564.8 795.3,565.4 795.8,567.2 797.9,580.0 799.1,585.3 799.8,586.9 800.4,587.5 802.7,588.7 803.3,588.7 805.0,589.2 805.7,589.0 807.1,589.4 809.7,589.1 812.2,589.6 816.8,589.3 818.0,589.7 821.4,589.3 822.9,589.6 824.0,589.4 827.1,589.2 828.6,589.7 829.9,589.3 831.3,589.2 834.1,589.6 835.3,589.4 835.8,589.6 841.1,589.6 841.8,589.3 843.8,589.6 845.2,589.2 845.9,589.5 847.5,589.3 850.1,589.5 850.9,588.8 852.0,587.0 852.5,586.8 853.5,587.2 854.6,586.9 856.2,587.1 857.7,586.7 858.6,587.0 860.0,586.7 862.0,586.9 863.4,586.7 866.7,586.9 868.6,586.5 870.1,586.6 872.1,588.7 873.4,589.1 876.3,588.5 879.5,588.5 880.7,588.0 881.6,587.9 883.4,586.9 883.9,586.5 885.0,584.2 885.8,580.9 887.2,568.3 889.5,533.1 889.9,529.4 890.3,528.0 890.7,529.2 891.3,535.3 892.9,561.1 893.9,573.4 895.1,581.1 895.8,583.2 896.5,584.4 897.3,585.2 898.3,585.7 900.7,585.2 901.8,583.9 902.5,582.1 903.1,579.5 904.4,568.5 906.7,535.2 907.1,531.7 907.5,530.6 907.9,531.7 908.4,536.4 910.2,563.6 911.2,574.9 912.3,582.0 913.6,585.3 914.2,585.8 916.1,586.6 919.9,587.5 922.4,587.3 924.2,587.8 925.8,587.6 927.3,587.8 928.2,587.8 928.5,588.0 929.4,587.8 931.1,588.2 935.8,588.1 937.3,588.6 939.4,588.3 941.6,588.8 943.8,588.5 945.3,588.9 946.8,588.8 947.8,589.2 950.0,589.4 951.7,589.3" fill="none" stroke="#111" stroke-width="1.80" stroke-linejoin="round"/>
<path d="M645.0,618.9L713.3,619.0 720.3,618.7 722.0,618.2 726.3,618.5 743.8,617.4 748.4,617.8 749.8,617.3 752.0,617.5 755.9,616.2 759.5,617.4 771.9,617.8 773.4,617.5 780.9,617.8 782.8,617.5 788.5,618.1 790.7,617.7 797.3,618.2 798.8,617.8 801.9,618.2 805.5,617.8 807.4,618.3 810.6,617.7 815.3,618.1 820.6,617.6 823.3,615.7 824.5,613.4 826.8,606.2 827.5,605.5 828.8,606.9 831.1,612.4 833.2,614.2 852.3,614.3 856.2,613.8 860.6,614.5 864.7,614.4 869.4,613.0 871.4,608.6 872.7,600.9 875.1,575.4 875.9,571.9 876.8,576.0 879.7,603.9 880.9,608.6 882.3,610.2 884.2,610.6 886.7,610.5 887.6,609.5 888.6,607.0 889.9,599.9 892.2,576.6 893.1,572.7 894.0,576.8 896.8,603.6 897.8,608.1 899.4,611.1 905.4,612.6 909.6,612.5 918.5,614.0 926.5,614.6 938.8,617.2L938.8,856.0L645.0,856.0Z" fill="#fff" stroke="none"/>
<path d="M645.0,618.9L647.8,619.2 650.6,618.8 652.0,619.2 654.5,618.7 656.0,619.1 659.9,618.8 660.9,619.1 662.4,618.8 664.1,619.3 667.5,618.8 670.2,619.2 672.8,618.8 674.0,619.2 675.6,618.8 679.7,619.3 681.2,618.8 682.9,619.1 683.4,619.0 686.2,619.1 687.6,618.8 689.1,619.1 690.7,619.0 691.2,619.2 691.5,619.0 693.7,618.9 694.0,619.1 694.7,619.0 695.1,619.2 698.1,618.7 699.6,619.0 700.5,618.8 700.7,619.0 702.7,618.9 705.6,619.0 706.2,618.7 707.7,619.2 709.2,618.9 710.4,619.0 711.8,618.8 713.3,619.0 714.2,618.7 715.9,618.8 716.3,618.6 717.8,618.8 720.3,618.7 722.0,618.2 723.6,618.5 724.9,618.2 726.3,618.5 728.3,618.1 732.1,618.1 733.6,617.8 734.8,617.8 736.3,618.1 737.8,617.7 738.6,617.9 739.5,617.7 742.5,617.7 743.8,617.4 746.2,617.8 747.1,617.6 748.4,617.8 749.8,617.3 752.0,617.5 755.9,616.2 758.2,616.7 758.8,617.3 759.5,617.4 760.4,617.2 761.9,617.4 764.4,617.3 766.3,617.6 769.7,617.5 770.2,617.7 771.7,617.6 771.9,617.8 773.1,617.8 773.4,617.5 775.0,617.7 776.1,617.6 777.0,617.9 778.6,617.7 780.9,617.8 782.8,617.5 786.5,618.0 787.0,617.8 788.0,617.9 788.5,618.1 790.7,617.7 792.8,618.1 795.0,617.8 797.3,618.2 798.8,617.8 800.3,617.8 801.9,618.2 805.5,617.8 807.4,618.3 810.6,617.7 811.4,618.0 813.9,617.8 815.3,618.1 817.8,617.6 818.4,617.8 820.6,617.6 822.5,616.5 823.3,615.7 824.5,613.4 826.8,606.2 827.5,605.5 828.1,605.7 828.8,606.9 831.1,612.4 832.4,613.8 833.2,614.2 840.0,614.1 843.7,614.4 845.6,614.0 846.0,614.2 847.9,614.0 848.3,614.2 852.3,614.3 856.2,613.8 857.7,614.2 859.2,614.1 860.6,614.5 862.1,614.4 862.9,614.6 864.7,614.4 866.8,613.9 867.5,613.4 869.0,613.3 869.4,613.0 870.7,610.7 871.4,608.6 872.7,600.9 875.1,575.4 875.6,572.4 875.9,571.9 876.3,572.8 876.8,576.0 878.6,595.3 879.7,603.9 880.9,608.6 881.4,609.4 882.3,610.2 884.2,610.6 886.7,610.5 887.6,609.5 888.6,607.0 889.9,599.9 892.2,576.6 892.6,574.0 893.1,572.7 893.5,573.6 894.0,576.8 895.8,595.7 896.8,603.6 897.8,608.1 898.7,610.1 899.4,611.1 900.6,611.6 902.1,611.7 905.4,612.6 906.9,612.4 908.0,612.7 909.6,612.5 910.6,613.0 913.6,613.1 915.2,613.6 916.9,613.5 918.5,614.0 919.4,613.9 922.9,614.5 926.5,614.6 927.7,615.2 932.8,615.7 936.0,616.8 937.3,616.7 938.8,617.2" fill="none" stroke="#111" stroke-width="1.80" stroke-linejoin="round"/>
<path d="M631.2,647.2L645.9,647.2 649.5,647.6 651.3,647.3 653.4,647.6 654.8,647.1 656.3,647.6 660.3,647.3 662.9,647.7 664.5,647.3 668.6,647.7 669.5,647.3 676.1,647.7 681.0,647.3 683.4,647.7 684.9,647.3 696.0,647.6 697.8,647.2 699.3,647.7 701.2,647.2 706.9,647.6 714.1,646.9 715.5,647.4 720.1,646.6 730.9,646.5 733.1,646.0 741.5,646.1 746.2,645.6 747.7,645.0 750.0,645.2 752.3,644.8 757.6,645.6 761.5,645.1 765.1,645.9 769.9,645.8 773.2,646.4 774.9,646.0 776.5,646.6 778.0,646.2 784.9,646.4 789.7,645.7 793.4,645.7 808.6,643.0 811.4,641.3 813.5,637.1 816.2,624.1 817.3,622.0 818.0,623.0 821.3,636.3 821.9,637.7 823.5,639.1 838.8,642.1 844.8,643.8 852.1,644.2 857.1,643.7 859.6,642.4 860.9,638.9 862.3,630.4 864.2,613.0 865.0,610.3 866.0,614.4 868.6,636.5 869.6,640.6 871.2,643.0 873.4,643.9 875.7,643.8 878.0,640.7 879.3,634.7 881.5,616.0 882.5,611.8 883.4,615.2 886.4,638.9 887.6,643.0 888.8,644.3 889.8,644.8 898.7,645.7 899.7,645.5 908.6,646.1 912.2,645.8 914.8,646.2 918.3,645.7 922.4,646.2 926.6,646.0L926.6,856.0L631.2,856.0Z" fill="#fff" stroke="none"/>
<path d="M631.2,647.2L635.3,647.4 641.1,647.2 643.1,647.5 645.5,647.5 645.9,647.2 649.5,647.6 650.5,647.4 650.8,647.6 651.3,647.3 653.4,647.6 654.8,647.1 656.3,647.6 656.8,647.4 658.3,647.6 660.3,647.3 662.9,647.7 664.5,647.3 668.6,647.7 669.5,647.3 671.2,647.6 671.7,647.3 673.2,647.6 674.7,647.3 676.1,647.7 677.6,647.4 678.6,647.7 679.8,647.7 681.0,647.3 683.4,647.7 684.9,647.3 686.0,647.6 688.8,647.3 693.6,647.6 695.2,647.4 696.0,647.6 697.8,647.2 699.3,647.7 700.2,647.3 701.2,647.2 701.8,647.5 702.9,647.2 704.2,647.5 705.7,647.3 705.9,647.5 706.9,647.6 710.6,647.2 711.5,647.3 714.1,646.9 715.5,647.4 717.6,646.8 720.1,646.6 722.2,646.9 723.6,646.7 725.1,646.8 725.5,646.5 726.1,646.4 727.4,646.6 729.3,646.3 730.9,646.5 733.1,646.0 734.7,646.3 735.6,646.1 737.0,646.2 739.9,645.9 740.7,646.2 741.5,646.1 743.7,645.6 744.5,645.7 744.8,645.5 746.2,645.6 747.7,645.0 749.0,644.9 750.0,645.2 752.3,644.8 753.8,645.3 755.6,645.4 756.2,645.3 757.6,645.6 761.5,645.1 763.0,645.5 763.9,645.4 765.1,645.9 765.8,645.7 768.5,646.0 769.9,645.8 773.2,646.4 774.9,646.0 776.5,646.6 778.0,646.2 779.4,646.5 780.6,646.2 781.7,646.5 782.9,646.2 784.9,646.4 786.1,646.1 788.9,646.0 789.7,645.7 791.3,645.9 793.4,645.7 794.9,645.2 797.5,645.0 800.9,644.2 801.4,644.3 804.5,643.6 806.3,643.5 807.7,643.0 808.6,643.0 811.4,641.3 812.7,639.3 813.5,637.1 816.2,624.1 816.6,622.8 817.3,622.0 818.0,623.0 819.9,631.4 821.3,636.3 821.9,637.7 823.5,639.1 824.2,639.4 825.3,639.3 828.4,640.2 829.5,640.2 832.4,641.0 833.4,640.9 835.9,641.8 838.8,642.1 840.2,642.8 841.6,642.9 844.8,643.8 846.2,643.7 847.1,644.0 848.9,643.9 849.5,644.1 850.1,643.9 852.1,644.2 853.2,643.9 857.1,643.7 858.2,643.3 859.6,642.4 860.1,641.7 860.9,638.9 862.3,630.4 864.2,613.0 864.7,610.7 865.0,610.3 865.4,611.1 866.0,614.4 867.6,629.5 868.6,636.5 869.6,640.6 870.6,642.5 871.2,643.0 873.4,643.9 875.7,643.8 876.2,643.5 877.3,642.1 878.0,640.7 879.3,634.7 881.5,616.0 882.0,613.0 882.5,611.8 882.8,612.2 883.4,615.2 885.2,631.3 886.4,638.9 887.6,643.0 888.8,644.3 889.8,644.8 892.1,644.9 893.5,645.4 895.4,645.5 896.9,645.3 898.7,645.7 899.7,645.5 901.1,645.8 904.1,645.6 905.1,645.9 907.1,645.7 908.6,646.1 912.2,645.8 914.8,646.2 915.2,646.0 917.4,646.1 918.3,645.7 919.7,646.1 920.6,645.9 922.4,646.2 924.1,645.9 925.6,646.2 926.6,646.0" fill="none" stroke="#111" stroke-width="1.80" stroke-linejoin="round"/>
<path d="M619.4,675.7L626.4,675.8 631.2,675.4 633.1,675.8 644.9,675.9 662.2,675.4 665.5,675.9 677.1,675.4 678.6,675.8 681.7,675.4 686.4,676.0 693.4,675.4 696.7,676.0 700.8,675.5 703.9,676.3 706.9,677.9 710.2,676.1 712.9,675.3 726.7,674.8 728.2,674.3 733.5,674.5 742.1,673.3 744.9,673.3 746.4,672.4 748.5,672.0 749.7,671.1 750.8,669.3 753.3,661.5 754.2,660.3 757.2,669.0 758.1,670.8 759.7,672.4 765.7,674.5 770.6,674.9 773.8,674.1 777.0,672.4 786.1,663.6 792.5,656.0 794.7,652.7 795.6,650.5 797.9,636.9 800.8,598.8 801.4,593.4 802.0,591.7 803.0,597.9 806.4,640.3 808.3,654.3 810.2,660.6 815.1,665.8 817.8,666.9 819.6,668.2 825.9,670.7 832.9,672.3 834.5,673.1 843.2,674.4 845.7,675.5 847.0,676.9 849.7,684.3 852.5,678.0 853.6,676.7 858.9,676.2 862.4,676.7 863.5,677.3 864.4,678.9 867.0,686.4 867.6,685.6 869.9,677.6 872.1,675.8 875.2,676.0 876.7,675.4 890.4,675.1 892.6,675.5 894.8,674.8 899.5,675.2 901.0,674.9 913.3,675.1L913.3,856.0L619.4,856.0Z" fill="#fff" stroke="none"/>
<path d="M619.4,675.7L622.3,675.5 626.4,675.8 628.8,675.4 630.3,675.7 631.2,675.4 633.1,675.8 634.1,675.6 635.3,675.9 635.9,675.6 637.4,675.9 639.6,675.6 642.5,675.9 644.0,675.7 644.9,675.9 646.2,675.6 648.2,675.9 651.0,675.6 652.5,675.9 654.9,675.7 656.1,675.8 657.4,675.5 660.6,675.8 662.2,675.4 663.2,675.7 664.4,675.6 665.5,675.9 668.4,675.6 669.2,675.8 670.7,675.5 673.9,675.7 674.1,675.5 677.1,675.4 678.6,675.8 681.7,675.4 682.9,675.8 684.4,675.6 686.4,676.0 688.0,675.6 689.9,675.7 691.4,675.4 692.9,675.6 693.4,675.4 694.8,675.8 696.2,675.7 696.7,676.0 698.8,675.6 700.8,675.5 703.9,676.3 706.0,677.7 706.9,677.9 708.1,677.5 710.2,676.1 712.1,675.7 712.9,675.3 718.8,675.2 721.8,674.8 723.5,675.0 724.4,674.6 726.7,674.8 728.2,674.3 730.3,674.5 730.7,674.3 731.1,674.5 731.9,674.2 733.5,674.5 735.3,674.0 739.1,673.9 742.1,673.3 742.5,673.4 744.9,673.3 746.4,672.4 748.5,672.0 749.7,671.1 750.8,669.3 753.3,661.5 753.7,660.6 754.2,660.3 755.0,661.8 757.2,669.0 758.1,670.8 759.7,672.4 761.2,672.7 764.2,674.2 765.7,674.5 767.2,674.4 768.1,674.7 769.0,674.6 770.6,674.9 773.8,674.1 775.5,672.9 777.0,672.4 777.9,671.3 781.5,668.4 784.6,664.9 786.1,663.6 787.5,661.6 788.5,660.8 792.5,656.0 794.7,652.7 795.6,650.5 796.7,645.8 797.9,636.9 800.8,598.8 801.4,593.4 801.7,592.1 802.0,591.7 802.4,593.0 803.0,597.9 806.4,640.3 808.3,654.3 809.2,658.3 810.2,660.6 812.6,663.5 814.1,664.7 815.1,665.8 817.8,666.9 819.6,668.2 821.8,669.1 822.7,669.2 825.9,670.7 829.3,671.4 830.5,672.0 831.7,672.0 832.4,672.4 832.9,672.3 834.5,673.1 838.6,673.6 839.4,674.0 841.3,674.2 841.8,674.5 843.2,674.4 845.7,675.5 847.0,676.9 849.2,683.4 849.7,684.3 850.4,683.4 852.5,678.0 853.6,676.7 854.6,676.4 857.6,676.4 858.9,676.2 861.1,676.7 862.4,676.7 863.5,677.3 864.4,678.9 866.3,685.2 866.7,686.2 867.0,686.4 867.6,685.6 869.9,677.6 871.0,676.3 872.1,675.8 875.2,676.0 876.7,675.4 878.2,675.6 878.9,675.4 879.3,675.6 880.1,675.3 880.4,675.5 880.8,675.3 883.3,675.4 885.1,675.2 886.1,675.4 886.9,675.2 889.9,675.2 890.4,675.1 892.6,675.5 893.3,675.5 894.8,674.8 895.5,675.1 896.8,675.0 897.5,675.2 898.9,675.0 899.5,675.2 901.0,674.9 902.5,675.2 906.0,675.0 908.1,675.2 909.6,674.8 910.6,675.1 913.3,675.1" fill="none" stroke="#111" stroke-width="1.80" stroke-linejoin="round"/>
<path d="M606.2,704.4L617.3,704.1 620.3,704.6 621.6,704.1 624.0,704.5 625.3,704.0 627.7,704.4 638.3,703.9 639.8,704.4 643.2,703.9 650.5,704.3 654.3,703.7 661.2,704.2 662.7,703.8 678.5,704.0 680.2,703.4 683.6,703.9 686.7,703.7 689.7,704.9 692.6,709.0 693.8,709.6 696.9,705.0 699.4,703.6 702.9,703.1 709.5,703.4 718.6,702.9 733.6,703.8 735.8,702.9 737.3,701.1 739.5,695.6 740.4,694.4 741.3,695.4 744.2,701.5 745.0,702.3 747.0,702.8 753.1,702.6 755.4,703.1 757.4,702.7 760.4,703.1 766.3,702.3 767.8,702.6 777.1,700.9 778.3,700.0 780.3,697.6 781.6,691.9 782.8,679.8 784.6,651.1 785.0,648.9 785.8,649.7 786.1,646.7 787.8,551.0 788.6,532.3 789.5,547.6 791.9,625.8 793.5,655.3 795.8,673.9 798.8,684.1 800.6,688.2 803.6,692.4 808.9,697.1 824.6,701.9 827.9,704.3 830.1,706.8 830.9,708.6 831.8,713.5 833.8,736.1 834.5,740.0 835.2,736.7 837.3,715.8 838.1,712.6 839.5,710.7 847.3,711.6 848.5,712.5 849.4,714.0 850.5,719.3 852.3,736.8 853.0,739.9 853.6,737.6 855.8,717.0 856.7,713.4 857.9,711.7 859.2,711.3 867.0,705.8 869.4,705.1 879.7,705.0 881.3,704.5 883.1,705.1 888.3,704.3 892.2,704.7 893.9,704.2 900.6,704.5L900.6,856.0L606.2,856.0Z" fill="#fff" stroke="none"/>
<path d="M606.2,704.4L608.9,704.2 610.3,704.5 611.4,704.2 615.8,704.4 616.3,704.1 617.3,704.1 617.8,704.3 619.2,704.3 620.3,704.6 621.6,704.1 624.0,704.5 625.3,704.0 627.7,704.4 629.7,704.1 632.9,704.1 633.5,704.2 634.9,704.0 636.3,704.2 638.3,703.9 639.1,704.0 639.8,704.4 641.1,704.0 642.6,704.2 643.2,703.9 643.6,704.1 644.1,703.9 644.7,704.3 645.0,704.0 647.0,704.2 648.5,704.0 650.5,704.3 652.0,703.8 652.8,704.0 654.3,703.7 655.6,704.0 658.3,703.8 661.2,704.2 662.7,703.8 664.3,704.0 666.3,703.7 668.4,704.0 670.3,703.7 671.6,704.0 673.1,703.9 673.6,704.0 676.3,703.7 678.5,704.0 679.2,703.5 680.2,703.4 680.7,703.7 683.2,703.7 683.6,703.9 686.7,703.7 687.1,704.0 688.6,704.2 689.7,704.9 690.6,705.9 692.6,709.0 693.2,709.5 693.8,709.6 694.8,708.6 696.1,706.1 696.9,705.0 697.7,704.4 699.4,703.6 701.0,703.6 702.9,703.1 705.9,703.3 707.9,703.0 709.5,703.4 711.8,702.9 715.2,703.0 716.9,703.2 718.6,702.9 721.8,703.3 723.0,703.1 724.5,703.6 726.0,703.4 729.6,703.8 733.6,703.8 735.8,702.9 737.3,701.1 738.0,699.8 739.5,695.6 740.4,694.4 740.8,694.6 741.3,695.4 743.1,699.6 744.2,701.5 745.0,702.3 747.0,702.8 747.7,702.6 749.3,702.8 750.2,702.5 751.7,702.9 753.1,702.6 755.4,703.1 757.4,702.7 757.8,702.9 759.3,702.8 760.4,703.1 762.8,702.5 763.9,702.5 764.3,702.8 765.2,702.7 766.3,702.3 767.8,702.6 769.3,702.1 770.6,702.2 771.8,701.7 773.4,701.7 777.1,700.9 778.3,700.0 779.7,698.6 780.3,697.6 781.0,695.2 781.6,691.9 782.8,679.8 784.6,651.1 785.0,648.9 785.2,648.9 785.6,649.8 785.8,649.7 786.1,646.7 786.6,628.4 787.8,551.0 788.2,536.9 788.6,532.3 789.0,535.7 789.5,547.6 791.9,625.8 793.5,655.3 794.6,666.5 795.8,673.9 798.8,684.1 800.6,688.2 803.6,692.4 806.5,695.4 807.4,695.8 808.9,697.1 811.1,698.0 813.3,698.5 814.6,699.2 817.0,699.3 820.3,700.7 821.8,700.9 823.1,701.6 824.6,701.9 827.9,704.3 830.1,706.8 830.9,708.6 831.8,713.5 833.8,736.1 834.5,740.0 834.8,739.4 835.2,736.7 837.3,715.8 838.1,712.6 838.9,711.1 839.5,710.7 842.7,711.3 844.4,711.3 845.5,711.7 847.3,711.6 848.5,712.5 849.4,714.0 850.5,719.3 852.3,736.8 853.0,739.9 853.3,739.4 853.6,737.6 855.8,717.0 856.7,713.4 857.9,711.7 859.2,711.3 860.8,710.0 865.4,707.1 867.0,705.8 869.4,705.1 871.6,704.9 873.1,705.1 874.8,704.8 879.7,705.0 881.3,704.5 883.1,705.1 885.1,704.5 888.3,704.3 892.2,704.7 892.9,704.3 893.9,704.2 896.1,704.5 896.8,704.4 897.4,704.5 898.9,704.3 900.0,704.6 900.6,704.5" fill="none" stroke="#111" stroke-width="1.80" stroke-linejoin="round"/>
<path d="M593.0,732.5L595.7,732.2 597.2,732.6 602.1,732.3 609.0,732.8 619.7,732.3 621.2,732.8 622.5,732.3 636.0,732.8 637.2,732.4 642.4,732.2 644.0,732.6 648.3,732.3 653.9,732.8 660.2,732.3 662.8,732.8 664.9,732.2 667.3,732.7 671.4,732.2 673.2,732.7 674.8,732.4 676.6,732.7 678.8,733.8 681.4,736.2 684.5,733.2 686.9,732.6 696.4,732.3 697.9,732.7 706.8,732.5 710.5,733.0 711.4,733.9 712.8,736.8 714.5,743.0 716.8,767.5 717.4,770.3 720.1,751.8 721.0,750.2 722.5,749.8 723.4,748.9 726.4,739.9 728.1,736.9 734.1,734.3 742.8,733.2 747.4,733.5 750.9,732.8 754.2,732.9 756.6,732.4 761.5,732.2 766.4,731.0 768.7,729.5 770.0,728.1 771.1,724.3 772.7,708.5 774.1,676.8 776.6,594.3 777.3,582.8 778.0,579.7 779.0,583.2 779.6,590.6 782.0,674.3 782.8,689.1 784.1,698.4 790.1,716.5 795.5,723.8 799.3,726.8 802.2,727.9 804.9,728.7 808.1,728.6 814.0,730.0 815.2,730.8 817.0,733.9 818.7,738.1 819.8,743.7 822.4,774.8 823.0,773.1 824.7,753.3 825.7,747.7 826.5,746.4 828.9,745.6 833.7,739.3 834.8,739.1 835.6,739.7 836.8,743.4 839.2,772.0 839.8,774.9 841.9,753.6 842.9,748.0 843.6,746.6 846.3,744.6 851.1,737.2 852.8,735.3 861.7,733.4 863.2,733.7 866.0,733.0 867.5,733.3 868.5,732.7 888.1,732.1L888.1,856.0L593.0,856.0Z" fill="#fff" stroke="none"/>
<path d="M593.0,732.5L595.7,732.2 597.2,732.6 599.8,732.4 600.6,732.5 602.1,732.3 602.4,732.6 605.0,732.4 609.0,732.8 613.5,732.3 615.8,732.6 619.7,732.3 621.2,732.8 622.5,732.3 624.9,732.4 626.5,732.7 627.8,732.5 628.7,732.7 629.6,732.5 629.8,732.6 630.0,732.5 631.1,732.6 632.1,732.4 633.6,732.7 635.1,732.5 636.0,732.8 637.2,732.4 639.5,732.5 642.4,732.2 644.0,732.6 647.4,732.5 648.3,732.3 649.6,732.6 652.2,732.5 653.9,732.8 656.6,732.3 658.7,732.6 660.2,732.3 662.8,732.8 663.7,732.7 664.9,732.2 666.2,732.3 667.3,732.7 671.4,732.2 673.2,732.7 674.8,732.4 676.6,732.7 678.8,733.8 680.6,735.8 681.4,736.2 681.8,736.0 683.6,733.9 684.5,733.2 685.1,733.2 686.9,732.6 688.2,732.7 690.8,732.3 693.5,732.7 694.3,732.4 696.4,732.3 697.9,732.7 700.5,732.4 703.7,732.7 706.8,732.5 707.9,732.7 709.2,732.7 709.9,733.1 710.5,733.0 711.4,733.9 712.8,736.8 713.9,740.2 714.5,743.0 715.2,748.2 716.8,767.5 717.4,770.3 717.9,768.5 719.2,756.7 720.1,751.8 721.0,750.2 722.5,749.8 723.4,748.9 724.3,746.7 726.4,739.9 727.4,737.6 728.1,736.9 729.6,736.0 731.1,735.7 732.5,734.9 734.1,734.3 736.5,734.3 737.6,733.9 739.1,733.9 740.6,733.4 742.8,733.2 745.2,733.3 746.5,733.2 747.4,733.5 748.5,733.2 749.7,733.2 750.9,732.8 751.7,733.0 752.5,732.8 754.2,732.9 756.6,732.4 757.8,732.6 760.1,732.1 761.2,732.0 761.5,732.2 763.7,731.7 764.5,731.2 766.4,731.0 768.7,729.5 770.0,728.1 771.1,724.3 771.9,718.5 772.7,708.5 774.1,676.8 776.6,594.3 777.3,582.8 777.6,580.6 778.0,579.7 778.6,581.0 779.0,583.2 779.6,590.6 782.0,674.3 782.8,689.1 783.4,694.7 784.1,698.4 786.5,706.4 788.9,713.6 790.1,716.5 791.2,718.5 795.5,723.8 799.3,726.8 802.2,727.9 803.4,728.0 804.9,728.7 805.4,728.4 807.4,728.7 808.1,728.6 810.2,729.4 811.7,729.3 814.0,730.0 815.2,730.8 817.0,733.9 818.7,738.1 819.8,743.7 820.6,752.0 821.9,770.9 822.4,774.8 822.7,774.9 823.0,773.1 824.7,753.3 825.7,747.7 826.1,746.8 826.5,746.4 828.9,745.6 832.9,740.0 833.7,739.3 834.8,739.1 835.6,739.7 836.2,740.8 836.8,743.4 837.6,750.4 839.2,772.0 839.5,774.3 839.8,774.9 840.3,772.1 841.9,753.6 842.9,748.0 843.6,746.6 844.3,746.0 845.4,745.6 846.3,744.6 848.0,742.3 851.1,737.2 852.8,735.3 855.6,734.5 857.0,734.5 858.5,734.0 860.3,734.0 861.7,733.4 863.2,733.7 863.7,733.4 865.2,733.3 866.0,733.0 867.5,733.3 868.5,732.7 870.5,732.8 871.8,732.5 873.2,732.7 874.9,732.4 876.4,732.6 877.9,732.3 878.9,732.5 879.5,732.2 881.0,732.4 883.4,732.2 884.9,732.4 885.3,732.1 886.8,732.3 887.1,732.1 888.1,732.1" fill="none" stroke="#111" stroke-width="1.80" stroke-linejoin="round"/>
<path d="M580.2,760.7L591.6,760.6 593.7,761.0 595.3,760.5 596.8,760.9 598.3,760.4 604.0,760.8 611.1,760.3 624.0,760.7 630.0,760.3 631.5,760.7 635.7,760.3 644.5,760.7 645.4,760.4 649.8,760.7 656.6,760.3 658.3,760.7 658.9,760.3 660.4,760.8 667.2,760.7 671.5,763.4 675.9,760.8 682.1,760.6 694.0,761.5 697.8,763.8 699.6,767.7 701.3,777.8 703.9,801.9 705.0,805.9 708.0,795.2 711.8,788.7 716.6,771.7 719.1,768.4 721.8,765.8 725.8,762.9 730.8,761.1 733.9,761.4 739.3,760.8 741.1,761.2 745.6,760.3 751.5,760.0 754.7,758.9 755.8,758.0 757.6,754.9 759.4,749.0 760.6,740.7 761.5,729.4 762.9,695.6 765.4,600.7 766.5,584.6 767.4,592.4 768.7,616.4 771.6,708.8 772.7,720.8 776.0,737.9 778.6,747.2 780.9,750.6 785.8,755.6 790.2,757.7 795.1,758.4 803.4,758.8 807.1,759.2 807.7,759.9 809.8,764.9 811.1,771.3 813.8,804.8 814.5,800.8 816.6,771.0 817.5,766.6 819.2,764.2 822.5,762.9 824.6,763.4 825.4,763.1 826.9,764.1 827.7,765.9 828.8,773.5 831.1,805.0 833.7,770.6 834.7,765.1 835.8,763.5 844.0,760.1 847.3,760.2 851.6,759.6 854.8,760.0 858.4,759.6 859.5,760.0 861.0,759.4 868.6,759.8 874.8,759.5L874.8,856.0L580.2,856.0Z" fill="#fff" stroke="none"/>
<path d="M580.2,760.7L584.3,761.0 585.4,760.6 586.7,760.7 587.3,760.5 588.8,760.8 591.6,760.6 593.7,761.0 595.3,760.5 596.8,760.9 597.5,760.5 598.3,760.4 599.7,760.8 602.5,760.6 604.0,760.8 605.4,760.5 606.9,760.6 607.8,760.3 608.9,760.4 609.3,760.7 610.4,760.6 611.1,760.3 612.8,760.5 616.9,760.3 618.9,760.6 620.2,760.4 620.9,760.6 623.2,760.4 624.0,760.7 630.0,760.3 631.5,760.7 632.7,760.4 634.2,760.7 635.7,760.3 637.5,760.7 639.6,760.4 644.5,760.7 645.4,760.4 646.2,760.6 647.2,760.4 647.8,760.6 649.2,760.5 649.8,760.7 652.3,760.3 655.7,760.6 656.6,760.3 658.3,760.7 658.9,760.3 659.4,760.6 659.8,760.4 660.4,760.8 663.0,760.5 663.8,760.7 667.2,760.7 668.3,761.2 670.2,762.8 671.5,763.4 673.9,762.0 674.9,761.1 675.9,760.8 682.1,760.6 683.6,761.0 684.3,760.8 689.5,761.2 691.0,761.0 694.0,761.5 695.7,762.3 697.8,763.8 698.8,765.5 699.6,767.7 700.4,771.5 701.3,777.8 703.9,801.9 704.4,804.7 705.0,805.9 705.8,804.0 708.0,795.2 709.7,791.9 711.0,790.6 711.8,788.7 715.4,775.2 716.6,771.7 717.3,770.5 719.1,768.4 720.3,767.4 721.8,765.8 725.8,762.9 729.5,761.8 730.8,761.1 731.9,761.1 733.9,761.4 735.8,761.0 737.4,761.2 739.3,760.8 741.1,761.2 744.0,760.8 745.6,760.3 748.9,760.3 750.4,759.8 751.5,760.0 754.7,758.9 755.8,758.0 756.6,757.0 757.6,754.9 758.6,752.2 759.4,749.0 760.6,740.7 761.5,729.4 762.9,695.6 765.4,600.7 766.0,587.8 766.5,584.6 766.9,586.4 767.4,592.4 768.7,616.4 770.7,687.3 771.6,708.8 772.7,720.8 776.0,737.9 777.3,743.5 778.6,747.2 780.9,750.6 784.8,754.8 785.8,755.6 787.7,756.8 790.2,757.7 791.4,757.9 791.7,757.7 795.1,758.4 796.7,758.3 797.2,758.5 798.1,758.3 799.6,758.7 800.8,758.5 803.4,758.8 806.2,759.4 807.1,759.2 807.7,759.9 809.8,764.9 811.1,771.3 812.0,780.6 813.2,799.8 813.8,804.8 814.1,804.4 814.5,800.8 815.9,778.5 816.6,771.0 817.5,766.6 819.2,764.2 822.5,762.9 823.1,762.8 824.6,763.4 825.4,763.1 826.2,763.4 826.9,764.1 827.7,765.9 828.8,773.5 830.5,800.6 831.1,805.0 831.7,800.7 833.7,770.6 834.7,765.1 835.8,763.5 836.8,763.3 838.4,762.3 840.8,761.5 842.7,760.4 844.0,760.1 845.6,760.3 846.3,760.0 847.3,760.2 848.5,759.8 849.7,760.0 851.6,759.6 852.9,759.9 854.5,759.8 854.8,760.0 856.3,759.6 857.5,759.8 858.4,759.6 859.5,760.0 861.0,759.4 866.9,759.5 868.6,759.8 870.0,759.4 870.9,759.6 872.1,759.4 873.5,759.6 874.8,759.5" fill="none" stroke="#111" stroke-width="1.80" stroke-linejoin="round"/>
<path d="M568.4,788.4L570.2,788.9 571.6,788.4 586.3,788.3 592.3,787.7 597.0,787.9 599.1,787.4 600.4,787.8 603.5,787.5 605.1,787.8 608.0,787.4 614.4,787.7 620.1,787.2 623.6,787.6 625.6,787.3 636.8,787.6 639.8,787.1 641.3,787.5 649.5,787.3 652.0,787.9 654.7,787.3 656.6,787.8 658.3,787.4 665.0,788.0 669.4,787.5 673.7,788.0 675.3,787.7 677.0,788.2 678.0,789.2 682.5,797.4 684.1,799.2 685.0,799.3 687.6,797.8 691.2,794.3 698.0,791.1 709.2,788.7 721.3,787.3 724.1,786.3 725.6,786.4 735.2,783.7 737.5,782.2 739.7,778.9 742.2,771.5 744.7,757.0 749.3,720.4 750.3,715.6 751.4,713.8 752.1,715.0 753.1,719.2 758.0,753.2 760.2,763.4 761.3,766.7 763.2,770.1 768.6,777.0 771.0,779.2 773.2,780.6 779.1,782.7 783.3,783.8 789.0,784.2 793.0,785.3 796.1,784.9 816.2,786.2 817.7,785.9 820.3,786.4 821.8,786.0 825.5,786.6 827.0,786.2 828.8,786.6 831.8,786.3 834.9,787.2 839.5,786.9 862.8,787.9L862.8,856.0L568.4,856.0Z" fill="#fff" stroke="none"/>
<path d="M568.4,788.4L570.2,788.9 571.6,788.4 573.1,788.7 574.2,788.4 576.0,788.6 577.5,788.2 579.6,788.5 581.2,788.1 584.0,788.2 585.6,788.0 586.3,788.3 588.0,787.9 590.9,788.0 592.3,787.7 595.3,787.7 595.9,787.9 596.5,787.7 597.0,787.9 599.1,787.4 600.4,787.8 603.0,787.7 603.5,787.5 605.1,787.8 606.1,787.6 607.6,787.7 608.0,787.4 608.9,787.7 611.6,787.3 614.4,787.7 617.2,787.3 618.6,787.5 620.1,787.2 620.7,787.4 622.2,787.2 623.6,787.6 625.6,787.3 629.0,787.4 629.9,787.6 630.6,787.4 632.1,787.6 635.3,787.4 636.8,787.6 637.8,787.3 638.9,787.5 639.8,787.1 641.3,787.5 644.2,787.6 645.7,787.3 648.0,787.6 649.5,787.3 652.0,787.9 652.4,787.6 652.9,787.8 654.7,787.3 656.6,787.8 658.3,787.4 660.8,787.7 662.7,787.6 665.0,788.0 666.7,787.6 667.9,787.7 669.4,787.5 673.7,788.0 675.3,787.7 677.0,788.2 678.0,789.2 679.2,791.0 682.5,797.4 684.1,799.2 685.0,799.3 685.9,799.0 687.6,797.8 691.2,794.3 692.9,793.3 697.1,791.7 698.0,791.1 699.5,791.0 702.7,789.9 706.5,789.5 709.2,788.7 710.4,788.8 711.0,788.5 712.4,788.4 713.2,788.0 714.2,788.1 717.2,787.7 717.7,787.4 719.4,787.4 720.9,787.1 721.3,787.3 722.9,786.5 723.9,786.5 724.1,786.3 725.6,786.4 728.0,785.6 730.9,785.2 732.3,784.5 733.1,784.5 735.2,783.7 737.5,782.2 739.7,778.9 740.9,776.1 742.2,771.5 743.8,763.1 744.7,757.0 749.3,720.4 750.3,715.6 750.8,714.4 751.4,713.8 751.7,714.0 752.1,715.0 753.1,719.2 758.0,753.2 760.2,763.4 761.3,766.7 763.2,770.1 768.6,777.0 771.0,779.2 772.2,779.6 773.2,780.6 774.6,780.8 779.1,782.7 781.8,783.2 783.3,783.8 784.8,783.8 785.3,784.0 785.9,783.8 787.6,784.4 789.0,784.2 793.0,785.3 796.1,784.9 797.6,785.3 799.8,785.1 802.9,785.6 805.6,785.4 808.6,785.8 809.1,785.5 810.6,785.8 811.1,785.6 812.5,786.0 815.1,785.9 816.2,786.2 817.7,785.9 818.1,786.2 818.6,786.1 820.3,786.4 821.2,786.0 821.8,786.0 823.2,786.4 824.2,786.3 825.5,786.6 827.0,786.2 828.8,786.6 831.8,786.3 834.3,786.8 834.9,787.2 835.2,787.0 836.4,786.9 838.0,787.1 839.5,786.9 842.0,787.2 843.5,787.0 844.2,787.2 845.3,787.1 846.4,787.3 847.4,787.1 848.8,787.4 849.1,787.2 850.2,787.2 851.5,787.5 852.7,787.3 854.3,787.7 855.3,787.8 855.8,787.5 858.3,787.8 859.3,787.6 860.8,788.0 862.8,787.9" fill="none" stroke="#111" stroke-width="1.80" stroke-linejoin="round"/>
<path d="M555.1,816.5L559.1,816.7 561.3,816.2 564.3,816.6 570.1,816.1 579.1,816.4 582.9,815.8 594.6,816.3 600.9,815.9 603.3,816.4 609.7,815.8 611.3,816.1 612.8,815.7 613.9,816.2 625.8,815.7 635.2,816.0 638.5,815.4 640.4,816.1 643.0,815.3 646.7,815.9 647.6,815.5 649.1,815.7 652.8,815.3 654.2,815.6 657.6,815.2 659.2,815.6 668.7,815.5 672.8,815.0 684.9,815.1 688.3,814.6 689.9,815.1 692.7,814.5 694.3,814.9 698.6,814.4 703.9,814.4 705.6,813.9 708.3,814.1 715.2,812.3 718.3,810.4 720.6,807.5 722.5,804.1 724.5,798.5 728.2,783.0 734.0,752.4 735.4,747.8 737.1,745.4 737.8,745.6 738.8,747.2 740.5,753.0 746.9,786.6 750.1,799.4 753.0,806.4 754.9,809.3 758.3,812.1 762.5,813.4 766.7,814.0 772.7,814.2 776.1,814.8 777.8,814.4 779.4,814.9 782.4,814.7 784.7,815.1 795.4,814.9 799.8,815.3 804.3,815.0 815.3,815.5 818.6,815.2 825.1,815.3 826.5,815.8 829.1,815.3 832.4,815.9 833.7,815.6 841.5,815.9 847.0,815.5 849.5,815.9L849.5,856.0L555.1,856.0Z" fill="#fff" stroke="none"/>
<path d="M555.1,816.5L557.7,816.4 559.1,816.7 561.3,816.2 564.3,816.6 570.1,816.1 571.6,816.4 573.1,816.2 574.6,816.4 575.7,816.4 577.5,816.1 579.1,816.4 582.9,815.8 584.1,816.1 585.9,816.0 587.6,816.2 589.4,816.0 594.6,816.3 597.1,816.2 598.0,816.0 599.6,816.2 600.9,815.9 603.3,816.4 603.8,816.2 604.6,816.4 606.2,816.0 608.8,816.0 609.7,815.8 611.3,816.1 612.8,815.7 613.9,816.2 619.2,815.8 620.7,816.0 621.8,815.7 623.0,816.0 625.8,815.7 627.0,815.9 628.3,815.7 629.5,815.9 634.7,815.8 635.2,816.0 635.7,815.7 637.9,815.8 638.5,815.4 640.4,816.1 643.0,815.3 643.7,815.6 646.7,815.9 647.6,815.5 649.1,815.7 650.8,815.5 651.4,815.6 652.8,815.3 654.2,815.6 655.6,815.3 657.1,815.5 657.6,815.2 659.2,815.6 660.3,815.4 661.8,815.5 662.7,815.3 668.7,815.5 672.8,815.0 676.4,815.2 677.3,815.0 679.3,815.1 679.9,814.9 681.8,815.2 684.2,814.9 684.9,815.1 688.3,814.6 689.9,815.1 692.7,814.5 694.3,814.9 695.4,814.6 697.4,814.4 697.7,814.6 698.6,814.4 700.0,814.7 702.2,814.3 703.9,814.4 705.6,813.9 707.7,813.9 708.3,814.1 715.2,812.3 718.3,810.4 720.6,807.5 722.5,804.1 724.5,798.5 726.4,791.5 728.2,783.0 732.3,760.6 734.0,752.4 735.4,747.8 736.4,745.9 737.1,745.4 737.8,745.6 738.8,747.2 740.5,753.0 746.9,786.6 750.1,799.4 752.1,804.8 753.0,806.4 754.9,809.3 758.3,812.1 760.0,812.4 762.5,813.4 764.2,813.4 766.7,814.0 769.8,814.1 771.3,814.4 772.7,814.2 773.6,814.5 775.0,814.4 776.1,814.8 777.8,814.4 779.4,814.9 782.4,814.7 784.7,815.1 786.2,814.8 787.1,815.1 788.9,814.8 791.1,815.1 792.3,814.9 793.9,815.1 795.4,814.9 796.0,815.1 798.8,815.3 799.5,815.1 799.8,815.3 801.3,815.1 803.6,815.2 804.3,815.0 809.1,815.1 810.3,815.5 813.8,815.2 815.3,815.5 818.6,815.2 820.5,815.4 822.0,815.3 822.2,815.5 825.1,815.3 826.5,815.8 827.9,815.4 829.1,815.3 830.5,815.8 832.0,815.7 832.4,815.9 833.7,815.6 834.8,815.8 836.2,815.5 837.4,815.7 838.7,815.5 841.5,815.9 843.9,815.6 845.9,815.8 847.0,815.5 848.4,815.9 849.5,815.9" fill="none" stroke="#111" stroke-width="1.80" stroke-linejoin="round"/>
<line x1="555.1" y1="858.6" x2="849.5" y2="858.6" stroke="#333" stroke-width="1.60"/>
<line x1="555.1" y1="858.6" x2="555.1" y2="865.0" stroke="#333" stroke-width="1.30"/>
<line x1="604.2" y1="858.6" x2="604.2" y2="865.0" stroke="#333" stroke-width="1.30"/>
<line x1="653.2" y1="858.6" x2="653.2" y2="865.0" stroke="#333" stroke-width="1.30"/>
<line x1="702.3" y1="858.6" x2="702.3" y2="865.0" stroke="#333" stroke-width="1.30"/>
<line x1="751.4" y1="858.6" x2="751.4" y2="865.0" stroke="#333" stroke-width="1.30"/>
<line x1="800.5" y1="858.6" x2="800.5" y2="865.0" stroke="#333" stroke-width="1.30"/>
<line x1="849.5" y1="858.6" x2="849.5" y2="865.0" stroke="#333" stroke-width="1.30"/>
<line x1="579.6" y1="858.6" x2="579.6" y2="862.5" stroke="#333" stroke-width="1.20"/>
<line x1="628.7" y1="858.6" x2="628.7" y2="862.5" stroke="#333" stroke-width="1.20"/>
<line x1="677.8" y1="858.6" x2="677.8" y2="862.5" stroke="#333" stroke-width="1.20"/>
<line x1="726.8" y1="858.6" x2="726.8" y2="862.5" stroke="#333" stroke-width="1.20"/>
<line x1="775.9" y1="858.6" x2="775.9" y2="862.5" stroke="#333" stroke-width="1.20"/>
<line x1="825.0" y1="858.6" x2="825.0" y2="862.5" stroke="#333" stroke-width="1.20"/>
<text x="556.5" y="886.0" font-family="Liberation Sans" font-size="16.0" font-weight="normal" font-style="normal" text-anchor="middle" fill="#222">1.8</text>
<text x="703.0" y="886.0" font-family="Liberation Sans" font-size="16.0" font-weight="normal" font-style="normal" text-anchor="middle" fill="#222">1.5</text>
<text x="849.5" y="886.0" font-family="Liberation Sans" font-size="16.0" font-weight="normal" font-style="normal" text-anchor="middle" fill="#222">1.2</text>
<text x="694.6" y="907.5" font-family="Liberation Sans" font-size="18.0" font-weight="normal" font-style="normal" text-anchor="middle" fill="#222">ppm</text>
<text x="844.8" y="836.5" font-family="Liberation Sans" font-size="16.5" font-weight="normal" font-style="normal" text-anchor="start" fill="#222">31 s</text>
<text x="861.4" y="805.5" font-family="Liberation Sans" font-size="16.5" font-weight="normal" font-style="normal" text-anchor="start" fill="#222">58 s</text>
<text x="875.5" y="778.0" font-family="Liberation Sans" font-size="16.5" font-weight="normal" font-style="normal" text-anchor="start" fill="#222">80 s</text>
<text x="886.4" y="751.0" font-family="Liberation Sans" font-size="16.5" font-weight="normal" font-style="normal" text-anchor="start" fill="#222">123 s</text>
<text x="892.0" y="722.5" font-family="Liberation Sans" font-size="16.5" font-weight="normal" font-style="normal" text-anchor="start" fill="#222">159 s</text>
<text x="901.5" y="694.5" font-family="Liberation Sans" font-size="16.5" font-weight="normal" font-style="normal" text-anchor="start" fill="#222">219 s</text>
<text x="916.7" y="664.5" font-family="Liberation Sans" font-size="16.5" font-weight="normal" font-style="normal" text-anchor="start" fill="#222">702 s</text>
<text x="933.3" y="634.4" font-family="Liberation Sans" font-size="16.5" font-weight="normal" font-style="normal" text-anchor="start" fill="#222">872 s</text>
<text x="947.8" y="607.8" font-family="Liberation Sans" font-size="16.5" font-weight="normal" font-style="normal" text-anchor="start" fill="#222">3295 s</text>
<text x="780.3" y="532.3" font-family="Liberation Sans" font-size="14.0" font-weight="bold" font-style="normal" text-anchor="start" fill="#111">2a</text>
<text x="901.7" y="524.2" font-family="Liberation Sans" font-size="14.0" font-weight="bold" font-style="normal" text-anchor="start" fill="#111">aH</text>
<text x="590.4" y="781.6" font-family="Liberation Sans" font-size="15.5" font-weight="bold" font-style="normal" text-anchor="start" fill="#111">a(-H)</text>
<text x="691.9" y="807.2" font-family="Liberation Sans" font-size="16.0" font-weight="bold" font-style="normal" text-anchor="start" fill="#111">aa</text>
<line x1="630.6" y1="778.0" x2="666.5" y2="770.2" stroke="#666" stroke-width="0.80"/>
<path d="M671.4,769.1L666.0,772.3L665.1,768.4Z" fill="#666"/>
<text x="713.8" y="842.4" font-family="Liberation Serif" font-size="15.0" font-weight="bold" font-style="normal" text-anchor="start" fill="#111">aa</text>
<text x="745.5" y="842.4" font-family="Liberation Serif" font-size="15.0" font-weight="bold" font-style="normal" text-anchor="start" fill="#111">2a</text>
<text x="551.5" y="949.5" font-family="Liberation Sans" font-size="20.0" font-weight="normal" font-style="normal" text-anchor="start" fill="#222">(f)</text>
<path d="M649.6,963.6L650.7,963.9 655.9,963.3 661.7,963.7 663.4,963.3 664.9,963.7 667.3,963.2 669.8,963.6 671.3,963.2 674.0,963.6 679.5,963.0 683.1,963.4 685.4,962.9 688.9,963.2 690.4,962.8 693.7,963.3 697.2,962.8 698.7,963.3 700.2,962.8 702.5,963.2 704.0,962.7 709.5,962.6 712.1,961.6 713.5,959.9 716.6,946.4 717.4,945.2 720.7,958.7 721.9,961.0 724.6,962.1 727.0,962.4 735.3,961.8 736.2,962.2 740.2,961.9 742.5,962.3 746.3,961.8 747.7,962.2 749.1,961.9 755.0,962.2 759.2,961.8 760.7,962.2 762.2,961.7 771.4,962.1 776.2,961.6 778.8,962.1 786.4,961.4 791.2,962.0 797.3,961.1 800.7,961.3 805.0,959.6 806.8,957.5 807.4,956.0 808.8,947.9 812.2,891.1 813.2,883.0 814.1,889.8 816.3,930.4 817.6,946.4 818.6,951.3 822.7,957.5 823.8,957.2 826.8,949.7 827.5,950.7 829.4,957.0 830.6,958.8 835.6,959.8 839.8,959.0 842.1,955.8 844.1,958.6 845.1,959.1 845.9,957.8 848.0,950.7 848.6,951.6 850.4,958.6 851.0,959.5 852.1,960.0 853.5,959.8 854.1,958.9 856.3,951.4 857.0,952.5 858.5,958.8 859.2,960.0 860.3,960.6 863.0,960.4 867.2,961.3 868.7,960.8 871.7,961.4 874.8,960.9 880.4,961.6 882.2,961.2 883.9,961.7 885.4,961.2 887.7,961.7 891.7,961.5 892.9,961.8 893.7,961.4 895.2,961.8 902.6,961.9 904.2,961.6 905.5,961.9 908.1,961.6 909.6,962.2 916.2,961.6 918.0,962.3 921.8,961.8 926.5,962.1L926.5,1252.0L649.6,1252.0Z" fill="#fff" stroke="none"/>
<path d="M649.6,963.6L650.7,963.9 651.9,963.6 652.8,963.8 653.1,963.5 654.5,963.6 655.9,963.3 657.4,963.7 657.8,963.4 658.8,963.4 659.5,963.8 660.9,963.6 661.7,963.7 663.4,963.3 664.9,963.7 665.1,963.4 666.6,963.5 667.3,963.2 669.8,963.6 671.3,963.2 674.0,963.6 676.7,963.2 678.6,963.4 679.5,963.0 681.0,963.2 681.6,963.0 683.1,963.4 685.4,962.9 686.9,963.3 688.6,963.0 688.9,963.2 690.4,962.8 691.1,963.1 692.5,962.9 693.7,963.3 695.1,962.9 697.2,962.8 698.7,963.3 699.0,963.2 699.4,963.3 700.2,962.8 702.5,963.2 704.0,962.7 705.2,962.9 706.3,962.6 707.2,962.9 709.5,962.6 712.1,961.6 712.7,961.1 713.5,959.9 714.4,957.1 716.6,946.4 717.0,945.4 717.4,945.2 718.2,947.2 720.0,956.2 720.7,958.7 721.9,961.0 723.2,961.8 724.6,962.1 724.8,962.0 727.0,962.4 727.5,962.1 728.8,962.3 730.1,962.0 731.6,962.3 733.1,961.9 733.9,962.1 735.3,961.8 736.2,962.2 740.2,961.9 742.5,962.3 744.1,961.8 745.2,962.0 746.3,961.8 747.7,962.2 749.1,961.9 750.4,962.1 752.4,961.9 755.0,962.2 756.6,962.1 756.9,961.9 758.5,962.1 759.2,961.8 760.7,962.2 762.2,961.7 765.1,961.8 765.6,962.1 767.8,961.8 768.0,962.0 769.1,962.0 769.4,961.8 771.4,962.1 772.6,961.8 774.6,961.9 776.2,961.6 777.7,962.0 778.2,961.9 778.8,962.1 780.0,961.7 781.4,962.0 782.8,961.7 783.9,961.9 786.4,961.4 787.7,961.6 789.6,961.5 791.2,962.0 792.9,961.4 794.4,961.7 796.4,961.2 796.8,961.4 797.3,961.1 797.8,961.3 798.4,961.0 800.7,961.3 801.9,960.9 802.2,960.6 802.5,960.7 804.0,959.7 805.0,959.6 805.6,959.2 806.8,957.5 807.4,956.0 807.9,954.1 808.8,947.9 810.1,931.0 812.2,891.1 812.7,885.2 813.2,883.0 813.6,884.4 814.1,889.8 816.3,930.4 817.6,946.4 818.6,951.3 819.0,952.0 820.3,953.4 821.3,955.6 822.7,957.5 823.2,957.6 823.8,957.2 824.6,955.4 826.1,950.7 826.8,949.7 827.5,950.7 829.4,957.0 830.6,958.8 831.3,959.2 832.4,959.1 833.8,959.5 834.1,959.3 835.6,959.8 837.4,959.4 838.1,959.6 839.8,959.0 840.3,958.6 841.4,956.6 842.1,955.8 842.5,956.1 844.1,958.6 844.7,959.1 845.1,959.1 845.5,958.8 845.9,957.8 847.6,951.4 848.0,950.7 848.6,951.6 850.4,958.6 851.0,959.5 852.1,960.0 853.5,959.8 854.1,958.9 855.9,952.2 856.3,951.4 856.6,951.5 857.0,952.5 858.5,958.8 859.2,960.0 860.3,960.6 861.3,960.8 861.8,960.4 863.0,960.4 867.2,961.3 868.7,960.8 869.7,961.2 871.7,961.4 872.1,961.2 873.8,961.2 874.8,960.9 878.3,961.4 879.1,961.3 880.4,961.6 882.2,961.2 883.3,961.4 883.9,961.7 885.4,961.2 887.7,961.7 887.9,961.6 889.4,961.7 891.7,961.5 892.2,961.7 892.5,961.5 892.9,961.8 893.7,961.4 893.9,961.6 894.4,961.5 895.2,961.8 898.6,961.7 899.3,961.9 900.8,961.7 902.6,961.9 904.2,961.6 905.5,961.9 908.1,961.6 909.6,962.2 910.6,961.8 912.7,962.1 915.0,961.9 916.2,961.6 918.0,962.3 919.4,961.9 920.9,962.1 921.8,961.8 923.3,962.1 923.7,961.8 924.6,961.8 925.6,962.3 926.5,962.1" fill="none" stroke="#111" stroke-width="1.80" stroke-linejoin="round"/>
<path d="M637.1,1004.9L643.9,1005.2 655.9,1004.7 657.4,1005.2 660.5,1004.8 661.8,1005.2 664.1,1004.8 665.8,1005.2 667.4,1004.8 671.4,1005.2 672.9,1004.7 676.1,1005.2 678.0,1004.6 680.9,1005.3 682.8,1004.6 687.3,1005.1 696.2,1004.5 698.0,1004.8 701.6,1003.8 702.8,1002.4 704.5,998.7 705.7,997.6 706.7,998.8 708.3,1002.5 711.0,1004.9 712.5,1004.5 717.5,1005.2 721.3,1004.6 724.9,1005.0 725.6,1004.6 727.3,1005.1 734.7,1004.8 736.1,1005.2 741.1,1004.7 746.9,1004.9 747.5,1005.2 749.5,1004.9 750.2,1004.4 757.3,1004.7 766.8,1003.5 769.5,1001.8 771.1,996.7 772.3,986.3 774.2,959.5 775.0,954.9 775.7,958.6 777.7,985.7 779.1,996.8 780.7,1001.0 781.9,1001.7 784.4,1001.4 785.9,1000.6 786.9,998.4 789.8,985.0 790.2,985.0 790.6,985.9 792.4,992.6 793.1,993.1 793.6,991.7 794.8,981.9 796.8,953.0 797.5,949.0 798.4,954.3 800.5,980.8 801.2,984.6 801.5,984.9 801.8,984.4 802.8,977.3 804.9,949.1 805.5,946.5 806.3,951.1 809.0,985.5 810.2,991.4 811.5,993.3 813.6,992.9 817.1,995.7 820.5,997.3 821.9,997.4 823.4,998.5 824.7,998.5 829.8,1000.1 833.7,999.8 835.0,1000.3 837.1,1000.2 839.9,1000.8 844.5,1000.4 846.9,1001.2 852.1,1001.3 852.9,1001.8 855.4,1001.3 859.7,1002.1 861.2,1001.7 862.0,1002.2 869.1,1002.2 872.4,1002.7 876.5,1002.8 878.4,1002.4 879.9,1002.9 883.7,1002.7 887.8,1003.3 889.9,1003.0 897.7,1003.5 900.6,1003.0 901.4,1003.4 902.7,1003.1 904.2,1003.9 907.2,1003.2 909.3,1003.6 912.4,1003.6 913.9,1003.1 915.0,1003.5L915.0,1252.0L637.1,1252.0Z" fill="#fff" stroke="none"/>
<path d="M637.1,1004.9L638.3,1005.2 639.8,1004.8 640.8,1005.1 642.1,1005.1 642.3,1004.9 642.8,1005.2 643.9,1005.2 645.4,1004.9 646.8,1005.1 648.9,1004.9 650.9,1005.1 651.5,1004.8 653.5,1005.0 655.9,1004.7 657.4,1005.2 658.2,1004.9 660.1,1005.0 660.5,1004.8 661.8,1005.2 664.1,1004.8 665.8,1005.2 667.4,1004.8 668.3,1005.1 669.8,1004.8 671.4,1005.2 672.9,1004.7 675.2,1004.9 676.1,1005.2 677.0,1004.8 678.0,1004.6 678.6,1005.0 679.4,1004.7 680.0,1004.9 680.9,1005.3 681.9,1004.6 682.8,1004.6 683.6,1004.9 685.9,1004.8 687.3,1005.1 688.5,1004.9 689.0,1005.1 690.8,1005.1 692.2,1004.7 695.8,1004.7 696.2,1004.5 698.0,1004.8 698.9,1004.4 699.3,1004.6 699.5,1004.4 700.4,1004.4 701.6,1003.8 702.8,1002.4 704.5,998.7 705.1,997.9 705.7,997.6 706.7,998.8 708.3,1002.5 709.1,1003.6 710.2,1004.5 711.0,1004.9 711.6,1004.9 712.5,1004.5 713.6,1004.8 716.1,1004.7 717.5,1005.2 718.4,1005.0 719.1,1005.1 719.5,1004.8 720.0,1005.0 720.4,1004.7 721.0,1004.9 721.3,1004.6 724.9,1005.0 725.6,1004.6 726.6,1004.7 727.3,1005.1 728.8,1004.8 731.4,1005.1 731.9,1004.9 733.1,1004.9 733.4,1005.1 734.7,1004.8 736.1,1005.2 737.6,1004.8 741.1,1004.7 741.6,1004.9 743.1,1004.7 744.8,1004.8 745.4,1005.0 746.9,1004.9 747.5,1005.2 748.0,1005.0 748.8,1005.1 749.2,1004.8 749.5,1004.9 750.2,1004.4 751.2,1004.4 751.7,1004.6 753.8,1004.3 754.4,1004.6 755.9,1004.5 757.3,1004.7 760.0,1004.1 761.5,1004.3 762.8,1003.9 763.5,1004.0 764.0,1003.8 764.3,1003.9 766.1,1003.3 766.8,1003.5 768.6,1002.7 769.5,1001.8 770.6,999.2 771.1,996.7 772.3,986.3 774.2,959.5 774.7,955.5 775.0,954.9 775.4,956.1 775.7,958.6 777.7,985.7 779.1,996.8 779.8,999.4 780.7,1001.0 781.9,1001.7 784.4,1001.4 785.9,1000.6 786.9,998.4 789.8,985.0 790.2,985.0 790.6,985.9 792.4,992.6 792.8,993.2 793.1,993.1 793.6,991.7 794.1,989.0 794.8,981.9 796.8,953.0 797.5,949.0 797.9,949.9 798.4,954.3 800.5,980.8 801.2,984.6 801.5,984.9 801.8,984.4 802.8,977.3 804.9,949.1 805.2,947.0 805.5,946.5 805.9,947.6 806.3,951.1 808.2,977.6 809.0,985.5 809.5,988.8 810.2,991.4 810.9,992.7 811.5,993.3 813.6,992.9 814.2,993.1 815.1,994.2 816.6,995.1 817.1,995.7 820.5,997.3 821.9,997.4 823.4,998.5 824.7,998.5 827.1,999.3 828.5,999.4 829.8,1000.1 830.9,999.9 832.4,1000.2 833.7,999.8 835.0,1000.3 837.1,1000.2 839.1,1000.5 839.9,1000.8 841.2,1000.5 841.7,1000.6 844.5,1000.4 844.9,1000.7 845.7,1000.7 846.9,1001.2 849.9,1001.2 850.6,1001.5 852.1,1001.3 852.9,1001.8 854.0,1001.9 854.4,1001.5 855.0,1001.6 855.4,1001.3 856.3,1001.7 857.3,1001.5 857.6,1001.7 858.1,1001.7 859.7,1002.1 860.5,1001.7 861.2,1001.7 862.0,1002.2 863.5,1001.9 866.1,1002.4 869.1,1002.2 870.0,1002.5 871.7,1002.4 872.4,1002.7 875.6,1002.5 876.5,1002.8 878.4,1002.4 879.6,1002.6 879.9,1002.9 883.7,1002.7 886.8,1003.0 887.8,1003.3 889.9,1003.0 891.4,1003.3 892.5,1003.0 892.7,1003.2 894.4,1003.2 895.0,1003.4 896.2,1003.3 897.7,1003.5 900.6,1003.0 901.4,1003.4 902.7,1003.1 903.4,1003.7 904.2,1003.9 906.1,1003.2 907.2,1003.2 909.3,1003.6 911.6,1003.4 912.4,1003.6 913.9,1003.1 915.0,1003.5" fill="none" stroke="#111" stroke-width="1.80" stroke-linejoin="round"/>
<path d="M625.5,1044.2L629.4,1044.7 633.2,1044.2 634.7,1044.7 638.0,1044.4 639.7,1044.9 641.2,1044.3 651.8,1044.6 654.3,1044.1 662.3,1044.8 667.1,1044.2 670.9,1044.5 672.4,1044.0 673.7,1044.4 675.0,1044.0 676.3,1044.5 678.5,1044.3 682.5,1044.7 684.0,1044.2 686.5,1044.5 689.8,1043.7 692.0,1040.7 693.7,1039.7 697.2,1043.6 701.7,1044.5 706.4,1044.1 708.5,1044.3 710.0,1043.8 712.6,1044.4 715.7,1044.0 717.0,1044.3 718.4,1043.8 721.1,1044.2 722.7,1043.6 726.9,1043.7 731.2,1043.1 732.9,1041.4 733.9,1038.5 736.2,1022.6 737.0,1019.9 737.8,1022.7 740.4,1038.7 741.9,1040.9 744.2,1040.7 745.1,1039.6 746.0,1037.0 747.2,1027.6 749.8,967.5 750.6,959.9 753.8,1026.2 754.9,1034.6 755.8,1037.0 756.8,1036.8 757.8,1034.6 758.5,1030.6 759.5,1016.0 762.0,926.6 762.7,915.2 763.5,929.6 765.5,1006.0 766.6,1027.1 767.5,1034.1 768.7,1037.3 770.1,1038.3 771.3,1038.5 773.5,1037.4 775.3,1034.3 776.3,1030.1 777.6,1013.9 780.6,897.5 781.4,881.4 782.1,890.9 784.6,969.7 788.5,1015.8 789.2,1021.2 790.0,1023.6 790.9,1021.2 792.9,1005.8 793.6,1003.3 794.4,1006.5 796.4,1023.2 797.7,1028.5 799.3,1030.3 803.1,1031.1 807.6,1033.5 813.0,1034.9 815.0,1036.1 818.5,1036.8 821.2,1038.1 825.9,1038.9 827.5,1040.1 829.0,1039.9 832.5,1041.3 834.1,1041.0 837.3,1041.8 840.2,1041.6 841.1,1042.0 844.6,1042.1 846.7,1041.8 848.2,1042.3 853.6,1041.9 858.4,1042.4 861.4,1042.0 865.8,1042.5 867.5,1042.1 869.3,1042.9 871.4,1042.1 873.0,1042.7 882.5,1042.3 888.9,1042.7 890.5,1042.3 898.5,1042.8 901.2,1042.2 903.0,1042.7L903.0,1252.0L625.5,1252.0Z" fill="#fff" stroke="none"/>
<path d="M625.5,1044.2L626.2,1044.1 627.1,1044.6 628.5,1044.5 629.4,1044.7 630.3,1044.4 631.6,1044.6 633.2,1044.2 634.7,1044.7 638.0,1044.4 639.7,1044.9 641.2,1044.3 642.4,1044.6 643.3,1044.3 644.8,1044.6 645.6,1044.4 648.9,1044.6 650.2,1044.3 651.8,1044.6 653.4,1044.1 653.9,1044.2 654.3,1044.1 655.7,1044.3 661.2,1044.5 662.3,1044.8 664.4,1044.4 665.7,1044.6 667.1,1044.2 667.9,1044.5 669.8,1044.3 670.9,1044.5 672.4,1044.0 673.7,1044.4 675.0,1044.0 676.3,1044.5 678.5,1044.3 682.5,1044.7 683.8,1044.5 684.0,1044.2 684.4,1044.4 685.9,1044.3 686.5,1044.5 686.8,1044.3 688.5,1044.2 689.8,1043.7 692.0,1040.7 692.9,1039.9 693.7,1039.7 694.5,1040.3 697.2,1043.6 698.5,1044.1 700.7,1044.1 701.7,1044.5 703.2,1044.2 705.4,1044.4 706.4,1044.1 707.5,1044.3 708.2,1044.1 708.5,1044.3 709.0,1044.1 709.5,1044.1 710.0,1043.8 711.1,1043.8 711.5,1044.2 712.0,1044.0 712.6,1044.4 713.0,1044.2 713.5,1044.5 715.7,1044.0 717.0,1044.3 718.4,1043.8 721.1,1044.2 722.7,1043.6 723.3,1043.6 723.9,1043.9 724.9,1043.8 725.4,1043.5 726.9,1043.7 731.2,1043.1 732.9,1041.4 733.9,1038.5 736.2,1022.6 736.6,1020.7 737.0,1019.9 737.4,1020.6 737.8,1022.7 739.5,1034.7 740.4,1038.7 740.9,1039.9 741.9,1040.9 742.8,1041.0 744.2,1040.7 745.1,1039.6 746.0,1037.0 746.6,1033.6 747.2,1027.6 748.1,1011.5 749.8,967.5 750.2,961.5 750.6,959.9 751.3,969.1 752.8,1008.3 753.8,1026.2 754.9,1034.6 755.8,1037.0 756.1,1037.1 756.8,1036.8 757.8,1034.6 758.5,1030.6 759.5,1016.0 760.4,989.8 762.0,926.6 762.3,919.2 762.7,915.2 763.1,919.0 763.5,929.6 765.5,1006.0 766.6,1027.1 767.5,1034.1 768.1,1036.2 768.7,1037.3 769.2,1037.9 770.1,1038.3 771.3,1038.5 772.5,1038.1 773.5,1037.4 774.3,1036.5 775.3,1034.3 776.3,1030.1 777.0,1023.5 777.6,1013.9 778.7,982.3 780.6,897.5 781.0,886.0 781.4,881.4 781.7,882.9 782.1,890.9 783.7,948.4 784.6,969.7 786.4,987.5 788.5,1015.8 789.2,1021.2 790.0,1023.6 790.5,1022.9 790.9,1021.2 792.9,1005.8 793.6,1003.3 793.9,1003.8 794.4,1006.5 796.4,1023.2 797.7,1028.5 798.4,1029.7 799.3,1030.3 800.5,1030.8 801.1,1030.7 802.5,1030.9 802.9,1031.2 803.1,1031.1 804.9,1032.3 806.4,1032.6 807.6,1033.5 808.7,1033.7 809.4,1034.2 813.0,1034.9 815.0,1036.1 816.6,1036.4 817.4,1036.8 818.5,1036.8 821.2,1038.1 824.7,1038.6 825.0,1038.9 825.9,1038.9 826.5,1039.2 827.5,1040.1 829.0,1039.9 830.4,1040.4 830.8,1040.3 832.5,1041.3 833.7,1041.3 834.1,1041.0 837.3,1041.8 840.2,1041.6 841.1,1042.0 842.3,1041.9 843.0,1042.2 844.6,1042.1 846.7,1041.8 848.0,1042.1 848.2,1042.3 849.5,1042.2 849.8,1042.0 851.3,1042.2 852.8,1042.0 853.3,1042.1 853.6,1041.9 854.4,1042.2 854.7,1042.0 855.4,1042.4 857.0,1042.1 858.4,1042.4 859.8,1042.0 861.4,1042.0 862.5,1042.4 864.0,1042.2 865.8,1042.5 867.5,1042.1 869.3,1042.9 870.7,1042.2 871.4,1042.1 873.0,1042.7 874.3,1042.5 875.7,1042.6 877.2,1042.3 879.2,1042.6 879.6,1042.4 881.1,1042.5 882.5,1042.3 884.3,1042.6 885.9,1042.4 886.6,1042.7 887.0,1042.6 887.7,1042.7 888.1,1042.4 888.9,1042.7 889.2,1042.5 890.5,1042.3 891.5,1042.6 893.3,1042.4 894.8,1042.7 896.2,1042.4 898.5,1042.8 898.8,1042.5 900.8,1042.5 901.2,1042.2 903.0,1042.7" fill="none" stroke="#111" stroke-width="1.80" stroke-linejoin="round"/>
<path d="M613.0,1083.8L616.9,1083.5 619.1,1083.9 620.7,1083.3 622.9,1083.7 624.4,1083.3 628.9,1083.8 632.7,1083.3 635.4,1083.8 637.5,1083.2 639.2,1083.7 642.2,1083.4 643.5,1083.9 648.3,1083.3 654.0,1083.6 655.6,1083.2 658.2,1083.7 666.2,1083.3 667.0,1083.7 670.5,1083.2 671.6,1083.5 672.7,1083.0 675.7,1083.6 682.8,1082.6 688.4,1083.7 689.9,1083.2 694.4,1083.6 697.5,1083.1 698.9,1083.6 704.8,1082.8 706.4,1083.3 708.1,1083.0 709.2,1083.3 711.8,1082.6 713.8,1082.8 715.8,1082.2 718.4,1082.2 720.5,1080.8 721.6,1078.8 724.3,1062.0 725.0,1060.1 725.7,1061.9 727.7,1074.9 729.0,1078.9 730.3,1079.8 732.1,1079.8 734.4,1078.0 735.5,1076.2 736.2,1073.4 737.5,1058.4 740.1,971.6 740.8,960.7 741.5,970.9 743.8,1049.1 744.7,1063.0 745.2,1066.3 745.8,1067.4 746.9,1061.6 747.8,1045.8 750.1,952.0 750.9,935.7 751.7,951.4 753.7,1036.1 754.9,1060.4 755.9,1067.4 757.0,1069.7 759.1,1069.9 760.4,1069.4 762.1,1067.9 763.3,1065.5 764.3,1060.6 765.7,1040.3 768.6,911.8 769.4,894.6 770.1,907.3 772.0,995.7 773.1,1025.5 773.9,1030.7 775.3,1025.5 775.6,1025.1 776.0,1026.3 778.6,1054.1 779.5,1059.1 780.7,1062.2 782.2,1063.2 785.4,1067.0 789.1,1072.4 792.5,1075.1 800.7,1079.5 805.2,1081.2 810.0,1082.1 811.7,1081.9 812.9,1082.6 814.1,1084.6 815.6,1089.1 816.1,1088.8 818.0,1083.5 818.9,1082.9 820.0,1083.6 822.2,1090.0 824.6,1083.3 826.8,1082.9 828.5,1083.3 831.7,1082.8 834.7,1083.4 836.1,1083.0 843.2,1083.7 848.6,1083.5 851.5,1084.1 853.0,1083.6 859.2,1084.1 863.8,1083.9 866.8,1084.4 868.2,1084.0 870.0,1084.3 871.1,1083.8 874.3,1084.3 879.0,1084.0 881.3,1084.4 885.7,1083.8 890.3,1084.5 891.5,1084.2L891.5,1252.0L613.0,1252.0Z" fill="#fff" stroke="none"/>
<path d="M613.0,1083.8L613.4,1084.0 614.9,1083.6 615.3,1083.9 616.9,1083.5 618.9,1083.7 619.1,1083.9 620.4,1083.6 620.7,1083.3 622.9,1083.7 623.7,1083.4 624.1,1083.6 624.4,1083.3 625.3,1083.6 625.7,1083.4 628.9,1083.8 630.0,1083.4 632.0,1083.5 632.7,1083.3 635.4,1083.8 636.4,1083.4 637.5,1083.2 639.2,1083.7 640.1,1083.4 641.1,1083.6 642.2,1083.4 643.5,1083.9 644.7,1083.5 645.1,1083.6 645.5,1083.4 646.0,1083.7 646.6,1083.4 647.0,1083.6 648.3,1083.3 654.0,1083.6 655.0,1083.2 655.4,1083.4 655.6,1083.2 658.2,1083.7 658.5,1083.6 659.8,1083.7 660.6,1083.4 662.2,1083.6 666.2,1083.3 667.0,1083.7 668.5,1083.3 669.1,1083.5 670.5,1083.2 671.6,1083.5 672.7,1083.0 675.7,1083.6 676.5,1083.3 676.9,1083.4 677.2,1083.2 677.6,1083.4 678.5,1083.0 678.7,1083.2 680.0,1083.1 680.6,1082.9 681.3,1083.0 681.7,1082.7 682.8,1082.6 683.9,1083.0 686.2,1083.3 686.6,1083.6 687.9,1083.4 688.4,1083.7 689.1,1083.5 689.3,1083.7 689.9,1083.2 690.6,1083.4 690.9,1083.2 691.2,1083.5 692.8,1083.2 694.4,1083.6 695.1,1083.3 696.3,1083.4 697.5,1083.1 698.1,1083.5 698.9,1083.6 699.5,1083.2 700.9,1083.4 702.1,1083.0 702.5,1083.2 704.3,1083.0 704.8,1082.8 706.4,1083.3 708.1,1083.0 709.2,1083.3 711.8,1082.6 712.7,1082.9 713.8,1082.8 715.8,1082.2 716.1,1082.4 716.8,1082.1 718.4,1082.2 719.7,1081.5 720.5,1080.8 721.6,1078.8 722.5,1074.4 724.3,1062.0 724.7,1060.4 725.0,1060.1 725.3,1060.4 725.7,1061.9 727.7,1074.9 728.5,1077.9 729.0,1078.9 730.3,1079.8 732.1,1079.8 734.4,1078.0 735.5,1076.2 736.2,1073.4 736.9,1067.4 737.5,1058.4 738.4,1035.2 740.1,971.6 740.5,962.8 740.8,960.7 741.1,962.7 741.5,970.9 743.8,1049.1 744.7,1063.0 745.2,1066.3 745.8,1067.4 746.4,1065.7 746.9,1061.6 747.8,1045.8 748.6,1019.3 750.1,952.0 750.5,940.1 750.9,935.7 751.3,939.8 751.7,951.4 753.7,1036.1 754.9,1060.4 755.9,1067.4 756.5,1069.1 757.0,1069.7 758.0,1070.0 759.1,1069.9 760.4,1069.4 762.1,1067.9 762.7,1067.0 763.3,1065.5 764.3,1060.6 765.0,1053.3 765.7,1040.3 766.8,1002.3 768.6,911.8 769.0,899.4 769.4,894.6 769.7,897.0 770.1,907.3 772.0,995.7 773.1,1025.5 773.5,1029.6 773.9,1030.7 774.4,1029.7 775.3,1025.5 775.6,1025.1 776.0,1026.3 778.6,1054.1 779.5,1059.1 780.7,1062.2 782.2,1063.2 785.4,1067.0 789.1,1072.4 792.5,1075.1 793.9,1075.6 796.5,1077.4 798.9,1078.3 800.7,1079.5 802.5,1079.8 805.2,1081.2 805.7,1081.4 807.2,1081.3 810.0,1082.1 810.6,1081.9 811.7,1081.9 812.9,1082.6 814.1,1084.6 815.6,1089.1 816.1,1088.8 817.3,1085.0 818.0,1083.5 818.9,1082.9 820.0,1083.6 821.8,1089.6 822.2,1090.0 822.5,1089.8 822.8,1089.0 823.9,1084.9 824.6,1083.3 826.8,1082.9 828.5,1083.3 831.7,1082.8 834.1,1083.1 834.7,1083.4 836.1,1083.0 836.5,1083.2 837.5,1083.1 839.0,1083.6 839.7,1083.2 841.2,1083.6 842.1,1083.4 843.2,1083.7 846.4,1083.8 848.6,1083.5 851.5,1084.1 853.0,1083.6 854.7,1083.8 856.3,1083.7 857.0,1084.1 858.5,1083.9 859.2,1084.1 860.2,1083.9 861.9,1084.1 863.8,1083.9 866.8,1084.4 868.2,1084.0 868.8,1084.3 870.0,1084.3 871.1,1083.8 872.6,1084.2 874.3,1084.3 875.3,1084.0 877.5,1084.3 879.0,1084.0 879.4,1084.2 880.7,1084.1 881.3,1084.4 882.6,1084.0 883.8,1084.3 885.7,1083.8 886.6,1084.2 888.1,1084.1 888.4,1084.2 888.9,1084.0 890.3,1084.5 891.5,1084.2" fill="none" stroke="#111" stroke-width="1.80" stroke-linejoin="round"/>
<path d="M601.4,1123.6L604.0,1123.5 605.5,1124.0 607.0,1123.6 612.6,1123.8 617.3,1123.2 624.7,1123.8 631.5,1123.5 633.0,1123.9 634.2,1123.4 648.9,1123.8 654.3,1123.3 655.8,1123.8 660.4,1123.1 663.4,1123.6 670.8,1122.9 674.1,1123.6 675.6,1123.1 678.8,1123.4 682.2,1123.0 683.3,1123.5 686.6,1122.9 695.5,1123.5 699.1,1122.7 702.4,1123.0 706.8,1122.0 708.5,1120.0 709.7,1114.8 712.9,1079.7 713.6,1082.6 715.6,1108.0 716.6,1115.8 717.2,1117.9 718.3,1119.5 719.0,1119.9 721.0,1119.0 722.4,1116.9 723.2,1113.9 724.4,1100.1 727.1,1004.0 727.8,992.4 728.5,1004.3 730.8,1091.0 731.5,1104.9 732.5,1113.9 733.4,1116.8 735.1,1119.1 736.2,1119.8 739.2,1120.3 742.6,1120.0 744.9,1119.3 749.1,1116.0 750.9,1114.0 752.7,1111.0 754.0,1106.3 755.6,1087.2 756.8,1048.2 758.7,950.2 759.5,931.5 760.3,946.4 762.3,1038.4 763.5,1072.8 765.2,1093.7 766.2,1098.9 768.0,1103.9 768.8,1103.9 770.5,1102.1 771.5,1102.2 778.6,1106.6 787.3,1114.3 787.6,1114.1 796.0,1119.0 797.6,1119.2 799.8,1120.4 800.9,1121.8 803.0,1128.7 804.8,1122.4 805.7,1121.4 807.0,1122.8 808.9,1129.5 811.2,1122.0 811.9,1121.2 813.5,1120.8 814.1,1121.1 821.1,1121.1 822.5,1121.6 823.9,1121.2 828.9,1121.9 831.3,1121.6 835.8,1122.0 836.7,1121.7 839.0,1122.1 845.3,1122.0 847.3,1122.5 848.6,1122.0 852.1,1122.5 856.9,1122.2 858.1,1122.7 859.1,1122.2 861.3,1122.7 862.6,1122.4 863.9,1122.9 868.5,1122.4 873.2,1122.8 874.7,1122.4 876.5,1122.8 879.6,1122.5L879.6,1252.0L601.4,1252.0Z" fill="#fff" stroke="none"/>
<path d="M601.4,1123.6L602.7,1123.4 603.6,1123.7 604.0,1123.5 605.5,1124.0 607.0,1123.6 608.0,1123.9 609.5,1123.6 610.9,1123.8 611.8,1123.6 612.6,1123.8 613.4,1123.8 614.3,1123.4 615.8,1123.6 617.3,1123.2 617.8,1123.5 618.9,1123.6 623.8,1123.5 624.7,1123.8 627.0,1123.7 627.4,1123.5 628.9,1123.7 629.7,1123.5 631.5,1123.5 633.0,1123.9 634.2,1123.4 635.6,1123.7 637.5,1123.5 639.3,1123.7 643.4,1123.4 644.9,1123.7 648.5,1123.6 648.9,1123.8 650.5,1123.5 651.7,1123.7 652.9,1123.3 654.3,1123.3 655.8,1123.8 657.1,1123.4 658.3,1123.6 659.6,1123.5 660.4,1123.1 663.4,1123.6 664.3,1123.4 665.3,1123.5 666.9,1123.0 667.9,1123.2 668.7,1122.9 669.7,1123.0 670.2,1123.2 670.8,1122.9 672.1,1123.0 674.1,1123.6 675.6,1123.1 677.0,1123.4 678.0,1123.1 678.8,1123.4 680.3,1123.0 680.7,1123.2 682.2,1123.0 683.3,1123.5 684.8,1123.0 685.7,1123.3 686.6,1122.9 689.7,1123.3 693.8,1123.4 694.1,1123.2 695.5,1123.5 696.5,1123.0 696.8,1123.2 697.3,1123.0 697.7,1123.2 699.1,1122.7 700.6,1123.0 702.4,1123.0 703.5,1122.8 706.0,1121.9 706.8,1122.0 707.4,1121.6 708.5,1120.0 709.1,1118.1 709.7,1114.8 710.7,1105.4 712.2,1084.8 712.9,1079.7 713.3,1080.5 713.6,1082.6 715.6,1108.0 716.6,1115.8 717.2,1117.9 718.3,1119.5 719.0,1119.9 721.0,1119.0 722.4,1116.9 723.2,1113.9 723.9,1107.9 724.4,1100.1 725.4,1072.8 727.1,1004.0 727.5,994.7 727.8,992.4 728.1,994.7 728.5,1004.3 730.8,1091.0 731.5,1104.9 732.5,1113.9 733.4,1116.8 734.0,1117.9 735.1,1119.1 736.2,1119.8 739.2,1120.3 742.6,1120.0 743.6,1119.4 744.9,1119.3 746.4,1117.7 747.0,1117.7 748.7,1116.1 749.1,1116.0 750.9,1114.0 752.7,1111.0 753.4,1109.0 754.0,1106.3 754.9,1098.6 755.6,1087.2 756.8,1048.2 758.7,950.2 759.1,936.9 759.5,931.5 759.9,935.0 760.3,946.4 762.3,1038.4 763.5,1072.8 764.2,1084.2 765.2,1093.7 766.2,1098.9 767.0,1101.7 768.0,1103.9 768.8,1103.9 770.5,1102.1 771.5,1102.2 772.7,1103.1 774.9,1104.1 777.2,1106.0 778.6,1106.6 780.1,1108.2 781.6,1109.2 783.1,1110.8 783.5,1110.8 784.4,1111.4 785.3,1112.7 787.3,1114.3 787.6,1114.1 789.0,1115.2 789.6,1115.2 791.1,1116.4 794.1,1117.7 796.0,1119.0 797.6,1119.2 799.8,1120.4 800.9,1121.8 803.0,1128.7 803.4,1128.2 804.8,1122.4 805.7,1121.4 806.3,1121.7 807.0,1122.8 808.4,1128.5 808.9,1129.5 809.3,1129.0 811.2,1122.0 811.9,1121.2 813.5,1120.8 814.1,1121.1 816.1,1120.9 817.7,1121.1 818.8,1121.0 819.5,1121.2 821.1,1121.1 822.5,1121.6 823.9,1121.2 826.4,1121.6 827.1,1121.5 828.9,1121.9 831.3,1121.6 832.1,1121.9 833.8,1121.6 835.8,1122.0 836.7,1121.7 839.0,1122.1 840.2,1121.8 841.7,1122.3 844.5,1122.0 844.9,1122.3 845.3,1122.0 847.3,1122.5 847.7,1122.2 848.6,1122.0 849.2,1122.3 852.1,1122.5 852.5,1122.3 853.0,1122.5 856.9,1122.2 858.1,1122.7 859.1,1122.2 861.3,1122.7 862.6,1122.4 863.9,1122.9 865.5,1122.4 866.0,1122.7 866.4,1122.6 867.0,1122.8 867.7,1122.4 868.5,1122.4 869.2,1122.7 869.8,1122.4 871.3,1122.7 872.3,1122.5 873.2,1122.8 874.7,1122.4 876.5,1122.8 877.6,1122.6 878.6,1122.8 879.6,1122.5" fill="none" stroke="#111" stroke-width="1.80" stroke-linejoin="round"/>
<path d="M588.9,1163.5L597.5,1163.9 599.3,1163.3 604.2,1163.9 608.0,1163.7 609.0,1163.2 614.7,1163.8 619.4,1163.3 621.0,1163.7 622.4,1163.4 623.9,1164.0 625.5,1163.2 633.8,1163.8 635.6,1163.1 637.4,1163.8 639.1,1163.4 645.0,1163.7 652.6,1163.2 653.5,1163.6 656.0,1162.9 659.0,1163.0 660.8,1163.5 662.6,1163.1 663.9,1163.6 676.6,1163.0 678.1,1163.3 679.7,1162.9 685.3,1163.2 686.8,1162.6 688.8,1163.0 690.9,1162.7 692.4,1162.0 696.6,1161.7 698.5,1161.1 700.6,1159.3 701.9,1156.9 702.7,1153.1 703.8,1139.3 706.5,1039.3 707.2,1026.7 707.9,1038.3 710.3,1128.5 711.2,1141.4 711.7,1142.7 712.2,1140.1 713.4,1115.7 715.3,1035.0 716.1,1019.1 716.9,1035.6 719.0,1124.2 719.8,1142.4 720.7,1151.9 722.2,1157.5 725.0,1159.0 728.8,1159.6 729.9,1159.1 732.0,1159.3 734.5,1158.6 737.7,1156.8 739.8,1154.0 740.6,1151.4 741.6,1144.5 742.4,1132.8 743.6,1095.9 745.6,999.7 746.3,986.2 747.0,997.3 749.8,1100.2 753.3,1134.8 754.4,1141.7 755.4,1144.4 763.1,1150.5 769.6,1156.5 777.7,1160.3 781.1,1162.4 789.8,1163.3 792.5,1169.8 794.6,1164.8 795.4,1165.0 797.5,1169.9 799.8,1164.2 803.1,1163.3 804.8,1163.7 807.6,1163.1 809.1,1163.7 811.1,1163.7 811.5,1163.2 816.0,1163.7 817.5,1163.2 819.0,1163.9 828.3,1163.6 830.3,1164.1 833.7,1163.6 835.6,1164.1 837.1,1163.7 848.4,1164.2 851.2,1163.6 852.9,1164.1 857.1,1163.6 860.4,1164.0 867.3,1163.9L867.3,1252.0L588.9,1252.0Z" fill="#fff" stroke="none"/>
<path d="M588.9,1163.5L590.7,1163.7 591.2,1163.5 592.5,1163.9 593.6,1163.5 593.8,1163.7 595.9,1163.5 597.0,1163.6 597.5,1163.9 599.3,1163.3 600.4,1163.6 602.3,1163.5 604.2,1163.9 605.8,1163.6 608.0,1163.7 609.0,1163.2 611.6,1163.7 613.9,1163.4 614.7,1163.8 616.5,1163.4 617.9,1163.7 618.4,1163.4 619.4,1163.3 621.0,1163.7 622.4,1163.4 623.9,1164.0 625.5,1163.2 626.7,1163.6 627.1,1163.4 629.0,1163.7 629.8,1163.3 631.5,1163.7 633.3,1163.6 633.8,1163.8 635.6,1163.1 637.4,1163.8 639.1,1163.4 639.9,1163.4 640.4,1163.7 641.4,1163.6 641.8,1163.4 642.6,1163.7 644.1,1163.5 645.0,1163.7 647.0,1163.3 649.0,1163.7 650.7,1163.3 651.1,1163.4 651.3,1163.2 652.2,1163.3 652.6,1163.2 652.9,1163.5 653.5,1163.6 656.0,1162.9 657.5,1163.2 659.0,1163.0 660.8,1163.5 662.6,1163.1 663.9,1163.6 665.1,1163.3 667.3,1163.5 668.4,1163.2 669.9,1163.4 671.8,1163.1 674.5,1163.2 676.6,1163.0 677.2,1163.3 678.1,1163.3 679.7,1162.9 681.6,1163.2 683.1,1162.9 685.3,1163.2 686.8,1162.6 688.8,1163.0 690.9,1162.7 692.4,1162.0 692.8,1162.3 695.1,1161.7 696.6,1161.7 697.1,1161.4 698.5,1161.1 700.6,1159.3 701.9,1156.9 702.7,1153.1 703.8,1139.3 704.8,1110.7 706.5,1039.3 706.9,1029.3 707.2,1026.7 707.5,1028.8 707.9,1038.3 709.5,1104.5 710.3,1128.5 711.2,1141.4 711.4,1142.4 711.7,1142.7 712.2,1140.1 712.8,1131.5 713.4,1115.7 715.3,1035.0 715.7,1023.3 716.1,1019.1 716.5,1023.7 716.9,1035.6 719.0,1124.2 719.8,1142.4 720.7,1151.9 721.4,1155.3 722.2,1157.5 723.2,1158.3 723.7,1158.2 725.0,1159.0 728.1,1159.3 728.8,1159.6 729.9,1159.1 732.0,1159.3 733.5,1158.7 734.5,1158.6 736.1,1157.4 737.7,1156.8 739.8,1154.0 740.6,1151.4 741.6,1144.5 742.4,1132.8 743.6,1095.9 745.6,999.7 746.0,989.0 746.3,986.2 746.6,988.1 747.0,997.3 748.8,1073.6 749.8,1100.2 750.5,1108.9 753.3,1134.8 754.4,1141.7 755.4,1144.4 756.5,1145.7 757.3,1146.3 758.8,1146.9 761.9,1149.7 763.1,1150.5 764.8,1152.0 766.2,1153.7 768.7,1155.5 769.6,1156.5 770.7,1156.9 772.2,1157.9 773.9,1158.4 775.3,1159.3 776.1,1159.6 776.6,1160.1 777.7,1160.3 778.9,1161.3 781.1,1162.4 783.4,1162.6 783.6,1162.5 784.2,1162.8 784.9,1162.6 787.1,1163.2 788.6,1163.1 789.8,1163.3 790.6,1164.5 791.9,1168.9 792.5,1169.8 793.1,1168.9 794.6,1164.8 794.9,1164.6 795.4,1165.0 796.9,1169.2 797.5,1169.9 798.0,1169.0 799.2,1165.3 799.8,1164.2 800.4,1163.8 803.1,1163.3 804.8,1163.7 806.0,1163.5 806.4,1163.2 807.6,1163.1 808.0,1163.5 809.1,1163.7 809.6,1163.4 811.1,1163.7 811.5,1163.2 812.0,1163.4 812.6,1163.3 813.0,1163.6 813.4,1163.4 816.0,1163.7 817.5,1163.2 818.1,1163.6 819.0,1163.9 819.7,1163.6 820.4,1163.9 822.3,1163.7 822.9,1163.9 823.2,1163.7 824.8,1164.0 826.0,1163.6 827.4,1163.9 828.3,1163.6 830.3,1164.1 830.7,1163.8 830.9,1164.0 831.8,1163.7 832.1,1164.0 833.7,1163.6 835.6,1164.1 837.1,1163.7 837.7,1164.0 839.2,1163.9 839.9,1164.1 843.5,1163.8 844.6,1164.0 847.5,1163.9 848.4,1164.2 851.2,1163.6 852.9,1164.1 855.1,1163.8 855.8,1164.0 857.1,1163.6 860.4,1164.0 861.2,1163.8 862.7,1164.1 863.2,1163.9 865.5,1164.1 866.1,1163.8 867.3,1163.9" fill="none" stroke="#111" stroke-width="1.80" stroke-linejoin="round"/>
<path d="M578.2,1203.1L583.5,1203.3 591.2,1202.7 592.8,1203.2 594.7,1202.6 596.2,1203.0 597.8,1202.5 599.3,1203.0 602.6,1202.6 605.4,1203.2 607.2,1202.7 613.0,1202.9 615.1,1202.4 617.1,1203.0 619.7,1202.6 621.9,1202.9 623.4,1202.2 625.7,1202.8 627.9,1202.3 629.4,1202.8 642.0,1202.3 643.9,1202.9 645.3,1202.3 647.1,1202.6 651.0,1202.1 655.0,1202.7 658.9,1202.2 667.8,1202.5 670.1,1202.0 679.3,1204.5 682.5,1204.1 686.3,1202.6 690.2,1200.2 691.8,1199.7 694.1,1197.8 695.5,1195.9 696.3,1193.6 697.7,1181.4 700.5,1100.0 701.2,1090.0 701.9,1099.0 703.7,1157.6 704.9,1180.5 705.6,1186.2 706.4,1188.6 707.6,1189.5 709.2,1188.3 710.3,1185.9 711.1,1181.9 712.4,1162.7 715.1,1034.0 715.8,1018.4 716.5,1033.8 719.2,1159.9 720.4,1178.0 721.2,1181.9 722.4,1184.0 724.9,1184.3 727.1,1183.1 728.3,1181.7 729.6,1177.0 730.4,1169.6 731.7,1141.0 733.8,1052.1 734.7,1033.7 735.6,1051.7 737.7,1140.7 739.0,1169.1 739.7,1175.6 740.7,1179.9 747.0,1193.9 750.8,1195.9 752.8,1195.7 755.4,1196.9 756.6,1196.8 758.1,1197.4 767.2,1198.0 769.1,1198.6 771.5,1198.2 773.3,1198.8 776.7,1198.7 779.2,1199.3 786.7,1199.3 788.3,1199.7 791.0,1199.3 792.4,1199.9 799.3,1199.6 802.0,1200.2 804.9,1199.5 807.5,1200.4 811.2,1200.2 816.6,1200.9 820.2,1200.5 822.1,1201.0 823.9,1200.4 826.2,1201.1 831.7,1200.9 835.2,1201.5 837.2,1201.0 839.9,1201.5 841.4,1200.9 846.0,1201.5 853.9,1201.1 855.5,1201.4L855.5,1252.0L578.2,1252.0Z" fill="#fff" stroke="none"/>
<path d="M578.2,1203.1L579.2,1203.1 579.5,1203.3 582.0,1202.9 583.5,1203.3 584.7,1203.0 585.6,1203.2 586.5,1202.9 588.1,1203.0 591.2,1202.7 592.8,1203.2 594.7,1202.6 596.2,1203.0 597.8,1202.5 599.3,1203.0 599.7,1202.8 601.2,1203.0 602.6,1202.6 605.4,1203.2 607.2,1202.7 609.9,1202.9 611.2,1202.6 612.2,1203.0 613.0,1202.9 615.1,1202.4 617.1,1203.0 618.3,1202.6 619.7,1202.6 621.4,1202.6 621.9,1202.9 622.4,1202.5 623.4,1202.2 625.7,1202.8 627.2,1202.2 627.9,1202.3 629.4,1202.8 631.8,1202.5 633.3,1202.7 634.1,1202.4 635.4,1202.7 636.7,1202.3 637.8,1202.6 641.1,1202.3 641.7,1202.5 642.0,1202.3 642.7,1202.5 643.1,1202.4 643.9,1202.9 645.2,1202.5 645.3,1202.3 645.9,1202.5 646.6,1202.3 647.1,1202.6 649.1,1202.3 649.5,1202.5 651.0,1202.1 652.3,1202.5 653.7,1202.4 655.0,1202.7 656.5,1202.4 657.7,1202.5 658.9,1202.2 663.0,1202.4 665.9,1202.3 667.8,1202.5 669.3,1202.1 670.1,1202.0 672.0,1202.4 674.7,1203.6 675.6,1203.8 677.1,1203.8 678.6,1204.5 679.3,1204.5 682.5,1204.1 685.1,1202.8 686.3,1202.6 688.0,1201.7 690.2,1200.2 691.8,1199.7 694.1,1197.8 695.0,1196.9 695.5,1195.9 696.3,1193.6 697.0,1189.2 697.7,1181.4 698.8,1157.4 700.5,1100.0 700.9,1092.1 701.2,1090.0 701.6,1093.0 701.9,1099.0 703.7,1157.6 704.9,1180.5 705.6,1186.2 706.4,1188.6 707.6,1189.5 708.4,1189.1 709.2,1188.3 710.3,1185.9 711.1,1181.9 711.8,1174.3 712.4,1162.7 713.4,1126.3 715.1,1034.0 715.5,1021.4 715.8,1018.4 716.1,1021.3 716.5,1033.8 718.2,1124.4 719.2,1159.9 719.8,1171.5 720.4,1178.0 721.2,1181.9 722.4,1184.0 723.6,1184.4 724.9,1184.3 725.6,1183.7 727.1,1183.1 728.3,1181.7 728.9,1180.1 729.6,1177.0 730.4,1169.6 731.7,1141.0 733.8,1052.1 734.3,1037.8 734.7,1033.7 735.1,1037.5 735.6,1051.7 737.7,1140.7 739.0,1169.1 739.7,1175.6 740.7,1179.9 743.2,1185.0 746.1,1192.3 747.0,1193.9 747.5,1194.4 748.5,1194.6 750.8,1195.9 752.8,1195.7 753.5,1196.1 753.8,1196.0 754.9,1196.5 755.4,1196.9 756.6,1196.8 758.1,1197.4 760.2,1197.3 760.6,1197.6 763.7,1197.6 764.7,1198.0 766.9,1198.2 767.2,1198.0 769.1,1198.6 769.5,1198.3 771.5,1198.2 773.3,1198.8 775.1,1199.0 775.5,1198.7 776.7,1198.7 777.3,1199.0 778.8,1199.0 779.2,1199.3 781.7,1199.4 782.4,1199.2 783.5,1199.4 784.4,1199.2 785.9,1199.5 786.7,1199.3 788.3,1199.7 791.0,1199.3 792.4,1199.9 794.7,1199.7 796.2,1199.9 799.3,1199.6 802.0,1200.2 804.9,1199.5 806.4,1200.3 807.5,1200.4 809.2,1200.2 810.7,1200.5 811.2,1200.2 812.1,1200.3 812.7,1200.6 813.9,1200.5 814.4,1200.7 815.2,1200.5 816.6,1200.9 817.1,1200.6 817.8,1200.7 818.0,1200.5 818.6,1200.8 819.3,1200.6 819.5,1200.8 820.2,1200.5 822.1,1201.0 823.9,1200.4 826.2,1201.1 827.7,1200.8 831.4,1201.1 831.7,1200.9 833.1,1201.3 834.6,1201.2 835.2,1201.5 837.2,1201.0 837.5,1201.2 839.9,1201.5 841.4,1200.9 846.0,1201.5 846.7,1201.3 848.1,1201.5 849.6,1201.3 850.1,1201.6 850.9,1201.2 851.1,1201.4 852.0,1201.2 852.4,1201.5 852.9,1201.1 853.5,1201.3 853.9,1201.1 855.5,1201.4" fill="none" stroke="#111" stroke-width="1.80" stroke-linejoin="round"/>
<path d="M566.2,1242.9L570.3,1242.4 572.5,1242.8 573.6,1242.4 578.7,1243.0 580.4,1242.4 581.9,1242.8 584.0,1242.2 585.5,1242.6 589.4,1242.1 591.6,1242.5 593.2,1241.9 597.7,1242.5 599.8,1241.8 607.2,1242.2 609.6,1241.3 611.0,1241.9 616.6,1241.3 620.6,1241.5 621.8,1241.0 625.7,1241.0 631.2,1238.4 635.4,1240.1 639.2,1240.4 642.8,1239.7 644.6,1240.3 647.8,1240.3 649.4,1239.7 650.9,1240.0 655.3,1239.5 656.8,1239.8 659.6,1239.7 661.0,1239.1 662.4,1239.5 663.9,1238.9 666.3,1239.1 667.8,1238.5 669.5,1238.6 671.0,1238.0 675.3,1237.5 679.4,1235.7 682.0,1231.8 683.8,1228.0 685.5,1218.6 686.7,1197.5 688.7,1136.0 689.4,1127.5 691.3,1145.2 693.5,1212.9 694.7,1219.3 695.6,1219.9 697.4,1219.1 698.5,1216.1 699.2,1211.2 700.3,1192.2 702.9,1067.0 703.6,1051.3 704.3,1066.6 707.0,1195.3 708.2,1213.9 709.0,1218.0 710.3,1220.6 711.3,1221.7 713.4,1222.5 715.7,1221.5 717.3,1218.1 718.3,1210.7 719.6,1185.3 721.7,1105.4 722.6,1088.8 723.4,1101.7 725.3,1173.9 726.7,1206.2 728.0,1216.4 732.7,1231.2 734.7,1232.4 740.0,1234.1 743.1,1234.1 747.4,1234.9 749.0,1234.6 750.0,1235.1 753.2,1235.1 755.5,1235.6 757.3,1235.3 760.9,1235.7 764.3,1232.8 765.9,1235.3 767.6,1236.1 768.6,1236.1 771.4,1233.5 773.9,1236.4 776.3,1237.0 777.7,1236.6 782.3,1237.5 784.6,1237.2 786.1,1237.7 793.8,1237.6 796.2,1238.2 798.5,1237.8 801.3,1238.3 802.8,1238.0 804.1,1238.5 805.7,1238.2 809.3,1238.4 812.5,1239.0 817.9,1238.6 820.9,1239.2 822.2,1238.8 825.9,1239.3 829.0,1239.0 836.5,1239.8 838.2,1239.2 839.4,1239.9 841.3,1239.3 843.6,1239.4L843.6,1252.0L566.2,1252.0Z" fill="#fff" stroke="none"/>
<path d="M566.2,1242.9L568.5,1242.8 570.3,1242.4 572.5,1242.8 573.6,1242.4 575.0,1242.7 575.6,1242.5 577.5,1242.6 578.7,1243.0 580.4,1242.4 581.9,1242.8 584.0,1242.2 585.5,1242.6 589.4,1242.1 591.6,1242.5 592.9,1242.2 593.2,1241.9 595.3,1242.2 596.2,1242.0 597.7,1242.5 598.1,1242.1 599.8,1241.8 601.1,1242.2 602.2,1242.1 602.5,1241.9 604.0,1242.2 604.8,1241.8 605.8,1241.9 606.1,1242.2 607.2,1242.2 607.5,1241.9 609.6,1241.3 611.0,1241.9 612.5,1241.5 615.1,1241.6 616.6,1241.3 620.6,1241.5 621.8,1241.0 625.7,1241.0 628.5,1239.8 630.3,1238.6 631.2,1238.4 634.1,1239.3 635.4,1240.1 636.9,1240.0 637.2,1240.3 637.8,1240.1 639.2,1240.4 640.4,1240.4 640.7,1240.1 641.1,1240.2 642.8,1239.7 643.4,1239.7 644.6,1240.3 646.4,1240.0 647.8,1240.3 649.4,1239.7 650.9,1240.0 651.9,1239.6 652.9,1239.8 654.1,1239.5 655.1,1239.7 655.3,1239.5 656.8,1239.8 658.1,1239.5 659.6,1239.7 661.0,1239.1 662.4,1239.5 663.9,1238.9 666.3,1239.1 667.8,1238.5 668.8,1238.4 669.5,1238.6 671.0,1238.0 671.9,1238.1 674.5,1237.5 675.3,1237.5 676.4,1237.0 677.4,1236.9 679.4,1235.7 682.0,1231.8 683.8,1228.0 684.9,1223.6 685.5,1218.6 686.7,1197.5 688.7,1136.0 689.1,1129.2 689.4,1127.5 689.7,1128.2 690.0,1130.5 691.3,1145.2 692.7,1196.0 693.5,1212.9 694.0,1217.1 694.7,1219.3 695.1,1219.8 695.6,1219.9 696.8,1219.7 697.4,1219.1 698.0,1218.0 698.5,1216.1 699.2,1211.2 700.3,1192.2 701.2,1158.6 702.9,1067.0 703.3,1054.4 703.6,1051.3 703.9,1054.2 704.3,1066.6 706.0,1158.9 707.0,1195.3 707.6,1207.3 708.2,1213.9 709.0,1218.0 710.3,1220.6 711.3,1221.7 713.4,1222.5 714.7,1222.2 715.7,1221.5 716.7,1219.9 717.3,1218.1 718.3,1210.7 719.6,1185.3 721.7,1105.4 722.2,1092.4 722.6,1088.8 723.0,1092.2 723.4,1101.7 725.3,1173.9 726.7,1206.2 727.2,1211.7 728.0,1216.4 731.3,1227.6 732.7,1231.2 733.0,1231.5 733.6,1231.6 734.7,1232.4 735.4,1232.6 735.6,1232.5 737.1,1233.2 738.9,1233.6 739.2,1233.9 739.7,1233.8 740.0,1234.1 743.1,1234.1 747.4,1234.9 748.3,1234.9 749.0,1234.6 750.0,1235.1 752.0,1235.3 753.2,1235.1 755.5,1235.6 757.3,1235.3 760.1,1235.9 760.9,1235.7 762.6,1234.6 763.4,1233.4 764.3,1232.8 765.9,1235.3 767.6,1236.1 768.6,1236.1 770.5,1234.4 771.0,1233.6 771.4,1233.5 772.0,1233.9 772.9,1235.4 773.9,1236.4 776.3,1237.0 777.7,1236.6 782.3,1237.5 783.8,1237.1 784.4,1237.3 784.6,1237.2 786.1,1237.7 787.1,1237.6 787.6,1237.8 789.4,1237.5 790.2,1237.8 791.5,1237.6 793.0,1237.9 793.8,1237.6 796.2,1238.2 798.5,1237.8 801.3,1238.3 802.8,1238.0 804.1,1238.5 805.7,1238.2 807.7,1238.5 809.3,1238.4 809.7,1238.6 811.2,1238.6 812.5,1239.0 813.7,1238.6 816.7,1238.9 817.9,1238.6 818.7,1238.8 819.6,1238.7 820.9,1239.2 822.2,1238.8 825.9,1239.3 829.0,1239.0 830.9,1239.4 832.4,1239.3 834.0,1239.6 834.9,1239.3 836.5,1239.8 838.2,1239.2 839.4,1239.9 841.3,1239.3 843.6,1239.4" fill="none" stroke="#111" stroke-width="1.80" stroke-linejoin="round"/>
<line x1="566.2" y1="1255.3" x2="843.6" y2="1255.3" stroke="#333" stroke-width="1.60"/>
<line x1="565.9" y1="1255.3" x2="565.9" y2="1261.5" stroke="#333" stroke-width="1.30"/>
<line x1="602.8" y1="1255.3" x2="602.8" y2="1261.5" stroke="#333" stroke-width="1.30"/>
<line x1="639.7" y1="1255.3" x2="639.7" y2="1261.5" stroke="#333" stroke-width="1.30"/>
<line x1="676.6" y1="1255.3" x2="676.6" y2="1261.5" stroke="#333" stroke-width="1.30"/>
<line x1="713.5" y1="1255.3" x2="713.5" y2="1261.5" stroke="#333" stroke-width="1.30"/>
<line x1="750.4" y1="1255.3" x2="750.4" y2="1261.5" stroke="#333" stroke-width="1.30"/>
<line x1="787.3" y1="1255.3" x2="787.3" y2="1261.5" stroke="#333" stroke-width="1.30"/>
<line x1="824.2" y1="1255.3" x2="824.2" y2="1261.5" stroke="#333" stroke-width="1.30"/>
<line x1="584.4" y1="1255.3" x2="584.4" y2="1259.0" stroke="#333" stroke-width="1.20"/>
<line x1="621.2" y1="1255.3" x2="621.2" y2="1259.0" stroke="#333" stroke-width="1.20"/>
<line x1="658.1" y1="1255.3" x2="658.1" y2="1259.0" stroke="#333" stroke-width="1.20"/>
<line x1="695.0" y1="1255.3" x2="695.0" y2="1259.0" stroke="#333" stroke-width="1.20"/>
<line x1="732.0" y1="1255.3" x2="732.0" y2="1259.0" stroke="#333" stroke-width="1.20"/>
<line x1="768.9" y1="1255.3" x2="768.9" y2="1259.0" stroke="#333" stroke-width="1.20"/>
<line x1="805.8" y1="1255.3" x2="805.8" y2="1259.0" stroke="#333" stroke-width="1.20"/>
<line x1="842.7" y1="1255.3" x2="842.7" y2="1259.0" stroke="#333" stroke-width="1.20"/>
<text x="566.5" y="1280.5" font-family="Liberation Sans" font-size="16.0" font-weight="normal" font-style="normal" text-anchor="middle" fill="#222">1.8</text>
<text x="677.2" y="1280.5" font-family="Liberation Sans" font-size="16.0" font-weight="normal" font-style="normal" text-anchor="middle" fill="#222">1.5</text>
<text x="788.0" y="1280.5" font-family="Liberation Sans" font-size="16.0" font-weight="normal" font-style="normal" text-anchor="middle" fill="#222">1.2</text>
<text x="826.7" y="1232.5" font-family="Liberation Sans" font-size="16.5" font-weight="normal" font-style="normal" text-anchor="start" fill="#222">31 s</text>
<text x="843.6" y="1194.8" font-family="Liberation Sans" font-size="16.5" font-weight="normal" font-style="normal" text-anchor="start" fill="#222">58 s</text>
<text x="856.6" y="1153.0" font-family="Liberation Sans" font-size="16.5" font-weight="normal" font-style="normal" text-anchor="start" fill="#222">123 s</text>
<text x="867.7" y="1115.2" font-family="Liberation Sans" font-size="16.5" font-weight="normal" font-style="normal" text-anchor="start" fill="#222">189 s</text>
<text x="873.5" y="1075.2" font-family="Liberation Sans" font-size="16.5" font-weight="normal" font-style="normal" text-anchor="start" fill="#222">219 s</text>
<text x="888.0" y="1029.4" font-family="Liberation Sans" font-size="16.5" font-weight="normal" font-style="normal" text-anchor="start" fill="#222">718 s</text>
<text x="902.4" y="996.0" font-family="Liberation Sans" font-size="16.5" font-weight="normal" font-style="normal" text-anchor="start" fill="#222">902 s</text>
<text x="912.5" y="955.0" font-family="Liberation Sans" font-size="16.5" font-weight="normal" font-style="normal" text-anchor="start" fill="#222">1481 s</text>
<text x="689.2" y="943.3" font-family="Liberation Sans" font-size="17.0" font-weight="bold" font-style="italic" text-anchor="start" fill="#1a1a1a">a(-H)</text>
<text x="758.0" y="887.0" font-family="Liberation Sans" font-size="17.0" font-weight="bold" font-style="italic" text-anchor="start" fill="#1a1a1a">3a</text>
<text x="844.7" y="943.0" font-family="Liberation Sans" font-size="17.0" font-weight="bold" font-style="italic" text-anchor="start" fill="#1a1a1a">aH</text>
<text x="802.1" y="1110.6" font-family="Liberation Sans" font-size="17.0" font-weight="bold" font-style="italic" text-anchor="start" fill="#1a1a1a">aH</text>
<text x="537.5" y="1078.0" font-family="Liberation Sans" font-size="18.5" font-weight="bold" font-style="italic" text-anchor="start" fill="#1a1a1a">a(-H)</text>
<ellipse cx="683.2" cy="1079.8" rx="10.2" ry="19" fill="none" stroke="#111" stroke-width="2.1"/>
<ellipse cx="669.0" cy="1120.3" rx="10.2" ry="19" fill="none" stroke="#111" stroke-width="2.1"/>
<ellipse cx="658.0" cy="1164.6" rx="10.2" ry="19" fill="none" stroke="#111" stroke-width="2.1"/>
<path d="M573.2,1084.8L667.8,1069.9M659.5,1075.3L667.8,1069.9L658.3,1067.3" fill="none" stroke="#111" stroke-width="2.00" stroke-linecap="round" stroke-linejoin="miter"/>
<path d="M569.9,1086.4L649.6,1104.7M639.9,1106.6L649.6,1104.7L641.7,1098.8" fill="none" stroke="#111" stroke-width="2.00" stroke-linecap="round" stroke-linejoin="miter"/>
<path d="M564.0,1084.8L635.5,1150.4M626.2,1147.3L635.5,1150.4L631.6,1141.4" fill="none" stroke="#111" stroke-width="2.00" stroke-linecap="round" stroke-linejoin="miter"/></svg></body></html>
